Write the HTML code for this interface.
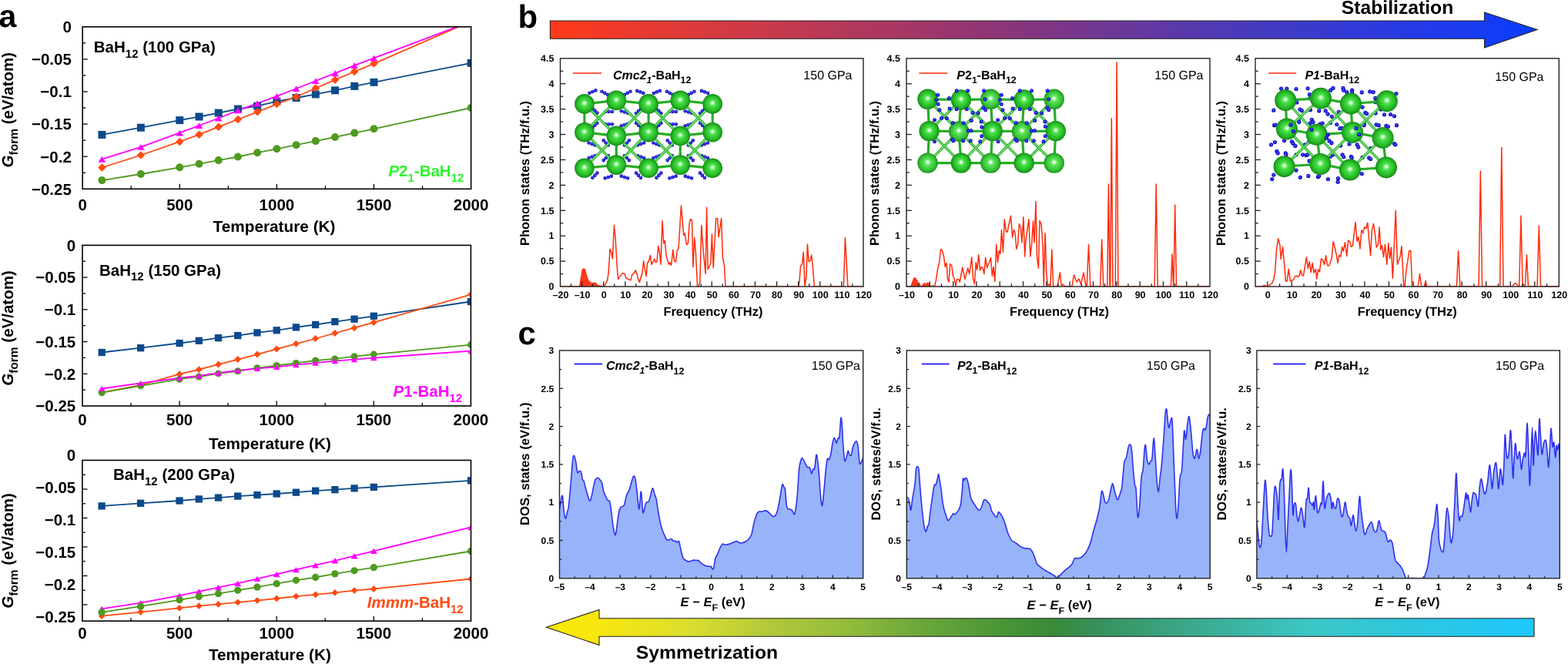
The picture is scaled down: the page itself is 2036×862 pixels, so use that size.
<!DOCTYPE html>
<html><head><meta charset="utf-8"><title>BaH12 figure</title>
<style>html,body{margin:0;padding:0;background:#fff;} svg{display:block;} text{font-family:'Liberation Sans', Arial, Helvetica, sans-serif;}</style>
</head><body>
<svg width="2036" height="862" viewBox="0 0 2036 862" font-family="'Liberation Sans', Arial, Helvetica, sans-serif" text-rendering="geometricPrecision">
<rect width="2036" height="862" fill="#fff"/>
<defs>
<radialGradient id="gBa" cx="0.5" cy="0.5" r="0.5" fx="0.5" fy="0.45">
<stop offset="0" stop-color="#ffffff"/><stop offset="0.1" stop-color="#c8fac8"/><stop offset="0.32" stop-color="#48e048"/><stop offset="0.72" stop-color="#28bd28"/><stop offset="0.92" stop-color="#1c9a1c"/><stop offset="1" stop-color="#148414"/></radialGradient>
<radialGradient id="gBa2" cx="0.5" cy="0.5" r="0.5" fx="0.5" fy="0.45">
<stop offset="0" stop-color="#ffffff"/><stop offset="0.1" stop-color="#d0fad0"/><stop offset="0.32" stop-color="#5ce25c"/><stop offset="0.72" stop-color="#38c438"/><stop offset="0.92" stop-color="#26a226"/><stop offset="1" stop-color="#1a8c1a"/></radialGradient>
<radialGradient id="gH" cx="0.5" cy="0.5" r="0.5" fx="0.45" fy="0.4">
<stop offset="0" stop-color="#7878ff"/><stop offset="0.45" stop-color="#2424ea"/><stop offset="1" stop-color="#0c0cb0"/></radialGradient>
<linearGradient id="gTop" gradientUnits="userSpaceOnUse" x1="714" y1="0" x2="1996" y2="0">
<stop offset="0" stop-color="#ff3a1a"/><stop offset="0.22" stop-color="#c83a4c"/><stop offset="0.46" stop-color="#8c3578"/><stop offset="0.69" stop-color="#4b3ab8"/><stop offset="0.85" stop-color="#2a3ae0"/><stop offset="1" stop-color="#0a3cff"/></linearGradient>
<linearGradient id="gBot" gradientUnits="userSpaceOnUse" x1="709.5" y1="0" x2="1992" y2="0">
<stop offset="0" stop-color="#fbe905"/><stop offset="0.06" stop-color="#f6e612"/><stop offset="0.149" stop-color="#d8de30"/><stop offset="0.226" stop-color="#b2c83a"/><stop offset="0.304" stop-color="#94bc3c"/><stop offset="0.382" stop-color="#6aa63a"/><stop offset="0.46" stop-color="#4a9636"/><stop offset="0.515" stop-color="#388a3a"/><stop offset="0.554" stop-color="#36905a"/><stop offset="0.616" stop-color="#3aa07a"/><stop offset="0.772" stop-color="#3cc6c6"/><stop offset="1" stop-color="#1ec8ff"/></linearGradient>
</defs>
<clipPath id="c1"><rect x="107.2" y="34.8" width="504.4" height="210.5"/></clipPath>
<g clip-path="url(#c1)">
<polyline points="132.42,174.9 182.86,165.7 233.3,156.1 258.52,151.5 283.74,146.6 308.96,141.5 334.18,137.7 359.4,131.6 384.62,127 409.84,122.4 435.06,117.3 460.28,111.9 485.5,106.8 611.6,81.8" fill="none" stroke="#0b4a8b" stroke-width="1.8" stroke-linejoin="round" />
<polyline points="132.42,217.5 182.86,201.5 233.3,183.9 258.52,174.7 283.74,164.7 308.96,155 334.18,145.3 359.4,135.1 384.62,125.7 409.84,114.5 435.06,103.7 460.28,93 485.5,82.6 611.6,27.7" fill="none" stroke="#ff4a12" stroke-width="1.8" stroke-linejoin="round" />
<polyline points="132.42,234.1 182.86,226 233.3,217.3 258.52,212.7 283.74,208.1 308.96,203.5 334.18,198.2 359.4,193.3 384.62,188.2 409.84,183.1 435.06,178 460.28,172.6 485.5,167.3 611.6,140" fill="none" stroke="#4e9a1f" stroke-width="1.8" stroke-linejoin="round" />
<polyline points="132.42,206.6 182.86,190.8 233.3,172.4 258.52,163 283.74,153.5 308.96,143.3 334.18,134.1 359.4,124.9 384.62,115 409.84,105 435.06,95.1 460.28,84.9 485.5,75.4 611.6,27.9" fill="none" stroke="#ff00ff" stroke-width="1.8" stroke-linejoin="round" />
<rect x="127.42" y="169.9" width="10" height="10" fill="#0b4a8b"/>
<rect x="177.86" y="160.7" width="10" height="10" fill="#0b4a8b"/>
<rect x="228.3" y="151.1" width="10" height="10" fill="#0b4a8b"/>
<rect x="253.52" y="146.5" width="10" height="10" fill="#0b4a8b"/>
<rect x="278.74" y="141.6" width="10" height="10" fill="#0b4a8b"/>
<rect x="303.96" y="136.5" width="10" height="10" fill="#0b4a8b"/>
<rect x="329.18" y="132.7" width="10" height="10" fill="#0b4a8b"/>
<rect x="354.4" y="126.6" width="10" height="10" fill="#0b4a8b"/>
<rect x="379.62" y="122" width="10" height="10" fill="#0b4a8b"/>
<rect x="404.84" y="117.4" width="10" height="10" fill="#0b4a8b"/>
<rect x="430.06" y="112.3" width="10" height="10" fill="#0b4a8b"/>
<rect x="455.28" y="106.9" width="10" height="10" fill="#0b4a8b"/>
<rect x="480.5" y="101.8" width="10" height="10" fill="#0b4a8b"/>
<rect x="606.6" y="76.8" width="10" height="10" fill="#0b4a8b"/>
<polygon points="132.42,212.25 137.67,217.5 132.42,222.75 127.17,217.5" fill="#ff4a12"/>
<polygon points="182.86,196.25 188.11,201.5 182.86,206.75 177.61,201.5" fill="#ff4a12"/>
<polygon points="233.3,178.65 238.55,183.9 233.3,189.15 228.05,183.9" fill="#ff4a12"/>
<polygon points="258.52,169.45 263.77,174.7 258.52,179.95 253.27,174.7" fill="#ff4a12"/>
<polygon points="283.74,159.45 288.99,164.7 283.74,169.95 278.49,164.7" fill="#ff4a12"/>
<polygon points="308.96,149.75 314.21,155 308.96,160.25 303.71,155" fill="#ff4a12"/>
<polygon points="334.18,140.05 339.43,145.3 334.18,150.55 328.93,145.3" fill="#ff4a12"/>
<polygon points="359.4,129.85 364.65,135.1 359.4,140.35 354.15,135.1" fill="#ff4a12"/>
<polygon points="384.62,120.45 389.87,125.7 384.62,130.95 379.37,125.7" fill="#ff4a12"/>
<polygon points="409.84,109.25 415.09,114.5 409.84,119.75 404.59,114.5" fill="#ff4a12"/>
<polygon points="435.06,98.45 440.31,103.7 435.06,108.95 429.81,103.7" fill="#ff4a12"/>
<polygon points="460.28,87.75 465.53,93 460.28,98.25 455.03,93" fill="#ff4a12"/>
<polygon points="485.5,77.35 490.75,82.6 485.5,87.85 480.25,82.6" fill="#ff4a12"/>
<polygon points="611.6,22.45 616.85,27.7 611.6,32.95 606.35,27.7" fill="#ff4a12"/>
<circle cx="132.42" cy="234.1" r="5" fill="#4e9a1f"/>
<circle cx="182.86" cy="226" r="5" fill="#4e9a1f"/>
<circle cx="233.3" cy="217.3" r="5" fill="#4e9a1f"/>
<circle cx="258.52" cy="212.7" r="5" fill="#4e9a1f"/>
<circle cx="283.74" cy="208.1" r="5" fill="#4e9a1f"/>
<circle cx="308.96" cy="203.5" r="5" fill="#4e9a1f"/>
<circle cx="334.18" cy="198.2" r="5" fill="#4e9a1f"/>
<circle cx="359.4" cy="193.3" r="5" fill="#4e9a1f"/>
<circle cx="384.62" cy="188.2" r="5" fill="#4e9a1f"/>
<circle cx="409.84" cy="183.1" r="5" fill="#4e9a1f"/>
<circle cx="435.06" cy="178" r="5" fill="#4e9a1f"/>
<circle cx="460.28" cy="172.6" r="5" fill="#4e9a1f"/>
<circle cx="485.5" cy="167.3" r="5" fill="#4e9a1f"/>
<circle cx="611.6" cy="140" r="5" fill="#4e9a1f"/>
<polygon points="132.42,202.8 137.17,210.64 127.67,210.64" fill="#ff00ff"/>
<polygon points="182.86,187 187.61,194.84 178.11,194.84" fill="#ff00ff"/>
<polygon points="233.3,168.6 238.05,176.44 228.55,176.44" fill="#ff00ff"/>
<polygon points="258.52,159.2 263.27,167.04 253.77,167.04" fill="#ff00ff"/>
<polygon points="283.74,149.7 288.49,157.54 278.99,157.54" fill="#ff00ff"/>
<polygon points="308.96,139.5 313.71,147.34 304.21,147.34" fill="#ff00ff"/>
<polygon points="334.18,130.3 338.93,138.14 329.43,138.14" fill="#ff00ff"/>
<polygon points="359.4,121.1 364.15,128.94 354.65,128.94" fill="#ff00ff"/>
<polygon points="384.62,111.2 389.37,119.04 379.87,119.04" fill="#ff00ff"/>
<polygon points="409.84,101.2 414.59,109.04 405.09,109.04" fill="#ff00ff"/>
<polygon points="435.06,91.3 439.81,99.14 430.31,99.14" fill="#ff00ff"/>
<polygon points="460.28,81.1 465.03,88.94 455.53,88.94" fill="#ff00ff"/>
<polygon points="485.5,71.6 490.25,79.44 480.75,79.44" fill="#ff00ff"/>
<polygon points="611.6,24.1 616.35,31.94 606.85,31.94" fill="#ff00ff"/>
</g>
<rect x="107.2" y="34.8" width="504.4" height="210.5" fill="none" stroke="#000" stroke-width="1.6"/>
<line x1="107.2" y1="55.85" x2="111.2" y2="55.85" stroke="#000" stroke-width="1.3" />
<line x1="107.2" y1="76.9" x2="113.7" y2="76.9" stroke="#000" stroke-width="1.3" />
<line x1="107.2" y1="97.95" x2="111.2" y2="97.95" stroke="#000" stroke-width="1.3" />
<line x1="107.2" y1="119" x2="113.7" y2="119" stroke="#000" stroke-width="1.3" />
<line x1="107.2" y1="140.05" x2="111.2" y2="140.05" stroke="#000" stroke-width="1.3" />
<line x1="107.2" y1="161.1" x2="113.7" y2="161.1" stroke="#000" stroke-width="1.3" />
<line x1="107.2" y1="182.15" x2="111.2" y2="182.15" stroke="#000" stroke-width="1.3" />
<line x1="107.2" y1="203.2" x2="113.7" y2="203.2" stroke="#000" stroke-width="1.3" />
<line x1="107.2" y1="224.25" x2="111.2" y2="224.25" stroke="#000" stroke-width="1.3" />
<line x1="170.25" y1="245.3" x2="170.25" y2="241.3" stroke="#000" stroke-width="1.3" />
<line x1="233.3" y1="245.3" x2="233.3" y2="238.8" stroke="#000" stroke-width="1.3" />
<line x1="296.35" y1="245.3" x2="296.35" y2="241.3" stroke="#000" stroke-width="1.3" />
<line x1="359.4" y1="245.3" x2="359.4" y2="238.8" stroke="#000" stroke-width="1.3" />
<line x1="422.45" y1="245.3" x2="422.45" y2="241.3" stroke="#000" stroke-width="1.3" />
<line x1="485.5" y1="245.3" x2="485.5" y2="238.8" stroke="#000" stroke-width="1.3" />
<line x1="548.55" y1="245.3" x2="548.55" y2="241.3" stroke="#000" stroke-width="1.3" />
<text x="92.8" y="42.1" font-size="20.5" font-weight="bold" text-anchor="end" fill="#000" font-style="normal" >0</text>
<text x="92.8" y="84.2" font-size="20.5" font-weight="bold" text-anchor="end" fill="#000" font-style="normal" >&#8722;0.05</text>
<text x="92.8" y="126.3" font-size="20.5" font-weight="bold" text-anchor="end" fill="#000" font-style="normal" >&#8722;0.1</text>
<text x="92.8" y="168.4" font-size="20.5" font-weight="bold" text-anchor="end" fill="#000" font-style="normal" >&#8722;0.15</text>
<text x="92.8" y="210.5" font-size="20.5" font-weight="bold" text-anchor="end" fill="#000" font-style="normal" >&#8722;0.2</text>
<text x="92.8" y="252.6" font-size="20.5" font-weight="bold" text-anchor="end" fill="#000" font-style="normal" >&#8722;0.25</text>
<text x="107.2" y="272.8" font-size="20.5" font-weight="bold" text-anchor="middle" fill="#000" font-style="normal" >0</text>
<text x="233.3" y="272.8" font-size="20.5" font-weight="bold" text-anchor="middle" fill="#000" font-style="normal" >500</text>
<text x="359.4" y="272.8" font-size="20.5" font-weight="bold" text-anchor="middle" fill="#000" font-style="normal" >1000</text>
<text x="485.5" y="272.8" font-size="20.5" font-weight="bold" text-anchor="middle" fill="#000" font-style="normal" >1500</text>
<text x="611.6" y="272.8" font-size="20.5" font-weight="bold" text-anchor="middle" fill="#000" font-style="normal" >2000</text>
<text x="356" y="300.7" font-size="20.5" font-weight="bold" text-anchor="middle" fill="#000" font-style="normal" textLength="159" lengthAdjust="spacingAndGlyphs">Temperature (K)</text>
<text transform="translate(17.0,142.7) rotate(-90)" font-size="20.5" font-weight="bold" text-anchor="middle"><tspan font-style="italic">G</tspan><tspan font-size="15.5" dy="5.5">form</tspan><tspan dy="-5.5"> (eV/atom)</tspan></text>
<text x="121.8" y="68.3" font-size="20.5" font-weight="bold">BaH<tspan font-size="15" dy="6.5">12</tspan><tspan dy="-6.5"> (100 GPa)</tspan></text>
<text x="504.4" y="229" font-size="20.5" font-weight="bold" fill="#2df52d"><tspan font-style="italic">P</tspan>2<tspan font-size="15" dy="6.5">1</tspan><tspan dy="-6.5">-BaH</tspan><tspan font-size="15" dy="6.5">12</tspan></text>
<clipPath id="c2"><rect x="107" y="318.4" width="504.4" height="208.6"/></clipPath>
<g clip-path="url(#c2)">
<polyline points="132.22,457.5 182.66,451.7 233.1,445.5 258.32,442.3 283.54,438.7 308.76,435.6 333.98,431.9 359.2,428.8 384.42,424.9 409.64,421.5 434.86,417.6 460.08,414.2 485.3,410.3 611.4,391.5" fill="none" stroke="#0b4a8b" stroke-width="1.8" stroke-linejoin="round" />
<polyline points="132.22,509.7 182.66,500 233.1,485.7 258.32,479.7 283.54,473.1 308.76,466.6 333.98,460.1 359.2,453.1 384.42,446.3 409.64,439.5 434.86,432.5 460.08,425.7 485.3,418.6 611.4,382.3" fill="none" stroke="#ff4a12" stroke-width="1.8" stroke-linejoin="round" />
<polyline points="132.22,509.7 182.66,500.8 233.1,492.2 258.32,489.1 283.54,484.9 308.76,481.8 333.98,477.8 359.2,474.5 384.42,471.4 409.64,468 434.86,465.9 460.08,462.7 485.3,460.1 611.4,447.6" fill="none" stroke="#4e9a1f" stroke-width="1.8" stroke-linejoin="round" />
<polyline points="132.22,504.5 182.66,497.4 233.1,490.6 258.32,488 283.54,484.1 308.76,481 333.98,478.4 359.2,476.3 384.42,473.7 409.64,471.1 434.86,468.7 460.08,466.7 485.3,464.6 611.4,455.7" fill="none" stroke="#ff00ff" stroke-width="1.8" stroke-linejoin="round" />
<rect x="127.57" y="452.85" width="9.3" height="9.3" fill="#0b4a8b"/>
<rect x="178.01" y="447.05" width="9.3" height="9.3" fill="#0b4a8b"/>
<rect x="228.45" y="440.85" width="9.3" height="9.3" fill="#0b4a8b"/>
<rect x="253.67" y="437.65" width="9.3" height="9.3" fill="#0b4a8b"/>
<rect x="278.89" y="434.05" width="9.3" height="9.3" fill="#0b4a8b"/>
<rect x="304.11" y="430.95" width="9.3" height="9.3" fill="#0b4a8b"/>
<rect x="329.33" y="427.25" width="9.3" height="9.3" fill="#0b4a8b"/>
<rect x="354.55" y="424.15" width="9.3" height="9.3" fill="#0b4a8b"/>
<rect x="379.77" y="420.25" width="9.3" height="9.3" fill="#0b4a8b"/>
<rect x="404.99" y="416.85" width="9.3" height="9.3" fill="#0b4a8b"/>
<rect x="430.21" y="412.95" width="9.3" height="9.3" fill="#0b4a8b"/>
<rect x="455.43" y="409.55" width="9.3" height="9.3" fill="#0b4a8b"/>
<rect x="480.65" y="405.65" width="9.3" height="9.3" fill="#0b4a8b"/>
<rect x="606.75" y="386.85" width="9.3" height="9.3" fill="#0b4a8b"/>
<polygon points="132.22,505.2 136.72,509.7 132.22,514.2 127.72,509.7" fill="#ff4a12"/>
<polygon points="182.66,495.5 187.16,500 182.66,504.5 178.16,500" fill="#ff4a12"/>
<polygon points="233.1,481.2 237.6,485.7 233.1,490.2 228.6,485.7" fill="#ff4a12"/>
<polygon points="258.32,475.2 262.82,479.7 258.32,484.2 253.82,479.7" fill="#ff4a12"/>
<polygon points="283.54,468.6 288.04,473.1 283.54,477.6 279.04,473.1" fill="#ff4a12"/>
<polygon points="308.76,462.1 313.26,466.6 308.76,471.1 304.26,466.6" fill="#ff4a12"/>
<polygon points="333.98,455.6 338.48,460.1 333.98,464.6 329.48,460.1" fill="#ff4a12"/>
<polygon points="359.2,448.6 363.7,453.1 359.2,457.6 354.7,453.1" fill="#ff4a12"/>
<polygon points="384.42,441.8 388.92,446.3 384.42,450.8 379.92,446.3" fill="#ff4a12"/>
<polygon points="409.64,435 414.14,439.5 409.64,444 405.14,439.5" fill="#ff4a12"/>
<polygon points="434.86,428 439.36,432.5 434.86,437 430.36,432.5" fill="#ff4a12"/>
<polygon points="460.08,421.2 464.58,425.7 460.08,430.2 455.58,425.7" fill="#ff4a12"/>
<polygon points="485.3,414.1 489.8,418.6 485.3,423.1 480.8,418.6" fill="#ff4a12"/>
<polygon points="611.4,377.8 615.9,382.3 611.4,386.8 606.9,382.3" fill="#ff4a12"/>
<circle cx="132.22" cy="509.7" r="4.5" fill="#4e9a1f"/>
<circle cx="182.66" cy="500.8" r="4.5" fill="#4e9a1f"/>
<circle cx="233.1" cy="492.2" r="4.5" fill="#4e9a1f"/>
<circle cx="258.32" cy="489.1" r="4.5" fill="#4e9a1f"/>
<circle cx="283.54" cy="484.9" r="4.5" fill="#4e9a1f"/>
<circle cx="308.76" cy="481.8" r="4.5" fill="#4e9a1f"/>
<circle cx="333.98" cy="477.8" r="4.5" fill="#4e9a1f"/>
<circle cx="359.2" cy="474.5" r="4.5" fill="#4e9a1f"/>
<circle cx="384.42" cy="471.4" r="4.5" fill="#4e9a1f"/>
<circle cx="409.64" cy="468" r="4.5" fill="#4e9a1f"/>
<circle cx="434.86" cy="465.9" r="4.5" fill="#4e9a1f"/>
<circle cx="460.08" cy="462.7" r="4.5" fill="#4e9a1f"/>
<circle cx="485.3" cy="460.1" r="4.5" fill="#4e9a1f"/>
<circle cx="611.4" cy="447.6" r="4.5" fill="#4e9a1f"/>
<polygon points="132.22,501.1 136.47,508.11 127.97,508.11" fill="#ff00ff"/>
<polygon points="182.66,494 186.91,501.01 178.41,501.01" fill="#ff00ff"/>
<polygon points="233.1,487.2 237.35,494.21 228.85,494.21" fill="#ff00ff"/>
<polygon points="258.32,484.6 262.57,491.61 254.07,491.61" fill="#ff00ff"/>
<polygon points="283.54,480.7 287.79,487.71 279.29,487.71" fill="#ff00ff"/>
<polygon points="308.76,477.6 313.01,484.61 304.51,484.61" fill="#ff00ff"/>
<polygon points="333.98,475 338.23,482.01 329.73,482.01" fill="#ff00ff"/>
<polygon points="359.2,472.9 363.45,479.91 354.95,479.91" fill="#ff00ff"/>
<polygon points="384.42,470.3 388.67,477.31 380.17,477.31" fill="#ff00ff"/>
<polygon points="409.64,467.7 413.89,474.71 405.39,474.71" fill="#ff00ff"/>
<polygon points="434.86,465.3 439.11,472.31 430.61,472.31" fill="#ff00ff"/>
<polygon points="460.08,463.3 464.33,470.31 455.83,470.31" fill="#ff00ff"/>
<polygon points="485.3,461.2 489.55,468.21 481.05,468.21" fill="#ff00ff"/>
<polygon points="611.4,452.3 615.65,459.31 607.15,459.31" fill="#ff00ff"/>
</g>
<rect x="107" y="318.4" width="504.4" height="208.6" fill="none" stroke="#000" stroke-width="1.6"/>
<line x1="107" y1="339.26" x2="111" y2="339.26" stroke="#000" stroke-width="1.3" />
<line x1="107" y1="360.12" x2="113.5" y2="360.12" stroke="#000" stroke-width="1.3" />
<line x1="107" y1="380.98" x2="111" y2="380.98" stroke="#000" stroke-width="1.3" />
<line x1="107" y1="401.84" x2="113.5" y2="401.84" stroke="#000" stroke-width="1.3" />
<line x1="107" y1="422.7" x2="111" y2="422.7" stroke="#000" stroke-width="1.3" />
<line x1="107" y1="443.56" x2="113.5" y2="443.56" stroke="#000" stroke-width="1.3" />
<line x1="107" y1="464.42" x2="111" y2="464.42" stroke="#000" stroke-width="1.3" />
<line x1="107" y1="485.28" x2="113.5" y2="485.28" stroke="#000" stroke-width="1.3" />
<line x1="107" y1="506.14" x2="111" y2="506.14" stroke="#000" stroke-width="1.3" />
<line x1="170.05" y1="527" x2="170.05" y2="523" stroke="#000" stroke-width="1.3" />
<line x1="233.1" y1="527" x2="233.1" y2="520.5" stroke="#000" stroke-width="1.3" />
<line x1="296.15" y1="527" x2="296.15" y2="523" stroke="#000" stroke-width="1.3" />
<line x1="359.2" y1="527" x2="359.2" y2="520.5" stroke="#000" stroke-width="1.3" />
<line x1="422.25" y1="527" x2="422.25" y2="523" stroke="#000" stroke-width="1.3" />
<line x1="485.3" y1="527" x2="485.3" y2="520.5" stroke="#000" stroke-width="1.3" />
<line x1="548.35" y1="527" x2="548.35" y2="523" stroke="#000" stroke-width="1.3" />
<text x="98.2" y="325.7" font-size="20.5" font-weight="bold" text-anchor="end" fill="#000" font-style="normal" >0</text>
<text x="98.2" y="367.42" font-size="20.5" font-weight="bold" text-anchor="end" fill="#000" font-style="normal" >&#8722;0.05</text>
<text x="98.2" y="409.14" font-size="20.5" font-weight="bold" text-anchor="end" fill="#000" font-style="normal" >&#8722;0.1</text>
<text x="98.2" y="450.86" font-size="20.5" font-weight="bold" text-anchor="end" fill="#000" font-style="normal" >&#8722;0.15</text>
<text x="98.2" y="492.58" font-size="20.5" font-weight="bold" text-anchor="end" fill="#000" font-style="normal" >&#8722;0.2</text>
<text x="98.2" y="534.3" font-size="20.5" font-weight="bold" text-anchor="end" fill="#000" font-style="normal" >&#8722;0.25</text>
<text x="107" y="551.9" font-size="20.5" font-weight="bold" text-anchor="middle" fill="#000" font-style="normal" >0</text>
<text x="233.1" y="551.9" font-size="20.5" font-weight="bold" text-anchor="middle" fill="#000" font-style="normal" >500</text>
<text x="359.2" y="551.9" font-size="20.5" font-weight="bold" text-anchor="middle" fill="#000" font-style="normal" >1000</text>
<text x="485.3" y="551.9" font-size="20.5" font-weight="bold" text-anchor="middle" fill="#000" font-style="normal" >1500</text>
<text x="611.4" y="551.9" font-size="20.5" font-weight="bold" text-anchor="middle" fill="#000" font-style="normal" >2000</text>
<text x="350.4" y="582.7" font-size="20.5" font-weight="bold" text-anchor="middle" fill="#000" font-style="normal" textLength="159" lengthAdjust="spacingAndGlyphs">Temperature (K)</text>
<text transform="translate(17.0,426) rotate(-90)" font-size="20.5" font-weight="bold" text-anchor="middle"><tspan font-style="italic">G</tspan><tspan font-size="15.5" dy="5.5">form</tspan><tspan dy="-5.5"> (eV/atom)</tspan></text>
<text x="129" y="357.5" font-size="20.5" font-weight="bold">BaH<tspan font-size="15" dy="6.5">12</tspan><tspan dy="-6.5"> (150 GPa)</tspan></text>
<text x="510.6" y="515" font-size="20.5" font-weight="bold" fill="#ff00ff"><tspan font-style="italic">P</tspan>1-BaH<tspan font-size="15" dy="6.5">12</tspan></text>
<clipPath id="c3"><rect x="106.9" y="597.5" width="504.6" height="208.7"/></clipPath>
<g clip-path="url(#c3)">
<polyline points="132.13,656.9 182.59,653.3 233.05,650 258.28,647.9 283.51,646.1 308.74,644.1 333.97,642.6 359.2,641 384.43,639.2 409.66,637.2 434.89,635.7 460.12,633.9 485.35,632.4 611.5,623.9" fill="none" stroke="#0b4a8b" stroke-width="1.8" stroke-linejoin="round" />
<polyline points="132.13,799.7 182.59,794.6 233.05,789.3 258.28,786.7 283.51,784.4 308.74,781.9 333.97,779.6 359.2,777 384.43,774.2 409.66,771.9 434.89,769.4 460.12,766.6 485.35,764.5 611.5,751.5" fill="none" stroke="#ff4a12" stroke-width="1.8" stroke-linejoin="round" />
<polyline points="132.13,790.3 182.59,782.7 233.05,773.2 258.28,767.9 283.51,762.7 308.74,757.4 333.97,751.3 359.2,745.4 384.43,739.5 409.66,733.7 434.89,727.8 460.12,721.7 485.35,715.3 611.5,684.4" fill="none" stroke="#ff00ff" stroke-width="1.8" stroke-linejoin="round" />
<polyline points="132.13,794.9 182.59,787.2 233.05,778.8 258.28,774.5 283.51,770.7 308.74,766.3 333.97,762.2 359.2,757.7 384.43,753.3 409.66,749.5 434.89,744.9 460.12,740.8 485.35,736.7 611.5,715.5" fill="none" stroke="#4e9a1f" stroke-width="1.8" stroke-linejoin="round" />
<rect x="127.48" y="652.25" width="9.3" height="9.3" fill="#0b4a8b"/>
<rect x="177.94" y="648.65" width="9.3" height="9.3" fill="#0b4a8b"/>
<rect x="228.4" y="645.35" width="9.3" height="9.3" fill="#0b4a8b"/>
<rect x="253.63" y="643.25" width="9.3" height="9.3" fill="#0b4a8b"/>
<rect x="278.86" y="641.45" width="9.3" height="9.3" fill="#0b4a8b"/>
<rect x="304.09" y="639.45" width="9.3" height="9.3" fill="#0b4a8b"/>
<rect x="329.32" y="637.95" width="9.3" height="9.3" fill="#0b4a8b"/>
<rect x="354.55" y="636.35" width="9.3" height="9.3" fill="#0b4a8b"/>
<rect x="379.78" y="634.55" width="9.3" height="9.3" fill="#0b4a8b"/>
<rect x="405.01" y="632.55" width="9.3" height="9.3" fill="#0b4a8b"/>
<rect x="430.24" y="631.05" width="9.3" height="9.3" fill="#0b4a8b"/>
<rect x="455.47" y="629.25" width="9.3" height="9.3" fill="#0b4a8b"/>
<rect x="480.7" y="627.75" width="9.3" height="9.3" fill="#0b4a8b"/>
<rect x="606.85" y="619.25" width="9.3" height="9.3" fill="#0b4a8b"/>
<polygon points="132.13,795.3 136.53,799.7 132.13,804.1 127.73,799.7" fill="#ff4a12"/>
<polygon points="182.59,790.2 186.99,794.6 182.59,799 178.19,794.6" fill="#ff4a12"/>
<polygon points="233.05,784.9 237.45,789.3 233.05,793.7 228.65,789.3" fill="#ff4a12"/>
<polygon points="258.28,782.3 262.68,786.7 258.28,791.1 253.88,786.7" fill="#ff4a12"/>
<polygon points="283.51,780 287.91,784.4 283.51,788.8 279.11,784.4" fill="#ff4a12"/>
<polygon points="308.74,777.5 313.14,781.9 308.74,786.3 304.34,781.9" fill="#ff4a12"/>
<polygon points="333.97,775.2 338.37,779.6 333.97,784 329.57,779.6" fill="#ff4a12"/>
<polygon points="359.2,772.6 363.6,777 359.2,781.4 354.8,777" fill="#ff4a12"/>
<polygon points="384.43,769.8 388.83,774.2 384.43,778.6 380.03,774.2" fill="#ff4a12"/>
<polygon points="409.66,767.5 414.06,771.9 409.66,776.3 405.26,771.9" fill="#ff4a12"/>
<polygon points="434.89,765 439.29,769.4 434.89,773.8 430.49,769.4" fill="#ff4a12"/>
<polygon points="460.12,762.2 464.52,766.6 460.12,771 455.72,766.6" fill="#ff4a12"/>
<polygon points="485.35,760.1 489.75,764.5 485.35,768.9 480.95,764.5" fill="#ff4a12"/>
<polygon points="611.5,747.1 615.9,751.5 611.5,755.9 607.1,751.5" fill="#ff4a12"/>
<polygon points="132.13,786.7 136.63,794.12 127.63,794.12" fill="#ff00ff"/>
<polygon points="182.59,779.1 187.09,786.53 178.09,786.53" fill="#ff00ff"/>
<polygon points="233.05,769.6 237.55,777.03 228.55,777.03" fill="#ff00ff"/>
<polygon points="258.28,764.3 262.78,771.73 253.78,771.73" fill="#ff00ff"/>
<polygon points="283.51,759.1 288.01,766.53 279.01,766.53" fill="#ff00ff"/>
<polygon points="308.74,753.8 313.24,761.23 304.24,761.23" fill="#ff00ff"/>
<polygon points="333.97,747.7 338.47,755.12 329.47,755.12" fill="#ff00ff"/>
<polygon points="359.2,741.8 363.7,749.23 354.7,749.23" fill="#ff00ff"/>
<polygon points="384.43,735.9 388.93,743.33 379.93,743.33" fill="#ff00ff"/>
<polygon points="409.66,730.1 414.16,737.53 405.16,737.53" fill="#ff00ff"/>
<polygon points="434.89,724.2 439.39,731.62 430.39,731.62" fill="#ff00ff"/>
<polygon points="460.12,718.1 464.62,725.53 455.62,725.53" fill="#ff00ff"/>
<polygon points="485.35,711.7 489.85,719.12 480.85,719.12" fill="#ff00ff"/>
<polygon points="611.5,680.8 616,688.23 607,688.23" fill="#ff00ff"/>
<circle cx="132.13" cy="794.9" r="4.65" fill="#4e9a1f"/>
<circle cx="182.59" cy="787.2" r="4.65" fill="#4e9a1f"/>
<circle cx="233.05" cy="778.8" r="4.65" fill="#4e9a1f"/>
<circle cx="258.28" cy="774.5" r="4.65" fill="#4e9a1f"/>
<circle cx="283.51" cy="770.7" r="4.65" fill="#4e9a1f"/>
<circle cx="308.74" cy="766.3" r="4.65" fill="#4e9a1f"/>
<circle cx="333.97" cy="762.2" r="4.65" fill="#4e9a1f"/>
<circle cx="359.2" cy="757.7" r="4.65" fill="#4e9a1f"/>
<circle cx="384.43" cy="753.3" r="4.65" fill="#4e9a1f"/>
<circle cx="409.66" cy="749.5" r="4.65" fill="#4e9a1f"/>
<circle cx="434.89" cy="744.9" r="4.65" fill="#4e9a1f"/>
<circle cx="460.12" cy="740.8" r="4.65" fill="#4e9a1f"/>
<circle cx="485.35" cy="736.7" r="4.65" fill="#4e9a1f"/>
<circle cx="611.5" cy="715.5" r="4.65" fill="#4e9a1f"/>
</g>
<rect x="106.9" y="597.5" width="504.6" height="208.7" fill="none" stroke="#000" stroke-width="1.6"/>
<line x1="106.9" y1="616.25" x2="110.9" y2="616.25" stroke="#000" stroke-width="1.3" />
<line x1="106.9" y1="635" x2="113.4" y2="635" stroke="#000" stroke-width="1.3" />
<line x1="106.9" y1="653.75" x2="110.9" y2="653.75" stroke="#000" stroke-width="1.3" />
<line x1="106.9" y1="672.5" x2="113.4" y2="672.5" stroke="#000" stroke-width="1.3" />
<line x1="106.9" y1="691.25" x2="110.9" y2="691.25" stroke="#000" stroke-width="1.3" />
<line x1="106.9" y1="710" x2="113.4" y2="710" stroke="#000" stroke-width="1.3" />
<line x1="106.9" y1="728.75" x2="110.9" y2="728.75" stroke="#000" stroke-width="1.3" />
<line x1="106.9" y1="747.5" x2="113.4" y2="747.5" stroke="#000" stroke-width="1.3" />
<line x1="106.9" y1="766.25" x2="110.9" y2="766.25" stroke="#000" stroke-width="1.3" />
<line x1="106.9" y1="785" x2="113.4" y2="785" stroke="#000" stroke-width="1.3" />
<line x1="169.98" y1="806.2" x2="169.98" y2="802.2" stroke="#000" stroke-width="1.3" />
<line x1="233.05" y1="806.2" x2="233.05" y2="799.7" stroke="#000" stroke-width="1.3" />
<line x1="296.12" y1="806.2" x2="296.12" y2="802.2" stroke="#000" stroke-width="1.3" />
<line x1="359.2" y1="806.2" x2="359.2" y2="799.7" stroke="#000" stroke-width="1.3" />
<line x1="422.27" y1="806.2" x2="422.27" y2="802.2" stroke="#000" stroke-width="1.3" />
<line x1="485.35" y1="806.2" x2="485.35" y2="799.7" stroke="#000" stroke-width="1.3" />
<line x1="548.42" y1="806.2" x2="548.42" y2="802.2" stroke="#000" stroke-width="1.3" />
<text x="98.2" y="598.4" font-size="20.5" font-weight="bold" text-anchor="end" fill="#000" font-style="normal" >0</text>
<text x="98.2" y="640.4" font-size="20.5" font-weight="bold" text-anchor="end" fill="#000" font-style="normal" >&#8722;0.05</text>
<text x="98.2" y="682.4" font-size="20.5" font-weight="bold" text-anchor="end" fill="#000" font-style="normal" >&#8722;0.1</text>
<text x="98.2" y="724.4" font-size="20.5" font-weight="bold" text-anchor="end" fill="#000" font-style="normal" >&#8722;0.15</text>
<text x="98.2" y="766.4" font-size="20.5" font-weight="bold" text-anchor="end" fill="#000" font-style="normal" >&#8722;0.2</text>
<text x="98.2" y="808.4" font-size="20.5" font-weight="bold" text-anchor="end" fill="#000" font-style="normal" >&#8722;0.25</text>
<text x="106.9" y="829.1" font-size="20.5" font-weight="bold" text-anchor="middle" fill="#000" font-style="normal" >0</text>
<text x="233.05" y="829.1" font-size="20.5" font-weight="bold" text-anchor="middle" fill="#000" font-style="normal" >500</text>
<text x="359.2" y="829.1" font-size="20.5" font-weight="bold" text-anchor="middle" fill="#000" font-style="normal" >1000</text>
<text x="485.35" y="829.1" font-size="20.5" font-weight="bold" text-anchor="middle" fill="#000" font-style="normal" >1500</text>
<text x="611.5" y="829.1" font-size="20.5" font-weight="bold" text-anchor="middle" fill="#000" font-style="normal" >2000</text>
<text x="350.4" y="856.5" font-size="20.5" font-weight="bold" text-anchor="middle" fill="#000" font-style="normal" textLength="159" lengthAdjust="spacingAndGlyphs">Temperature (K)</text>
<text transform="translate(17.0,715) rotate(-90)" font-size="20.5" font-weight="bold" text-anchor="middle"><tspan font-style="italic">G</tspan><tspan font-size="15.5" dy="5.5">form</tspan><tspan dy="-5.5"> (eV/atom)</tspan></text>
<text x="147" y="623" font-size="20.5" font-weight="bold">BaH<tspan font-size="15" dy="6.5">12</tspan><tspan dy="-6.5"> (200 GPa)</tspan></text>
<text x="476.8" y="789" font-size="20.5" font-weight="bold" fill="#ff4a12"><tspan font-style="italic">Immm</tspan>-BaH<tspan font-size="15" dy="6.5">12</tspan></text>
<text x="-1.5" y="35" font-size="41" font-weight="bold" text-anchor="start" fill="#000" font-style="normal" >a</text>
<text x="672.5" y="35.5" font-size="42" font-weight="bold" text-anchor="start" fill="#000" font-style="normal" >b</text>
<text x="672.5" y="446.5" font-size="42" font-weight="bold" text-anchor="start" fill="#000" font-style="normal" >c</text>
<clipPath id="c4"><rect x="727.5" y="73.8" width="393.5" height="298.2"/></clipPath>
<g clip-path="url(#c4)">
<polygon points="752.43,371.74 756.2,349.56 756.96,348.81 759.52,349.26 760.73,354.09 762.99,361.63 765.26,365.4 768.27,367.36 771.29,367.36 773.1,366.61 775.06,369.17 777.32,370.68 780.34,370.98 783.66,371.74" fill="#ff3a1c" stroke="#ff2a0a" stroke-width="1"/>
<polyline points="726.49,371.74 783.66,371.74 786.38,368.42 788.64,363.89 790.15,354.09 792.11,323.16 793.92,327.69 795.43,335.99 797.39,292.24 799.2,310.34 801.46,349.56 802.67,362.38 804.48,359.37 808.25,354.84 809.76,354.84 811.57,356.35 812.77,360.88 815.79,362.38 818.81,363.89 821.07,356.35 823.33,354.84 825.14,350.77 827.11,355.6 828.61,362.38 830.42,366.46 831.93,360.88 833.89,355.6 835.7,338.7 837.66,351.07 839.17,358.61 840.68,340.51 842.19,340.21 844.45,331.46 845.96,343.53 849.73,336.29 851.24,340.51 853.05,339.76 854.71,319.39 856.52,328.44 858.03,343.23 859.99,286.66 861.8,315.92 863.31,312.6 865.12,332.21 868.59,343.53 869.65,340.51 871.61,344.28 873.87,324.37 875.68,339.3 877.64,339.76 879.15,325.43 881.11,322.41 884.43,266.9 887.75,305.51 889.26,302.8 891.52,317.88 893.48,315.62 894.99,291.48 896.5,284.39 898.46,286.2 899.97,346.55 901.78,308.53 903.29,325.43 905.55,371.74 907.06,371.44 908.87,366.16 910.83,292.54 912.79,320.9 916.11,355.6 917.62,269.31 919.13,349.56 921.09,345.79 922.9,342.02 924.4,304.01 926.22,347.75 929.68,283.49 931.65,283.49 933.15,307.63 936.62,283.49 938.43,334.48 940.55,345.04 942.05,371.74 1036.86,371.87 1038.02,365.84 1039.52,344.96 1041.5,343.57 1043.24,326.98 1044.98,371.87 1046.95,358.88 1048.46,316.89 1050.2,339.74 1051.94,339.16 1053.68,331.04 1055.42,346.12 1057.39,371.87 1095.43,371.87 1097.41,308.42 1100.89,371.87 1125.59,371.87" fill="none" stroke="#ff2a0a" stroke-width="1.5" stroke-linejoin="round" />
</g>
<rect x="727.5" y="75.8" width="393.5" height="296.2" fill="none" stroke="#222" stroke-width="1.4"/>
<line x1="727.5" y1="355.54" x2="731.3" y2="355.54" stroke="#222" stroke-width="1.3" />
<line x1="727.5" y1="339.09" x2="734.3" y2="339.09" stroke="#222" stroke-width="1.3" />
<line x1="727.5" y1="322.63" x2="731.3" y2="322.63" stroke="#222" stroke-width="1.3" />
<line x1="727.5" y1="306.18" x2="734.3" y2="306.18" stroke="#222" stroke-width="1.3" />
<line x1="727.5" y1="289.72" x2="731.3" y2="289.72" stroke="#222" stroke-width="1.3" />
<line x1="727.5" y1="273.27" x2="734.3" y2="273.27" stroke="#222" stroke-width="1.3" />
<line x1="727.5" y1="256.81" x2="731.3" y2="256.81" stroke="#222" stroke-width="1.3" />
<line x1="727.5" y1="240.36" x2="734.3" y2="240.36" stroke="#222" stroke-width="1.3" />
<line x1="727.5" y1="223.9" x2="731.3" y2="223.9" stroke="#222" stroke-width="1.3" />
<line x1="727.5" y1="207.44" x2="734.3" y2="207.44" stroke="#222" stroke-width="1.3" />
<line x1="727.5" y1="190.99" x2="731.3" y2="190.99" stroke="#222" stroke-width="1.3" />
<line x1="727.5" y1="174.53" x2="734.3" y2="174.53" stroke="#222" stroke-width="1.3" />
<line x1="727.5" y1="158.08" x2="731.3" y2="158.08" stroke="#222" stroke-width="1.3" />
<line x1="727.5" y1="141.62" x2="734.3" y2="141.62" stroke="#222" stroke-width="1.3" />
<line x1="727.5" y1="125.17" x2="731.3" y2="125.17" stroke="#222" stroke-width="1.3" />
<line x1="727.5" y1="108.71" x2="734.3" y2="108.71" stroke="#222" stroke-width="1.3" />
<line x1="727.5" y1="92.26" x2="731.3" y2="92.26" stroke="#222" stroke-width="1.3" />
<line x1="741.55" y1="372" x2="741.55" y2="368.2" stroke="#222" stroke-width="1.3" />
<line x1="755.61" y1="372" x2="755.61" y2="365.2" stroke="#222" stroke-width="1.3" />
<line x1="769.66" y1="372" x2="769.66" y2="368.2" stroke="#222" stroke-width="1.3" />
<line x1="783.71" y1="372" x2="783.71" y2="365.2" stroke="#222" stroke-width="1.3" />
<line x1="797.77" y1="372" x2="797.77" y2="368.2" stroke="#222" stroke-width="1.3" />
<line x1="811.82" y1="372" x2="811.82" y2="365.2" stroke="#222" stroke-width="1.3" />
<line x1="825.88" y1="372" x2="825.88" y2="368.2" stroke="#222" stroke-width="1.3" />
<line x1="839.93" y1="372" x2="839.93" y2="365.2" stroke="#222" stroke-width="1.3" />
<line x1="853.98" y1="372" x2="853.98" y2="368.2" stroke="#222" stroke-width="1.3" />
<line x1="868.04" y1="372" x2="868.04" y2="365.2" stroke="#222" stroke-width="1.3" />
<line x1="882.09" y1="372" x2="882.09" y2="368.2" stroke="#222" stroke-width="1.3" />
<line x1="896.14" y1="372" x2="896.14" y2="365.2" stroke="#222" stroke-width="1.3" />
<line x1="910.2" y1="372" x2="910.2" y2="368.2" stroke="#222" stroke-width="1.3" />
<line x1="924.25" y1="372" x2="924.25" y2="365.2" stroke="#222" stroke-width="1.3" />
<line x1="938.3" y1="372" x2="938.3" y2="368.2" stroke="#222" stroke-width="1.3" />
<line x1="952.36" y1="372" x2="952.36" y2="365.2" stroke="#222" stroke-width="1.3" />
<line x1="966.41" y1="372" x2="966.41" y2="368.2" stroke="#222" stroke-width="1.3" />
<line x1="980.46" y1="372" x2="980.46" y2="365.2" stroke="#222" stroke-width="1.3" />
<line x1="994.52" y1="372" x2="994.52" y2="368.2" stroke="#222" stroke-width="1.3" />
<line x1="1008.57" y1="372" x2="1008.57" y2="365.2" stroke="#222" stroke-width="1.3" />
<line x1="1022.62" y1="372" x2="1022.62" y2="368.2" stroke="#222" stroke-width="1.3" />
<line x1="1036.68" y1="372" x2="1036.68" y2="365.2" stroke="#222" stroke-width="1.3" />
<line x1="1050.73" y1="372" x2="1050.73" y2="368.2" stroke="#222" stroke-width="1.3" />
<line x1="1064.79" y1="372" x2="1064.79" y2="365.2" stroke="#222" stroke-width="1.3" />
<line x1="1078.84" y1="372" x2="1078.84" y2="368.2" stroke="#222" stroke-width="1.3" />
<line x1="1092.89" y1="372" x2="1092.89" y2="365.2" stroke="#222" stroke-width="1.3" />
<line x1="1106.95" y1="372" x2="1106.95" y2="368.2" stroke="#222" stroke-width="1.3" />
<text x="719.5" y="376.3" font-size="12.5" font-weight="bold" text-anchor="end" fill="#000" font-style="normal" >0</text>
<text x="719.5" y="343.39" font-size="12.5" font-weight="bold" text-anchor="end" fill="#000" font-style="normal" >0.5</text>
<text x="719.5" y="310.48" font-size="12.5" font-weight="bold" text-anchor="end" fill="#000" font-style="normal" >1</text>
<text x="719.5" y="277.57" font-size="12.5" font-weight="bold" text-anchor="end" fill="#000" font-style="normal" >1.5</text>
<text x="719.5" y="244.66" font-size="12.5" font-weight="bold" text-anchor="end" fill="#000" font-style="normal" >2</text>
<text x="719.5" y="211.74" font-size="12.5" font-weight="bold" text-anchor="end" fill="#000" font-style="normal" >2.5</text>
<text x="719.5" y="178.83" font-size="12.5" font-weight="bold" text-anchor="end" fill="#000" font-style="normal" >3</text>
<text x="719.5" y="145.92" font-size="12.5" font-weight="bold" text-anchor="end" fill="#000" font-style="normal" >3.5</text>
<text x="719.5" y="113.01" font-size="12.5" font-weight="bold" text-anchor="end" fill="#000" font-style="normal" >4</text>
<text x="719.5" y="80.1" font-size="12.5" font-weight="bold" text-anchor="end" fill="#000" font-style="normal" >4.5</text>
<text x="728" y="387.4" font-size="12.5" font-weight="bold" text-anchor="middle" fill="#000" font-style="normal" >&#8211;20</text>
<text x="756.11" y="387.4" font-size="12.5" font-weight="bold" text-anchor="middle" fill="#000" font-style="normal" >&#8211;10</text>
<text x="784.21" y="387.4" font-size="12.5" font-weight="bold" text-anchor="middle" fill="#000" font-style="normal" >0</text>
<text x="812.32" y="387.4" font-size="12.5" font-weight="bold" text-anchor="middle" fill="#000" font-style="normal" >10</text>
<text x="840.43" y="387.4" font-size="12.5" font-weight="bold" text-anchor="middle" fill="#000" font-style="normal" >20</text>
<text x="868.54" y="387.4" font-size="12.5" font-weight="bold" text-anchor="middle" fill="#000" font-style="normal" >30</text>
<text x="896.64" y="387.4" font-size="12.5" font-weight="bold" text-anchor="middle" fill="#000" font-style="normal" >40</text>
<text x="924.75" y="387.4" font-size="12.5" font-weight="bold" text-anchor="middle" fill="#000" font-style="normal" >50</text>
<text x="952.86" y="387.4" font-size="12.5" font-weight="bold" text-anchor="middle" fill="#000" font-style="normal" >60</text>
<text x="980.96" y="387.4" font-size="12.5" font-weight="bold" text-anchor="middle" fill="#000" font-style="normal" >70</text>
<text x="1009.07" y="387.4" font-size="12.5" font-weight="bold" text-anchor="middle" fill="#000" font-style="normal" >80</text>
<text x="1037.18" y="387.4" font-size="12.5" font-weight="bold" text-anchor="middle" fill="#000" font-style="normal" >90</text>
<text x="1065.29" y="387.4" font-size="12.5" font-weight="bold" text-anchor="middle" fill="#000" font-style="normal" >100</text>
<text x="1093.39" y="387.4" font-size="12.5" font-weight="bold" text-anchor="middle" fill="#000" font-style="normal" >110</text>
<text x="1121.5" y="387.4" font-size="12.5" font-weight="bold" text-anchor="middle" fill="#000" font-style="normal" >120</text>
<text x="925.9" y="410" font-size="16.5" font-weight="bold" text-anchor="middle" fill="#000" font-style="normal" textLength="129" lengthAdjust="spacingAndGlyphs">Frequency (THz)</text>
<text transform="translate(686.7,225) rotate(-90)" font-size="16.4" font-weight="bold" text-anchor="middle" textLength="188" lengthAdjust="spacingAndGlyphs">Phonon states (THz/f.u.)</text>
<line x1="744" y1="95" x2="781" y2="95" stroke="#ff2a0a" stroke-width="1.7" />
<text x="796" y="102.5" font-size="16" font-weight="bold"><tspan font-style="italic">Cmc2</tspan><tspan font-style="italic" font-size="12" dy="5.5">1</tspan><tspan dy="-5.5">-BaH</tspan><tspan font-size="12.5" dy="5.8">12</tspan></text>
<text x="1106.5" y="102.5" font-size="16" font-weight="normal" text-anchor="end" fill="#000" font-style="normal" >150 GPa</text>
<clipPath id="c5"><rect x="1177" y="73.8" width="394" height="298.2"/></clipPath>
<g clip-path="url(#c5)">
<polygon points="1182.82,371.74 1185.09,364.65 1186.9,360.57 1188.86,360.88 1191.12,364.65 1192.63,367.66 1193.83,366.91 1194.89,370.68 1196.4,371.74 1198.66,369.17 1200.62,366.91 1201.98,370.68 1203.19,367.66 1205,366.91 1206.96,369.17 1207.71,371.74" fill="#ff3a1c" stroke="#ff2a0a" stroke-width="1"/>
<polyline points="1176.49,371.74 1207.71,371.74 1213.75,370.68 1215.26,364.65 1217.52,349.56 1219.78,340.51 1221.59,323.47 1223.55,325.43 1225.51,332.97 1227.32,346.55 1228.53,342.02 1229.28,342.02 1230.34,361.63 1232.15,366.16 1233.66,342.77 1235.62,344.28 1237.58,358.61 1239.09,361.63 1240.9,371.44 1242.71,362.38 1244.67,362.84 1246.18,366.16 1249.65,347 1251.46,355.6 1252.97,362.38 1256.74,348.05 1258.7,355.6 1261.72,334.02 1263.53,361.63 1265.34,368.42 1267.3,340.51 1268.81,350.32 1270.77,330.71 1272.58,351.07 1274.39,346.55 1276.35,348.05 1277.86,355.6 1279.67,334.48 1281.63,347.3 1284.65,340.51 1286.46,334.48 1288.42,358.61 1289.93,346.55 1291.89,365.4 1293.7,317.13 1295.51,340.51 1297.47,325.43 1298.98,329.2 1300.49,298.57 1302.45,327.24 1304.26,285 1306.52,300.54 1308.03,301.29 1309.54,293.75 1312.56,280.17 1314.52,308.08 1316.33,298.27 1318.14,302.8 1319.8,323.16 1321.61,317.13 1323.42,290.73 1325.38,295.26 1326.89,314.87 1328.85,281.68 1330.66,332.97 1332.17,310.34 1335.94,284.7 1337.75,332.97 1339.71,316.38 1341.52,286.96 1343.03,314.87 1344.99,261.77 1346.5,332.97 1348.46,348.05 1349.97,286.2 1352.23,292.24 1354.04,317.88 1355.25,370.68 1357.06,302.8 1358.87,355.6 1360.38,370.68 1362.34,369.17 1363.85,371.74 1365.81,324.37 1367.62,371.74 1372.9,371.74 1376.37,353.79 1378.18,370.68 1380.44,369.17 1382.7,371.74 1391.75,371.74 1391.9,371.8 1394.4,357 1398,366 1400.9,362 1403.5,369 1407,354 1409.5,369 1410.5,371.8 1411.2,371.8 1413.5,317.5 1415.8,371.8 1425,371.8 1428.7,371.8 1430.7,311 1432.7,371.8 1437.8,371.8 1439.4,239 1441,371.8 1441.7,371.8 1443.3,153.5 1444.9,371.8 1448.3,371.8 1450.1,80.8 1451.9,371.8 1495,371.8 1499.2,371.8 1501.2,239 1503.2,371.8 1518,371.8 1520.4,371.8 1522,329.7 1523.6,371.8 1523.9,371.8 1525.7,266 1527.5,371.8 1580,371.8" fill="none" stroke="#ff2a0a" stroke-width="1.5" stroke-linejoin="round" />
</g>
<rect x="1177" y="75.8" width="394" height="296.2" fill="none" stroke="#222" stroke-width="1.4"/>
<line x1="1177" y1="355.54" x2="1180.8" y2="355.54" stroke="#222" stroke-width="1.3" />
<line x1="1177" y1="339.09" x2="1183.8" y2="339.09" stroke="#222" stroke-width="1.3" />
<line x1="1177" y1="322.63" x2="1180.8" y2="322.63" stroke="#222" stroke-width="1.3" />
<line x1="1177" y1="306.18" x2="1183.8" y2="306.18" stroke="#222" stroke-width="1.3" />
<line x1="1177" y1="289.72" x2="1180.8" y2="289.72" stroke="#222" stroke-width="1.3" />
<line x1="1177" y1="273.27" x2="1183.8" y2="273.27" stroke="#222" stroke-width="1.3" />
<line x1="1177" y1="256.81" x2="1180.8" y2="256.81" stroke="#222" stroke-width="1.3" />
<line x1="1177" y1="240.36" x2="1183.8" y2="240.36" stroke="#222" stroke-width="1.3" />
<line x1="1177" y1="223.9" x2="1180.8" y2="223.9" stroke="#222" stroke-width="1.3" />
<line x1="1177" y1="207.44" x2="1183.8" y2="207.44" stroke="#222" stroke-width="1.3" />
<line x1="1177" y1="190.99" x2="1180.8" y2="190.99" stroke="#222" stroke-width="1.3" />
<line x1="1177" y1="174.53" x2="1183.8" y2="174.53" stroke="#222" stroke-width="1.3" />
<line x1="1177" y1="158.08" x2="1180.8" y2="158.08" stroke="#222" stroke-width="1.3" />
<line x1="1177" y1="141.62" x2="1183.8" y2="141.62" stroke="#222" stroke-width="1.3" />
<line x1="1177" y1="125.17" x2="1180.8" y2="125.17" stroke="#222" stroke-width="1.3" />
<line x1="1177" y1="108.71" x2="1183.8" y2="108.71" stroke="#222" stroke-width="1.3" />
<line x1="1177" y1="92.26" x2="1180.8" y2="92.26" stroke="#222" stroke-width="1.3" />
<line x1="1192.15" y1="372" x2="1192.15" y2="368.2" stroke="#222" stroke-width="1.3" />
<line x1="1207.31" y1="372" x2="1207.31" y2="365.2" stroke="#222" stroke-width="1.3" />
<line x1="1222.46" y1="372" x2="1222.46" y2="368.2" stroke="#222" stroke-width="1.3" />
<line x1="1237.62" y1="372" x2="1237.62" y2="365.2" stroke="#222" stroke-width="1.3" />
<line x1="1252.77" y1="372" x2="1252.77" y2="368.2" stroke="#222" stroke-width="1.3" />
<line x1="1267.92" y1="372" x2="1267.92" y2="365.2" stroke="#222" stroke-width="1.3" />
<line x1="1283.08" y1="372" x2="1283.08" y2="368.2" stroke="#222" stroke-width="1.3" />
<line x1="1298.23" y1="372" x2="1298.23" y2="365.2" stroke="#222" stroke-width="1.3" />
<line x1="1313.38" y1="372" x2="1313.38" y2="368.2" stroke="#222" stroke-width="1.3" />
<line x1="1328.54" y1="372" x2="1328.54" y2="365.2" stroke="#222" stroke-width="1.3" />
<line x1="1343.69" y1="372" x2="1343.69" y2="368.2" stroke="#222" stroke-width="1.3" />
<line x1="1358.85" y1="372" x2="1358.85" y2="365.2" stroke="#222" stroke-width="1.3" />
<line x1="1374" y1="372" x2="1374" y2="368.2" stroke="#222" stroke-width="1.3" />
<line x1="1389.15" y1="372" x2="1389.15" y2="365.2" stroke="#222" stroke-width="1.3" />
<line x1="1404.31" y1="372" x2="1404.31" y2="368.2" stroke="#222" stroke-width="1.3" />
<line x1="1419.46" y1="372" x2="1419.46" y2="365.2" stroke="#222" stroke-width="1.3" />
<line x1="1434.62" y1="372" x2="1434.62" y2="368.2" stroke="#222" stroke-width="1.3" />
<line x1="1449.77" y1="372" x2="1449.77" y2="365.2" stroke="#222" stroke-width="1.3" />
<line x1="1464.92" y1="372" x2="1464.92" y2="368.2" stroke="#222" stroke-width="1.3" />
<line x1="1480.08" y1="372" x2="1480.08" y2="365.2" stroke="#222" stroke-width="1.3" />
<line x1="1495.23" y1="372" x2="1495.23" y2="368.2" stroke="#222" stroke-width="1.3" />
<line x1="1510.38" y1="372" x2="1510.38" y2="365.2" stroke="#222" stroke-width="1.3" />
<line x1="1525.54" y1="372" x2="1525.54" y2="368.2" stroke="#222" stroke-width="1.3" />
<line x1="1540.69" y1="372" x2="1540.69" y2="365.2" stroke="#222" stroke-width="1.3" />
<line x1="1555.85" y1="372" x2="1555.85" y2="368.2" stroke="#222" stroke-width="1.3" />
<text x="1169" y="376.3" font-size="12.5" font-weight="bold" text-anchor="end" fill="#000" font-style="normal" >0</text>
<text x="1169" y="343.39" font-size="12.5" font-weight="bold" text-anchor="end" fill="#000" font-style="normal" >0.5</text>
<text x="1169" y="310.48" font-size="12.5" font-weight="bold" text-anchor="end" fill="#000" font-style="normal" >1</text>
<text x="1169" y="277.57" font-size="12.5" font-weight="bold" text-anchor="end" fill="#000" font-style="normal" >1.5</text>
<text x="1169" y="244.66" font-size="12.5" font-weight="bold" text-anchor="end" fill="#000" font-style="normal" >2</text>
<text x="1169" y="211.74" font-size="12.5" font-weight="bold" text-anchor="end" fill="#000" font-style="normal" >2.5</text>
<text x="1169" y="178.83" font-size="12.5" font-weight="bold" text-anchor="end" fill="#000" font-style="normal" >3</text>
<text x="1169" y="145.92" font-size="12.5" font-weight="bold" text-anchor="end" fill="#000" font-style="normal" >3.5</text>
<text x="1169" y="113.01" font-size="12.5" font-weight="bold" text-anchor="end" fill="#000" font-style="normal" >4</text>
<text x="1169" y="80.1" font-size="12.5" font-weight="bold" text-anchor="end" fill="#000" font-style="normal" >4.5</text>
<text x="1177.5" y="387.4" font-size="12.5" font-weight="bold" text-anchor="middle" fill="#000" font-style="normal" >&#8211;10</text>
<text x="1207.81" y="387.4" font-size="12.5" font-weight="bold" text-anchor="middle" fill="#000" font-style="normal" >0</text>
<text x="1238.12" y="387.4" font-size="12.5" font-weight="bold" text-anchor="middle" fill="#000" font-style="normal" >10</text>
<text x="1268.42" y="387.4" font-size="12.5" font-weight="bold" text-anchor="middle" fill="#000" font-style="normal" >20</text>
<text x="1298.73" y="387.4" font-size="12.5" font-weight="bold" text-anchor="middle" fill="#000" font-style="normal" >30</text>
<text x="1329.04" y="387.4" font-size="12.5" font-weight="bold" text-anchor="middle" fill="#000" font-style="normal" >40</text>
<text x="1359.35" y="387.4" font-size="12.5" font-weight="bold" text-anchor="middle" fill="#000" font-style="normal" >50</text>
<text x="1389.65" y="387.4" font-size="12.5" font-weight="bold" text-anchor="middle" fill="#000" font-style="normal" >60</text>
<text x="1419.96" y="387.4" font-size="12.5" font-weight="bold" text-anchor="middle" fill="#000" font-style="normal" >70</text>
<text x="1450.27" y="387.4" font-size="12.5" font-weight="bold" text-anchor="middle" fill="#000" font-style="normal" >80</text>
<text x="1480.58" y="387.4" font-size="12.5" font-weight="bold" text-anchor="middle" fill="#000" font-style="normal" >90</text>
<text x="1510.88" y="387.4" font-size="12.5" font-weight="bold" text-anchor="middle" fill="#000" font-style="normal" >100</text>
<text x="1541.19" y="387.4" font-size="12.5" font-weight="bold" text-anchor="middle" fill="#000" font-style="normal" >110</text>
<text x="1571.5" y="387.4" font-size="12.5" font-weight="bold" text-anchor="middle" fill="#000" font-style="normal" >120</text>
<text x="1375.5" y="410" font-size="16.5" font-weight="bold" text-anchor="middle" fill="#000" font-style="normal" textLength="129" lengthAdjust="spacingAndGlyphs">Frequency (THz)</text>
<text transform="translate(1141.2,225) rotate(-90)" font-size="16.4" font-weight="bold" text-anchor="middle" textLength="188" lengthAdjust="spacingAndGlyphs">Phonon states (THz/f.u.)</text>
<line x1="1193.3" y1="95" x2="1230.4" y2="95" stroke="#ff2a0a" stroke-width="1.7" />
<text x="1242.3" y="102.5" font-size="16" font-weight="bold"><tspan font-style="italic">P</tspan>2<tspan font-size="12" dy="5.5">1</tspan><tspan dy="-5.5">-BaH</tspan><tspan font-size="12.5" dy="5.8">12</tspan></text>
<text x="1562.5" y="102.5" font-size="16" font-weight="normal" text-anchor="end" fill="#000" font-style="normal" >150 GPa</text>
<clipPath id="c6"><rect x="1630" y="73.8" width="394.3" height="298.2"/></clipPath>
<g clip-path="url(#c6)">
<polyline points="1629.85,372.07 1638.4,372.07 1641.59,370.54 1643.5,371.05 1645.41,372.07 1646.69,371.44 1649.24,369.52 1651.79,367.61 1653.71,363.14 1655.62,352.93 1657.54,323.59 1659.7,309.81 1662,318.48 1663.28,336.35 1665.57,320.4 1667.74,344 1669.4,365.06 1671.19,365.06 1673.23,349.36 1675.4,365.06 1677.31,363.78 1679.23,363.78 1681.14,359.31 1683.05,358.04 1685.61,359.31 1687.52,357.4 1688.8,350.64 1690.71,357.4 1692.37,358.04 1696.45,333.8 1698.37,348.47 1700.28,339.54 1702.19,353.57 1704.11,341.45 1706.02,354.21 1708.19,349.36 1709.85,361.87 1711.76,349.74 1713.42,352.93 1715.59,335.71 1717.5,337.62 1719.67,343.37 1721.71,331.88 1723.5,344.64 1725.16,345.02 1727.07,342.09 1729.37,334.43 1731.16,313.38 1733.2,321.04 1735.37,331.24 1737.03,341.45 1738.94,331.24 1740.85,333.16 1742.64,320.4 1744.3,326.14 1746.47,314.66 1748.76,332.52 1750.68,312.11 1752.59,313.38 1754.51,320.4 1756.42,319.12 1759.99,288.5 1762.16,313.38 1763.82,307.64 1765.99,322.95 1767.9,298.71 1769.82,302.54 1771.73,294.88 1773.64,296.79 1775.81,289.14 1777.73,312.11 1779.64,331.88 1781.3,299.35 1783.47,290.41 1785.51,304.45 1787.3,321.04 1789.34,317.85 1791.12,294.88 1792.78,324.23 1794.44,318.48 1796.61,333.8 1798.52,317.21 1800.82,343.37 1802.74,315.68 1804.65,335.71 1806.44,321.04 1808.35,361.23 1812.3,273.19 1814.47,343.37 1816.39,337.62 1818.3,332.52 1819.96,319.51 1822.77,372.07 1824.04,372.07 1825.96,351.66 1829.78,325.5 1831.7,325.5 1833.61,372.07 1841.27,372.07 1843.44,355.49 1845.73,372.07 1849.56,372.07 1851.09,364.42 1852.75,372.07 1890,371.8 1891.4,371.8 1893.6,325.8 1895.8,371.8 1918,371.8 1920.1,371.8 1922.3,221.9 1924.5,371.8 1946,371.8 1947.6,371.8 1949.8,191.4 1952,371.8 1964,371.8 1966,368.5 1968,367.8 1970,369.5 1971.5,371.8 1972.7,371.8 1974.9,280 1977.1,371.8 1978,369 1979,371.8 1980.4,371.8 1982.4,330.7 1984.4,371.8 1994,371.8 1996.1,371.8 1998.3,293 2000.5,371.8 2030,371.8" fill="none" stroke="#ff2a0a" stroke-width="1.5" stroke-linejoin="round" />
</g>
<rect x="1630" y="75.8" width="394.3" height="296.2" fill="none" stroke="#222" stroke-width="1.4"/>
<line x1="1630" y1="355.54" x2="1633.8" y2="355.54" stroke="#222" stroke-width="1.3" />
<line x1="1630" y1="339.09" x2="1636.8" y2="339.09" stroke="#222" stroke-width="1.3" />
<line x1="1630" y1="322.63" x2="1633.8" y2="322.63" stroke="#222" stroke-width="1.3" />
<line x1="1630" y1="306.18" x2="1636.8" y2="306.18" stroke="#222" stroke-width="1.3" />
<line x1="1630" y1="289.72" x2="1633.8" y2="289.72" stroke="#222" stroke-width="1.3" />
<line x1="1630" y1="273.27" x2="1636.8" y2="273.27" stroke="#222" stroke-width="1.3" />
<line x1="1630" y1="256.81" x2="1633.8" y2="256.81" stroke="#222" stroke-width="1.3" />
<line x1="1630" y1="240.36" x2="1636.8" y2="240.36" stroke="#222" stroke-width="1.3" />
<line x1="1630" y1="223.9" x2="1633.8" y2="223.9" stroke="#222" stroke-width="1.3" />
<line x1="1630" y1="207.44" x2="1636.8" y2="207.44" stroke="#222" stroke-width="1.3" />
<line x1="1630" y1="190.99" x2="1633.8" y2="190.99" stroke="#222" stroke-width="1.3" />
<line x1="1630" y1="174.53" x2="1636.8" y2="174.53" stroke="#222" stroke-width="1.3" />
<line x1="1630" y1="158.08" x2="1633.8" y2="158.08" stroke="#222" stroke-width="1.3" />
<line x1="1630" y1="141.62" x2="1636.8" y2="141.62" stroke="#222" stroke-width="1.3" />
<line x1="1630" y1="125.17" x2="1633.8" y2="125.17" stroke="#222" stroke-width="1.3" />
<line x1="1630" y1="108.71" x2="1636.8" y2="108.71" stroke="#222" stroke-width="1.3" />
<line x1="1630" y1="92.26" x2="1633.8" y2="92.26" stroke="#222" stroke-width="1.3" />
<line x1="1645.77" y1="372" x2="1645.77" y2="365.2" stroke="#222" stroke-width="1.3" />
<line x1="1661.54" y1="372" x2="1661.54" y2="368.2" stroke="#222" stroke-width="1.3" />
<line x1="1677.32" y1="372" x2="1677.32" y2="365.2" stroke="#222" stroke-width="1.3" />
<line x1="1693.09" y1="372" x2="1693.09" y2="368.2" stroke="#222" stroke-width="1.3" />
<line x1="1708.86" y1="372" x2="1708.86" y2="365.2" stroke="#222" stroke-width="1.3" />
<line x1="1724.63" y1="372" x2="1724.63" y2="368.2" stroke="#222" stroke-width="1.3" />
<line x1="1740.4" y1="372" x2="1740.4" y2="365.2" stroke="#222" stroke-width="1.3" />
<line x1="1756.18" y1="372" x2="1756.18" y2="368.2" stroke="#222" stroke-width="1.3" />
<line x1="1771.95" y1="372" x2="1771.95" y2="365.2" stroke="#222" stroke-width="1.3" />
<line x1="1787.72" y1="372" x2="1787.72" y2="368.2" stroke="#222" stroke-width="1.3" />
<line x1="1803.49" y1="372" x2="1803.49" y2="365.2" stroke="#222" stroke-width="1.3" />
<line x1="1819.26" y1="372" x2="1819.26" y2="368.2" stroke="#222" stroke-width="1.3" />
<line x1="1835.04" y1="372" x2="1835.04" y2="365.2" stroke="#222" stroke-width="1.3" />
<line x1="1850.81" y1="372" x2="1850.81" y2="368.2" stroke="#222" stroke-width="1.3" />
<line x1="1866.58" y1="372" x2="1866.58" y2="365.2" stroke="#222" stroke-width="1.3" />
<line x1="1882.35" y1="372" x2="1882.35" y2="368.2" stroke="#222" stroke-width="1.3" />
<line x1="1898.12" y1="372" x2="1898.12" y2="365.2" stroke="#222" stroke-width="1.3" />
<line x1="1913.9" y1="372" x2="1913.9" y2="368.2" stroke="#222" stroke-width="1.3" />
<line x1="1929.67" y1="372" x2="1929.67" y2="365.2" stroke="#222" stroke-width="1.3" />
<line x1="1945.44" y1="372" x2="1945.44" y2="368.2" stroke="#222" stroke-width="1.3" />
<line x1="1961.21" y1="372" x2="1961.21" y2="365.2" stroke="#222" stroke-width="1.3" />
<line x1="1976.98" y1="372" x2="1976.98" y2="368.2" stroke="#222" stroke-width="1.3" />
<line x1="1992.76" y1="372" x2="1992.76" y2="365.2" stroke="#222" stroke-width="1.3" />
<line x1="2008.53" y1="372" x2="2008.53" y2="368.2" stroke="#222" stroke-width="1.3" />
<text x="1622" y="376.3" font-size="12.5" font-weight="bold" text-anchor="end" fill="#000" font-style="normal" >0</text>
<text x="1622" y="343.39" font-size="12.5" font-weight="bold" text-anchor="end" fill="#000" font-style="normal" >0.5</text>
<text x="1622" y="310.48" font-size="12.5" font-weight="bold" text-anchor="end" fill="#000" font-style="normal" >1</text>
<text x="1622" y="277.57" font-size="12.5" font-weight="bold" text-anchor="end" fill="#000" font-style="normal" >1.5</text>
<text x="1622" y="244.66" font-size="12.5" font-weight="bold" text-anchor="end" fill="#000" font-style="normal" >2</text>
<text x="1622" y="211.74" font-size="12.5" font-weight="bold" text-anchor="end" fill="#000" font-style="normal" >2.5</text>
<text x="1622" y="178.83" font-size="12.5" font-weight="bold" text-anchor="end" fill="#000" font-style="normal" >3</text>
<text x="1622" y="145.92" font-size="12.5" font-weight="bold" text-anchor="end" fill="#000" font-style="normal" >3.5</text>
<text x="1622" y="113.01" font-size="12.5" font-weight="bold" text-anchor="end" fill="#000" font-style="normal" >4</text>
<text x="1622" y="80.1" font-size="12.5" font-weight="bold" text-anchor="end" fill="#000" font-style="normal" >4.5</text>
<text x="1646.27" y="387.4" font-size="12.5" font-weight="bold" text-anchor="middle" fill="#000" font-style="normal" >0</text>
<text x="1677.82" y="387.4" font-size="12.5" font-weight="bold" text-anchor="middle" fill="#000" font-style="normal" >10</text>
<text x="1709.36" y="387.4" font-size="12.5" font-weight="bold" text-anchor="middle" fill="#000" font-style="normal" >20</text>
<text x="1740.9" y="387.4" font-size="12.5" font-weight="bold" text-anchor="middle" fill="#000" font-style="normal" >30</text>
<text x="1772.45" y="387.4" font-size="12.5" font-weight="bold" text-anchor="middle" fill="#000" font-style="normal" >40</text>
<text x="1803.99" y="387.4" font-size="12.5" font-weight="bold" text-anchor="middle" fill="#000" font-style="normal" >50</text>
<text x="1835.54" y="387.4" font-size="12.5" font-weight="bold" text-anchor="middle" fill="#000" font-style="normal" >60</text>
<text x="1867.08" y="387.4" font-size="12.5" font-weight="bold" text-anchor="middle" fill="#000" font-style="normal" >70</text>
<text x="1898.62" y="387.4" font-size="12.5" font-weight="bold" text-anchor="middle" fill="#000" font-style="normal" >80</text>
<text x="1930.17" y="387.4" font-size="12.5" font-weight="bold" text-anchor="middle" fill="#000" font-style="normal" >90</text>
<text x="1961.71" y="387.4" font-size="12.5" font-weight="bold" text-anchor="middle" fill="#000" font-style="normal" >100</text>
<text x="1993.26" y="387.4" font-size="12.5" font-weight="bold" text-anchor="middle" fill="#000" font-style="normal" >110</text>
<text x="2024.8" y="387.4" font-size="12.5" font-weight="bold" text-anchor="middle" fill="#000" font-style="normal" >120</text>
<text x="1827.2" y="410" font-size="16.5" font-weight="bold" text-anchor="middle" fill="#000" font-style="normal" textLength="129" lengthAdjust="spacingAndGlyphs">Frequency (THz)</text>
<text transform="translate(1591.2,225) rotate(-90)" font-size="16.4" font-weight="bold" text-anchor="middle" textLength="188" lengthAdjust="spacingAndGlyphs">Phonon states (THz/f.u.)</text>
<line x1="1647" y1="95" x2="1683.3" y2="95" stroke="#ff2a0a" stroke-width="1.7" />
<text x="1694.4" y="102.5" font-size="16" font-weight="bold"><tspan font-style="italic">P1</tspan>-BaH<tspan font-size="12.5" dy="5.8">12</tspan></text>
<text x="2004.5" y="105" font-size="16" font-weight="normal" text-anchor="end" fill="#000" font-style="normal" >150 GPa</text>
<clipPath id="c7"><rect x="726.5" y="455" width="394.2" height="295.8"/></clipPath>
<g clip-path="url(#c7)">
<path d="M726.17,662.55 C726.43,661.08 727.2,656.68 727.71,653.74 C728.23,650.8 728.78,646.39 729.26,644.92 C729.73,643.45 730.1,641.98 730.58,644.92 C731.05,647.86 731.5,657.85 732.12,662.55 C732.74,667.25 733.59,672.76 734.32,673.13 C735.06,673.5 735.9,667.07 736.53,664.76 C737.15,662.44 737.52,662.92 738.07,659.25 C738.62,655.57 739.17,649.88 739.83,642.72 C740.49,635.56 741.38,623.99 742.04,616.28 C742.7,608.56 743.25,600.59 743.8,596.44 C744.35,592.29 744.72,591.01 745.34,591.38 C745.97,591.74 746.81,595.05 747.55,598.65 C748.28,602.25 749.01,610.77 749.75,612.97 C750.48,615.17 751.22,612.05 751.95,611.87 C752.69,611.69 753.61,611.13 754.16,611.87 C754.71,612.6 754.89,614.51 755.26,616.28 C755.63,618.04 755.92,621.16 756.36,622.45 C756.8,623.73 757.35,622.63 757.9,623.99 C758.45,625.35 758.82,627.48 759.67,630.6 C760.51,633.72 762.05,639.6 762.97,642.72 C763.89,645.84 764.55,648.23 765.17,649.33 C765.8,650.43 766.17,650.43 766.72,649.33 C767.27,648.23 767.82,645.66 768.48,642.72 C769.14,639.78 769.95,635.01 770.68,631.7 C771.42,628.4 771.97,624.8 772.89,622.89 C773.8,620.98 775.16,620.24 776.19,620.24 C777.22,620.24 778.14,621.71 779.06,622.89 C779.98,624.06 780.89,624.72 781.7,627.29 C782.51,629.86 782.99,635.19 783.9,638.31 C784.82,641.43 786.29,644.11 787.21,646.02 C788.13,647.93 788.68,648.93 789.41,649.77 C790.15,650.62 790.88,648.6 791.62,651.09 C792.35,653.59 793.09,659.54 793.82,664.76 C794.56,669.97 795.29,677.61 796.02,682.38 C796.76,687.16 797.6,691.75 798.23,693.4 C798.85,695.06 799.15,695.24 799.77,692.3 C800.4,689.36 801.24,680.73 801.97,675.77 C802.71,670.82 803.44,665.49 804.18,662.55 C804.91,659.61 805.54,659.06 806.38,658.14 C807.23,657.23 808.51,657.59 809.25,657.04 C809.98,656.49 810.05,657.23 810.79,654.84 C811.52,652.45 812.63,645.84 813.65,642.72 C814.68,639.6 815.97,638.68 816.96,636.11 C817.95,633.54 818.69,630.23 819.6,627.29 C820.52,624.36 821.62,619.58 822.47,618.48 C823.31,617.38 823.94,617.74 824.67,620.68 C825.41,623.62 826.25,630.97 826.88,636.11 C827.5,641.25 827.87,647.49 828.42,651.53 C828.97,655.57 829.59,662.37 830.18,660.35 C830.77,658.33 831.47,642.35 831.94,639.41 C832.42,636.48 832.6,638.68 833.05,642.72 C833.49,646.76 834.15,659.98 834.59,663.65 C835.03,667.33 835.32,665.31 835.69,664.76 C836.06,664.2 836.24,662.37 836.79,660.35 C837.34,658.33 838.08,654.18 839,652.64 C839.91,651.09 841.38,652.56 842.3,651.09 C843.22,649.62 843.66,646.69 844.5,643.82 C845.35,640.96 846.45,634.27 847.37,633.9 C848.29,633.54 849.21,639.23 850.01,641.62 C850.82,644 851.48,644.74 852.22,648.23 C852.95,651.72 853.5,657.23 854.42,662.55 C855.34,667.88 856.62,675.48 857.73,680.18 C858.83,684.88 860.11,688.19 861.03,690.76 C861.95,693.33 862.5,693.99 863.23,695.61 C863.97,697.22 864.63,699.54 865.44,700.45 C866.25,701.37 867.05,701.26 868.08,701.12 C869.11,700.97 870.58,699.39 871.61,699.57 C872.64,699.76 873.37,701.78 874.25,702.22 C875.13,702.66 876.09,701.92 876.9,702.22 C877.71,702.51 878.33,703.91 879.1,703.98 C879.87,704.05 880.79,701.48 881.52,702.66 C882.26,703.83 882.88,708.35 883.51,711.03 C884.13,713.71 884.61,716.36 885.27,718.74 C885.93,721.13 886.56,723.89 887.47,725.35 C888.39,726.82 889.68,726.93 890.78,727.56 C891.88,728.18 892.98,728.99 894.09,729.1 C895.19,729.21 896.29,728.55 897.39,728.22 C898.49,727.89 899.59,727.23 900.7,727.12 C901.8,727.01 902.97,727.48 904,727.56 C905.03,727.63 905.95,727.08 906.87,727.56 C907.78,728.04 908.41,729.5 909.51,730.42 C910.61,731.34 912.19,732.33 913.48,733.07 C914.76,733.8 915.97,734.46 917.22,734.83 C918.47,735.2 919.87,735.12 920.97,735.27 C922.07,735.42 923.44,735.7 923.83,735.71 C924.23,735.72 922.97,734.83 923.36,735.32 C923.74,735.81 925.21,740.43 926.14,738.66 C927.07,736.9 928,727.99 928.93,724.74 C929.86,721.49 930.55,721.72 931.71,719.16 C932.87,716.61 934.73,711.6 935.89,709.42 C937.05,707.23 937.75,706.44 938.68,706.07 C939.61,705.7 940.3,707.09 941.46,707.19 C942.62,707.28 944.25,706.95 945.64,706.63 C947.03,706.3 948.43,705.79 949.82,705.24 C951.21,704.68 952.84,703.75 954,703.29 C955.16,702.82 955.85,702.27 956.78,702.45 C957.71,702.64 958.41,704.03 959.57,704.4 C960.73,704.77 962.35,704.87 963.75,704.68 C965.14,704.49 966.53,704.12 967.92,703.29 C969.32,702.45 970.8,701.2 972.1,699.67 C973.4,698.13 974.56,697.58 975.72,694.09 C976.88,690.61 977.81,683.42 979.07,678.77 C980.32,674.13 981.95,668.7 983.25,666.24 C984.55,663.78 985.8,664.34 986.87,664.01 C987.93,663.69 988.63,664.48 989.65,664.29 C990.67,664.1 991.88,662.99 992.99,662.9 C994.11,662.8 995.18,663.04 996.34,663.73 C997.5,664.43 998.75,665.96 999.96,667.08 C1001.17,668.19 1002.42,670.09 1003.58,670.42 C1004.74,670.74 1005.9,670.42 1006.92,669.03 C1007.94,667.63 1008.78,665.54 1009.71,662.06 C1010.64,658.58 1011.66,652.78 1012.49,648.13 C1013.33,643.49 1014.12,637.46 1014.72,634.21 C1015.32,630.96 1015.56,628.87 1016.11,628.64 C1016.67,628.4 1017.51,631.65 1018.06,632.81 C1018.62,633.97 1018.9,631.65 1019.46,635.6 C1020.01,639.55 1020.71,652.31 1021.41,656.49 C1022.1,660.67 1022.8,659.88 1023.64,660.67 C1024.47,661.46 1025.49,660.76 1026.42,661.23 C1027.35,661.69 1028.37,662.39 1029.21,663.45 C1030.04,664.52 1030.74,668.33 1031.43,667.63 C1032.13,666.94 1032.73,663.45 1033.38,659.28 C1034.03,655.1 1034.64,650.92 1035.33,642.56 C1036.03,634.21 1036.82,616.56 1037.56,609.14 C1038.31,601.71 1039.09,600.41 1039.79,597.99 C1040.49,595.58 1040.95,594.42 1041.74,594.65 C1042.53,594.88 1043.46,597.44 1044.53,599.39 C1045.59,601.34 1046.99,605.05 1048.15,606.35 C1049.31,607.65 1050.56,605.79 1051.49,607.19 C1052.42,608.58 1053.02,614.38 1053.72,614.71 C1054.42,615.03 1055.02,610.16 1055.67,609.14 C1056.32,608.12 1056.92,611.6 1057.62,608.58 C1058.31,605.56 1059.24,593.26 1059.85,591.03 C1060.45,588.8 1060.68,591.73 1061.24,595.21 C1061.8,598.69 1062.49,604.03 1063.19,611.92 C1063.89,619.81 1064.68,635.13 1065.42,642.56 C1066.16,649.99 1066.9,657.42 1067.65,656.49 C1068.39,655.56 1069.09,644.88 1069.87,636.99 C1070.66,629.1 1071.64,616.01 1072.38,609.14 C1073.12,602.27 1073.64,597.86 1074.33,595.77 C1075.03,593.68 1075.82,597.62 1076.56,596.6 C1077.3,595.58 1078.09,592.89 1078.79,589.64 C1079.48,586.39 1080.04,580.58 1080.74,577.1 C1081.43,573.62 1082.27,569.68 1082.97,568.75 C1083.66,567.82 1084.36,570.46 1084.92,571.53 C1085.47,572.6 1085.75,575.62 1086.31,575.15 C1086.87,574.69 1087.66,570.05 1088.26,568.75 C1088.86,567.45 1089.33,571.67 1089.93,567.35 C1090.53,563.04 1091.32,545.63 1091.88,542.84 C1092.44,540.06 1092.81,545.16 1093.27,550.64 C1093.74,556.12 1094.11,567.91 1094.67,575.71 C1095.22,583.51 1095.92,594.28 1096.62,597.44 C1097.31,600.59 1098.1,596.65 1098.84,594.65 C1099.59,592.66 1100.38,586.2 1101.07,585.46 C1101.77,584.72 1102.33,589.27 1103.02,590.19 C1103.72,591.12 1104.55,592.52 1105.25,591.03 C1105.95,589.55 1106.5,583.83 1107.2,581.28 C1107.9,578.73 1108.59,577.1 1109.43,575.71 C1110.26,574.32 1111.43,572.23 1112.21,572.92 C1113,573.62 1113.51,575.25 1114.16,579.89 C1114.81,584.53 1115.42,597.39 1116.11,600.78 C1116.81,604.17 1117.65,601.15 1118.34,600.22 C1119.04,599.29 1119.6,597.21 1120.29,595.21 C1120.99,593.21 1122.15,589.41 1122.52,588.25 L1122.52,752.8 L726.17,752.8 Z" fill="#97b3f9" stroke="none"/>
<path d="M726.17,662.55 C726.43,661.08 727.2,656.68 727.71,653.74 C728.23,650.8 728.78,646.39 729.26,644.92 C729.73,643.45 730.1,641.98 730.58,644.92 C731.05,647.86 731.5,657.85 732.12,662.55 C732.74,667.25 733.59,672.76 734.32,673.13 C735.06,673.5 735.9,667.07 736.53,664.76 C737.15,662.44 737.52,662.92 738.07,659.25 C738.62,655.57 739.17,649.88 739.83,642.72 C740.49,635.56 741.38,623.99 742.04,616.28 C742.7,608.56 743.25,600.59 743.8,596.44 C744.35,592.29 744.72,591.01 745.34,591.38 C745.97,591.74 746.81,595.05 747.55,598.65 C748.28,602.25 749.01,610.77 749.75,612.97 C750.48,615.17 751.22,612.05 751.95,611.87 C752.69,611.69 753.61,611.13 754.16,611.87 C754.71,612.6 754.89,614.51 755.26,616.28 C755.63,618.04 755.92,621.16 756.36,622.45 C756.8,623.73 757.35,622.63 757.9,623.99 C758.45,625.35 758.82,627.48 759.67,630.6 C760.51,633.72 762.05,639.6 762.97,642.72 C763.89,645.84 764.55,648.23 765.17,649.33 C765.8,650.43 766.17,650.43 766.72,649.33 C767.27,648.23 767.82,645.66 768.48,642.72 C769.14,639.78 769.95,635.01 770.68,631.7 C771.42,628.4 771.97,624.8 772.89,622.89 C773.8,620.98 775.16,620.24 776.19,620.24 C777.22,620.24 778.14,621.71 779.06,622.89 C779.98,624.06 780.89,624.72 781.7,627.29 C782.51,629.86 782.99,635.19 783.9,638.31 C784.82,641.43 786.29,644.11 787.21,646.02 C788.13,647.93 788.68,648.93 789.41,649.77 C790.15,650.62 790.88,648.6 791.62,651.09 C792.35,653.59 793.09,659.54 793.82,664.76 C794.56,669.97 795.29,677.61 796.02,682.38 C796.76,687.16 797.6,691.75 798.23,693.4 C798.85,695.06 799.15,695.24 799.77,692.3 C800.4,689.36 801.24,680.73 801.97,675.77 C802.71,670.82 803.44,665.49 804.18,662.55 C804.91,659.61 805.54,659.06 806.38,658.14 C807.23,657.23 808.51,657.59 809.25,657.04 C809.98,656.49 810.05,657.23 810.79,654.84 C811.52,652.45 812.63,645.84 813.65,642.72 C814.68,639.6 815.97,638.68 816.96,636.11 C817.95,633.54 818.69,630.23 819.6,627.29 C820.52,624.36 821.62,619.58 822.47,618.48 C823.31,617.38 823.94,617.74 824.67,620.68 C825.41,623.62 826.25,630.97 826.88,636.11 C827.5,641.25 827.87,647.49 828.42,651.53 C828.97,655.57 829.59,662.37 830.18,660.35 C830.77,658.33 831.47,642.35 831.94,639.41 C832.42,636.48 832.6,638.68 833.05,642.72 C833.49,646.76 834.15,659.98 834.59,663.65 C835.03,667.33 835.32,665.31 835.69,664.76 C836.06,664.2 836.24,662.37 836.79,660.35 C837.34,658.33 838.08,654.18 839,652.64 C839.91,651.09 841.38,652.56 842.3,651.09 C843.22,649.62 843.66,646.69 844.5,643.82 C845.35,640.96 846.45,634.27 847.37,633.9 C848.29,633.54 849.21,639.23 850.01,641.62 C850.82,644 851.48,644.74 852.22,648.23 C852.95,651.72 853.5,657.23 854.42,662.55 C855.34,667.88 856.62,675.48 857.73,680.18 C858.83,684.88 860.11,688.19 861.03,690.76 C861.95,693.33 862.5,693.99 863.23,695.61 C863.97,697.22 864.63,699.54 865.44,700.45 C866.25,701.37 867.05,701.26 868.08,701.12 C869.11,700.97 870.58,699.39 871.61,699.57 C872.64,699.76 873.37,701.78 874.25,702.22 C875.13,702.66 876.09,701.92 876.9,702.22 C877.71,702.51 878.33,703.91 879.1,703.98 C879.87,704.05 880.79,701.48 881.52,702.66 C882.26,703.83 882.88,708.35 883.51,711.03 C884.13,713.71 884.61,716.36 885.27,718.74 C885.93,721.13 886.56,723.89 887.47,725.35 C888.39,726.82 889.68,726.93 890.78,727.56 C891.88,728.18 892.98,728.99 894.09,729.1 C895.19,729.21 896.29,728.55 897.39,728.22 C898.49,727.89 899.59,727.23 900.7,727.12 C901.8,727.01 902.97,727.48 904,727.56 C905.03,727.63 905.95,727.08 906.87,727.56 C907.78,728.04 908.41,729.5 909.51,730.42 C910.61,731.34 912.19,732.33 913.48,733.07 C914.76,733.8 915.97,734.46 917.22,734.83 C918.47,735.2 919.87,735.12 920.97,735.27 C922.07,735.42 923.44,735.7 923.83,735.71 C924.23,735.72 922.97,734.83 923.36,735.32 C923.74,735.81 925.21,740.43 926.14,738.66 C927.07,736.9 928,727.99 928.93,724.74 C929.86,721.49 930.55,721.72 931.71,719.16 C932.87,716.61 934.73,711.6 935.89,709.42 C937.05,707.23 937.75,706.44 938.68,706.07 C939.61,705.7 940.3,707.09 941.46,707.19 C942.62,707.28 944.25,706.95 945.64,706.63 C947.03,706.3 948.43,705.79 949.82,705.24 C951.21,704.68 952.84,703.75 954,703.29 C955.16,702.82 955.85,702.27 956.78,702.45 C957.71,702.64 958.41,704.03 959.57,704.4 C960.73,704.77 962.35,704.87 963.75,704.68 C965.14,704.49 966.53,704.12 967.92,703.29 C969.32,702.45 970.8,701.2 972.1,699.67 C973.4,698.13 974.56,697.58 975.72,694.09 C976.88,690.61 977.81,683.42 979.07,678.77 C980.32,674.13 981.95,668.7 983.25,666.24 C984.55,663.78 985.8,664.34 986.87,664.01 C987.93,663.69 988.63,664.48 989.65,664.29 C990.67,664.1 991.88,662.99 992.99,662.9 C994.11,662.8 995.18,663.04 996.34,663.73 C997.5,664.43 998.75,665.96 999.96,667.08 C1001.17,668.19 1002.42,670.09 1003.58,670.42 C1004.74,670.74 1005.9,670.42 1006.92,669.03 C1007.94,667.63 1008.78,665.54 1009.71,662.06 C1010.64,658.58 1011.66,652.78 1012.49,648.13 C1013.33,643.49 1014.12,637.46 1014.72,634.21 C1015.32,630.96 1015.56,628.87 1016.11,628.64 C1016.67,628.4 1017.51,631.65 1018.06,632.81 C1018.62,633.97 1018.9,631.65 1019.46,635.6 C1020.01,639.55 1020.71,652.31 1021.41,656.49 C1022.1,660.67 1022.8,659.88 1023.64,660.67 C1024.47,661.46 1025.49,660.76 1026.42,661.23 C1027.35,661.69 1028.37,662.39 1029.21,663.45 C1030.04,664.52 1030.74,668.33 1031.43,667.63 C1032.13,666.94 1032.73,663.45 1033.38,659.28 C1034.03,655.1 1034.64,650.92 1035.33,642.56 C1036.03,634.21 1036.82,616.56 1037.56,609.14 C1038.31,601.71 1039.09,600.41 1039.79,597.99 C1040.49,595.58 1040.95,594.42 1041.74,594.65 C1042.53,594.88 1043.46,597.44 1044.53,599.39 C1045.59,601.34 1046.99,605.05 1048.15,606.35 C1049.31,607.65 1050.56,605.79 1051.49,607.19 C1052.42,608.58 1053.02,614.38 1053.72,614.71 C1054.42,615.03 1055.02,610.16 1055.67,609.14 C1056.32,608.12 1056.92,611.6 1057.62,608.58 C1058.31,605.56 1059.24,593.26 1059.85,591.03 C1060.45,588.8 1060.68,591.73 1061.24,595.21 C1061.8,598.69 1062.49,604.03 1063.19,611.92 C1063.89,619.81 1064.68,635.13 1065.42,642.56 C1066.16,649.99 1066.9,657.42 1067.65,656.49 C1068.39,655.56 1069.09,644.88 1069.87,636.99 C1070.66,629.1 1071.64,616.01 1072.38,609.14 C1073.12,602.27 1073.64,597.86 1074.33,595.77 C1075.03,593.68 1075.82,597.62 1076.56,596.6 C1077.3,595.58 1078.09,592.89 1078.79,589.64 C1079.48,586.39 1080.04,580.58 1080.74,577.1 C1081.43,573.62 1082.27,569.68 1082.97,568.75 C1083.66,567.82 1084.36,570.46 1084.92,571.53 C1085.47,572.6 1085.75,575.62 1086.31,575.15 C1086.87,574.69 1087.66,570.05 1088.26,568.75 C1088.86,567.45 1089.33,571.67 1089.93,567.35 C1090.53,563.04 1091.32,545.63 1091.88,542.84 C1092.44,540.06 1092.81,545.16 1093.27,550.64 C1093.74,556.12 1094.11,567.91 1094.67,575.71 C1095.22,583.51 1095.92,594.28 1096.62,597.44 C1097.31,600.59 1098.1,596.65 1098.84,594.65 C1099.59,592.66 1100.38,586.2 1101.07,585.46 C1101.77,584.72 1102.33,589.27 1103.02,590.19 C1103.72,591.12 1104.55,592.52 1105.25,591.03 C1105.95,589.55 1106.5,583.83 1107.2,581.28 C1107.9,578.73 1108.59,577.1 1109.43,575.71 C1110.26,574.32 1111.43,572.23 1112.21,572.92 C1113,573.62 1113.51,575.25 1114.16,579.89 C1114.81,584.53 1115.42,597.39 1116.11,600.78 C1116.81,604.17 1117.65,601.15 1118.34,600.22 C1119.04,599.29 1119.6,597.21 1120.29,595.21 C1120.99,593.21 1122.15,589.41 1122.52,588.25" fill="none" stroke="#3030f0" stroke-width="1.6" stroke-linejoin="round"/>
</g>
<rect x="726.5" y="455" width="394.2" height="295.8" fill="none" stroke="#222" stroke-width="1.4"/>
<line x1="726.5" y1="726.15" x2="729.1" y2="726.15" stroke="#222" stroke-width="1.3" />
<line x1="726.5" y1="701.5" x2="730.9" y2="701.5" stroke="#222" stroke-width="1.3" />
<line x1="726.5" y1="676.85" x2="729.1" y2="676.85" stroke="#222" stroke-width="1.3" />
<line x1="726.5" y1="652.2" x2="730.9" y2="652.2" stroke="#222" stroke-width="1.3" />
<line x1="726.5" y1="627.55" x2="729.1" y2="627.55" stroke="#222" stroke-width="1.3" />
<line x1="726.5" y1="602.9" x2="730.9" y2="602.9" stroke="#222" stroke-width="1.3" />
<line x1="726.5" y1="578.25" x2="729.1" y2="578.25" stroke="#222" stroke-width="1.3" />
<line x1="726.5" y1="553.6" x2="730.9" y2="553.6" stroke="#222" stroke-width="1.3" />
<line x1="726.5" y1="528.95" x2="729.1" y2="528.95" stroke="#222" stroke-width="1.3" />
<line x1="726.5" y1="504.3" x2="730.9" y2="504.3" stroke="#222" stroke-width="1.3" />
<line x1="726.5" y1="479.65" x2="729.1" y2="479.65" stroke="#222" stroke-width="1.3" />
<line x1="746.21" y1="750.8" x2="746.21" y2="748.2" stroke="#222" stroke-width="1.3" />
<line x1="765.92" y1="750.8" x2="765.92" y2="746.4" stroke="#222" stroke-width="1.3" />
<line x1="785.63" y1="750.8" x2="785.63" y2="748.2" stroke="#222" stroke-width="1.3" />
<line x1="805.34" y1="750.8" x2="805.34" y2="746.4" stroke="#222" stroke-width="1.3" />
<line x1="825.05" y1="750.8" x2="825.05" y2="748.2" stroke="#222" stroke-width="1.3" />
<line x1="844.76" y1="750.8" x2="844.76" y2="746.4" stroke="#222" stroke-width="1.3" />
<line x1="864.47" y1="750.8" x2="864.47" y2="748.2" stroke="#222" stroke-width="1.3" />
<line x1="884.18" y1="750.8" x2="884.18" y2="746.4" stroke="#222" stroke-width="1.3" />
<line x1="903.89" y1="750.8" x2="903.89" y2="748.2" stroke="#222" stroke-width="1.3" />
<line x1="923.6" y1="750.8" x2="923.6" y2="746.4" stroke="#222" stroke-width="1.3" />
<line x1="943.31" y1="750.8" x2="943.31" y2="748.2" stroke="#222" stroke-width="1.3" />
<line x1="963.02" y1="750.8" x2="963.02" y2="746.4" stroke="#222" stroke-width="1.3" />
<line x1="982.73" y1="750.8" x2="982.73" y2="748.2" stroke="#222" stroke-width="1.3" />
<line x1="1002.44" y1="750.8" x2="1002.44" y2="746.4" stroke="#222" stroke-width="1.3" />
<line x1="1022.15" y1="750.8" x2="1022.15" y2="748.2" stroke="#222" stroke-width="1.3" />
<line x1="1041.86" y1="750.8" x2="1041.86" y2="746.4" stroke="#222" stroke-width="1.3" />
<line x1="1061.57" y1="750.8" x2="1061.57" y2="748.2" stroke="#222" stroke-width="1.3" />
<line x1="1081.28" y1="750.8" x2="1081.28" y2="746.4" stroke="#222" stroke-width="1.3" />
<line x1="1100.99" y1="750.8" x2="1100.99" y2="748.2" stroke="#222" stroke-width="1.3" />
<text x="719.2" y="755" font-size="12" font-weight="bold" text-anchor="end" fill="#000" font-style="normal" >0</text>
<text x="719.2" y="705.7" font-size="12" font-weight="bold" text-anchor="end" fill="#000" font-style="normal" >0.5</text>
<text x="719.2" y="656.4" font-size="12" font-weight="bold" text-anchor="end" fill="#000" font-style="normal" >1</text>
<text x="719.2" y="607.1" font-size="12" font-weight="bold" text-anchor="end" fill="#000" font-style="normal" >1.5</text>
<text x="719.2" y="557.8" font-size="12" font-weight="bold" text-anchor="end" fill="#000" font-style="normal" >2</text>
<text x="719.2" y="508.5" font-size="12" font-weight="bold" text-anchor="end" fill="#000" font-style="normal" >2.5</text>
<text x="719.2" y="459.2" font-size="12" font-weight="bold" text-anchor="end" fill="#000" font-style="normal" >3</text>
<text x="726.5" y="765.9" font-size="12" font-weight="bold" text-anchor="middle" fill="#000" font-style="normal" >&#8211;5</text>
<text x="765.92" y="765.9" font-size="12" font-weight="bold" text-anchor="middle" fill="#000" font-style="normal" >&#8211;4</text>
<text x="805.34" y="765.9" font-size="12" font-weight="bold" text-anchor="middle" fill="#000" font-style="normal" >&#8211;3</text>
<text x="844.76" y="765.9" font-size="12" font-weight="bold" text-anchor="middle" fill="#000" font-style="normal" >&#8211;2</text>
<text x="884.18" y="765.9" font-size="12" font-weight="bold" text-anchor="middle" fill="#000" font-style="normal" >&#8211;1</text>
<text x="923.6" y="765.9" font-size="12" font-weight="bold" text-anchor="middle" fill="#000" font-style="normal" >0</text>
<text x="963.02" y="765.9" font-size="12" font-weight="bold" text-anchor="middle" fill="#000" font-style="normal" >1</text>
<text x="1002.44" y="765.9" font-size="12" font-weight="bold" text-anchor="middle" fill="#000" font-style="normal" >2</text>
<text x="1041.86" y="765.9" font-size="12" font-weight="bold" text-anchor="middle" fill="#000" font-style="normal" >3</text>
<text x="1081.28" y="765.9" font-size="12" font-weight="bold" text-anchor="middle" fill="#000" font-style="normal" >4</text>
<text x="1120.7" y="765.9" font-size="12" font-weight="bold" text-anchor="middle" fill="#000" font-style="normal" >5</text>
<text x="925.7" y="787.4" font-size="16.5" font-weight="bold" text-anchor="middle"><tspan font-style="italic">E</tspan> &#8722; <tspan font-style="italic">E</tspan><tspan font-size="12.5" dy="6">F</tspan><tspan dy="-6"> (eV)</tspan></text>
<text transform="translate(687,602.3) rotate(-90)" font-size="16.5" font-weight="bold" text-anchor="middle" textLength="159.5" lengthAdjust="spacingAndGlyphs">DOS, states (eV/f.u.)</text>
<line x1="745.5" y1="472.5" x2="782.2" y2="472.5" stroke="#3030f0" stroke-width="1.8" />
<text x="787" y="479.8" font-size="16" font-weight="bold"><tspan font-style="italic">Cmc2</tspan><tspan font-style="italic" font-size="12" dy="5.5">1</tspan><tspan dy="-5.5">-BaH</tspan><tspan font-size="12.5" dy="5.8">12</tspan></text>
<text x="1117" y="479.8" font-size="16" font-weight="normal" text-anchor="end" fill="#000" font-style="normal" >150 GPa</text>
<clipPath id="c8"><rect x="1177.3" y="455" width="393.9" height="295.8"/></clipPath>
<g clip-path="url(#c8)">
<path d="M1177.42,645.85 C1177.73,646.04 1178.66,645.65 1179.28,647.01 C1179.9,648.36 1180.56,651.45 1181.14,653.97 C1181.72,656.48 1182.22,662.67 1182.76,662.09 C1183.3,661.51 1183.81,654.35 1184.39,650.49 C1184.97,646.62 1185.62,642.75 1186.24,638.89 C1186.86,635.02 1187.52,632.51 1188.1,627.29 C1188.68,622.06 1189.06,611.04 1189.72,607.56 C1190.38,604.08 1191.46,605.82 1192.04,606.4 C1192.62,606.98 1192.7,606.02 1193.2,611.04 C1193.7,616.07 1194.36,628.06 1195.06,636.57 C1195.75,645.07 1196.53,654.16 1197.38,662.09 C1198.23,670.02 1199.31,679.49 1200.16,684.13 C1201.01,688.77 1201.79,690.12 1202.48,689.93 C1203.18,689.74 1203.76,684.44 1204.34,682.97 C1204.92,681.5 1205.42,683.82 1205.96,681.11 C1206.5,678.41 1206.93,671.83 1207.59,666.73 C1208.24,661.62 1209.02,656.48 1209.91,650.49 C1210.8,644.49 1212.03,634.32 1212.92,630.77 C1213.81,627.21 1214.47,630.88 1215.24,629.14 C1216.02,627.4 1216.98,622.57 1217.56,620.32 C1218.14,618.08 1218.26,614.91 1218.72,615.68 C1219.19,616.46 1219.77,621.48 1220.35,624.97 C1220.93,628.45 1221.51,631.54 1222.2,636.57 C1222.9,641.59 1223.63,650.1 1224.52,655.13 C1225.41,660.15 1226.5,663.33 1227.54,666.73 C1228.58,670.13 1229.86,674.39 1230.79,675.55 C1231.72,676.71 1232.34,674.58 1233.11,673.69 C1233.88,672.8 1234.66,671.37 1235.43,670.21 C1236.2,669.05 1237.05,667.12 1237.75,666.73 C1238.45,666.34 1238.91,668.08 1239.61,667.89 C1240.3,667.7 1240.96,666.73 1241.93,665.57 C1242.89,664.41 1244.44,663.05 1245.41,660.93 C1246.37,658.8 1247.07,656.87 1247.73,652.81 C1248.38,648.75 1248.89,641.79 1249.35,636.57 C1249.81,631.35 1250.12,623.61 1250.51,621.48 C1250.9,619.36 1251.17,623.92 1251.67,623.81 C1252.17,623.69 1252.91,621.18 1253.53,620.79 C1254.15,620.4 1254.69,620.02 1255.38,621.48 C1256.08,622.95 1256.85,625.55 1257.7,629.61 C1258.55,633.67 1259.56,642.17 1260.49,645.85 C1261.42,649.52 1262.3,649.91 1263.27,651.65 C1264.24,653.39 1265.28,654.74 1266.29,656.29 C1267.29,657.83 1268.34,659.96 1269.3,660.93 C1270.27,661.89 1271.16,662.67 1272.09,662.09 C1273.02,661.51 1273.98,659.57 1274.87,657.45 C1275.76,655.32 1276.54,650.68 1277.42,649.33 C1278.31,647.97 1279.36,648.94 1280.21,649.33 C1281.06,649.71 1281.68,650.68 1282.53,651.65 C1283.38,652.61 1284.46,653.19 1285.31,655.13 C1286.16,657.06 1286.74,661.12 1287.63,663.25 C1288.52,665.38 1289.57,666.54 1290.65,667.89 C1291.73,669.24 1293.16,671.87 1294.13,671.37 C1295.1,670.87 1295.68,665.65 1296.45,664.87 C1297.22,664.1 1298,665.84 1298.77,666.73 C1299.54,667.62 1300.12,668.28 1301.09,670.21 C1302.06,672.14 1303.41,675.04 1304.57,678.33 C1305.73,681.62 1307.08,687.03 1308.05,689.93 C1309.02,692.83 1309.4,693.72 1310.37,695.73 C1311.34,697.74 1312.81,700.72 1313.85,702 C1314.9,703.27 1315.48,702.69 1316.64,703.39 C1317.8,704.08 1319.54,705.2 1320.81,706.17 C1322.09,707.14 1323.13,708.41 1324.29,709.19 C1325.45,709.96 1326.61,710.35 1327.77,710.81 C1328.93,711.28 1330.02,711.78 1331.25,711.97 C1332.49,712.17 1334.04,711.78 1335.2,711.97 C1336.36,712.17 1337.21,712.17 1338.21,713.13 C1339.22,714.1 1340.26,715.84 1341.23,717.77 C1342.2,719.71 1343.16,722.41 1344.01,724.73 C1344.86,727.05 1345.37,729.95 1346.33,731.69 C1347.3,733.43 1348.46,734.01 1349.81,735.17 C1351.17,736.33 1352.71,737.49 1354.45,738.65 C1356.19,739.81 1358.32,740.97 1360.26,742.13 C1362.19,743.29 1364.51,744.73 1366.06,745.61 C1367.6,746.5 1369.02,747.1 1369.54,747.47 C1370.06,747.84 1368.54,747.47 1369.18,747.86 C1369.82,748.24 1371.96,750.18 1373.36,749.81 C1374.75,749.43 1375.91,747.25 1377.53,745.63 C1379.16,744 1381.25,741.68 1383.11,740.06 C1384.96,738.43 1387.14,737.27 1388.68,735.88 C1390.21,734.48 1391.23,733.46 1392.3,731.7 C1393.37,729.94 1394.06,726.45 1395.08,725.29 C1396.1,724.13 1397.17,724.92 1398.43,724.74 C1399.68,724.55 1401.3,724.64 1402.6,724.18 C1403.9,723.71 1405.06,723.02 1406.23,721.95 C1407.39,720.88 1408.45,719.4 1409.57,717.77 C1410.68,716.15 1411.75,714.75 1412.91,712.2 C1414.07,709.65 1415.46,705.93 1416.53,702.45 C1417.6,698.97 1418.39,694.79 1419.32,691.31 C1420.25,687.83 1421.17,684.81 1422.1,681.56 C1423.03,678.31 1423.96,675.52 1424.89,671.81 C1425.82,668.1 1426.75,664.85 1427.67,659.28 C1428.6,653.7 1429.67,641.4 1430.46,638.38 C1431.25,635.37 1431.71,639.08 1432.41,641.17 C1433.11,643.26 1433.9,648.92 1434.64,650.92 C1435.38,652.92 1436.03,653.61 1436.87,653.15 C1437.7,652.68 1438.63,651.52 1439.65,648.13 C1440.67,644.74 1442.11,636.16 1442.99,632.81 C1443.88,629.47 1444.25,627.38 1444.94,628.08 C1445.64,628.77 1446.34,633.88 1447.17,636.99 C1448.01,640.1 1449.17,644.88 1449.96,646.74 C1450.75,648.6 1451.12,649.29 1451.91,648.13 C1452.7,646.97 1453.86,642.56 1454.69,639.78 C1455.53,636.99 1456.09,637.92 1456.92,631.42 C1457.76,624.92 1458.78,607.05 1459.71,600.78 C1460.64,594.51 1461.56,597.3 1462.49,593.82 C1463.42,590.33 1464.44,582.67 1465.28,579.89 C1466.11,577.1 1466.81,576.41 1467.51,577.1 C1468.2,577.8 1468.81,578.73 1469.46,584.07 C1470.11,589.41 1470.71,601.48 1471.41,609.14 C1472.1,616.8 1473.03,625.85 1473.64,630.03 C1474.24,634.21 1474.56,629.33 1475.03,634.21 C1475.49,639.08 1475.96,653.01 1476.42,659.28 C1476.88,665.54 1477.26,672.27 1477.81,671.81 C1478.37,671.35 1479.07,665.08 1479.76,656.49 C1480.46,647.9 1481.25,628.17 1481.99,620.28 C1482.73,612.39 1483.52,615.4 1484.22,609.14 C1484.92,602.87 1485.61,587.78 1486.17,582.67 C1486.73,577.57 1487.01,576.17 1487.56,578.5 C1488.12,580.82 1488.82,592.56 1489.51,596.6 C1490.21,600.64 1491.04,602.36 1491.74,602.73 C1492.44,603.1 1492.99,600.08 1493.69,598.83 C1494.39,597.58 1495.18,600.22 1495.92,595.21 C1496.66,590.19 1497.45,569.21 1498.15,568.75 C1498.84,568.28 1499.45,583.37 1500.1,592.42 C1500.75,601.48 1501.35,615.4 1502.05,623.06 C1502.74,630.72 1503.58,638.85 1504.28,638.38 C1504.97,637.92 1505.53,626.31 1506.23,620.28 C1506.92,614.24 1507.62,611.23 1508.45,602.17 C1509.29,593.12 1510.45,576.87 1511.24,565.96 C1512.03,555.05 1512.59,542.42 1513.19,536.71 C1513.79,531 1514.26,529.38 1514.86,531.7 C1515.46,534.02 1516.25,546.79 1516.81,550.64 C1517.37,554.49 1517.51,556.12 1518.2,554.82 C1518.9,553.52 1520.29,543.31 1520.99,542.84 C1521.69,542.38 1521.82,541.91 1522.38,552.03 C1522.94,562.15 1523.64,586.16 1524.33,603.57 C1525.03,620.97 1525.96,644.88 1526.56,656.49 C1527.16,668.1 1527.4,672.97 1527.95,673.2 C1528.51,673.44 1529.21,666.7 1529.9,657.88 C1530.6,649.06 1531.39,627.94 1532.13,620.28 C1532.87,612.62 1533.66,618.42 1534.36,611.92 C1535.06,605.42 1535.75,590.1 1536.31,581.28 C1536.87,572.46 1537.14,560.85 1537.7,559 C1538.26,557.14 1538.96,571.53 1539.65,570.14 C1540.35,568.75 1541.14,555.52 1541.88,550.64 C1542.62,545.77 1543.32,539.03 1544.11,540.89 C1544.9,542.75 1545.83,554.12 1546.62,561.78 C1547.4,569.44 1548.15,581.28 1548.84,586.85 C1549.54,592.42 1550.19,594.51 1550.79,595.21 C1551.4,595.91 1551.95,592.98 1552.47,591.03 C1552.98,589.08 1553.39,584.21 1553.86,583.51 C1554.32,582.81 1554.79,584.9 1555.25,586.85 C1555.71,588.8 1556.09,595.21 1556.64,595.21 C1557.2,595.21 1557.8,592.42 1558.59,586.85 C1559.38,581.28 1560.59,566.89 1561.38,561.78 C1562.17,556.68 1562.63,556.91 1563.33,556.21 C1564.03,555.52 1564.81,559.69 1565.56,557.6 C1566.3,555.52 1567.09,546.93 1567.79,543.68 C1568.48,540.43 1568.95,538.34 1569.74,538.11 C1570.52,537.87 1572.06,541.59 1572.52,542.28 L1572.52,752.8 L1177.42,752.8 Z" fill="#97b3f9" stroke="none"/>
<path d="M1177.42,645.85 C1177.73,646.04 1178.66,645.65 1179.28,647.01 C1179.9,648.36 1180.56,651.45 1181.14,653.97 C1181.72,656.48 1182.22,662.67 1182.76,662.09 C1183.3,661.51 1183.81,654.35 1184.39,650.49 C1184.97,646.62 1185.62,642.75 1186.24,638.89 C1186.86,635.02 1187.52,632.51 1188.1,627.29 C1188.68,622.06 1189.06,611.04 1189.72,607.56 C1190.38,604.08 1191.46,605.82 1192.04,606.4 C1192.62,606.98 1192.7,606.02 1193.2,611.04 C1193.7,616.07 1194.36,628.06 1195.06,636.57 C1195.75,645.07 1196.53,654.16 1197.38,662.09 C1198.23,670.02 1199.31,679.49 1200.16,684.13 C1201.01,688.77 1201.79,690.12 1202.48,689.93 C1203.18,689.74 1203.76,684.44 1204.34,682.97 C1204.92,681.5 1205.42,683.82 1205.96,681.11 C1206.5,678.41 1206.93,671.83 1207.59,666.73 C1208.24,661.62 1209.02,656.48 1209.91,650.49 C1210.8,644.49 1212.03,634.32 1212.92,630.77 C1213.81,627.21 1214.47,630.88 1215.24,629.14 C1216.02,627.4 1216.98,622.57 1217.56,620.32 C1218.14,618.08 1218.26,614.91 1218.72,615.68 C1219.19,616.46 1219.77,621.48 1220.35,624.97 C1220.93,628.45 1221.51,631.54 1222.2,636.57 C1222.9,641.59 1223.63,650.1 1224.52,655.13 C1225.41,660.15 1226.5,663.33 1227.54,666.73 C1228.58,670.13 1229.86,674.39 1230.79,675.55 C1231.72,676.71 1232.34,674.58 1233.11,673.69 C1233.88,672.8 1234.66,671.37 1235.43,670.21 C1236.2,669.05 1237.05,667.12 1237.75,666.73 C1238.45,666.34 1238.91,668.08 1239.61,667.89 C1240.3,667.7 1240.96,666.73 1241.93,665.57 C1242.89,664.41 1244.44,663.05 1245.41,660.93 C1246.37,658.8 1247.07,656.87 1247.73,652.81 C1248.38,648.75 1248.89,641.79 1249.35,636.57 C1249.81,631.35 1250.12,623.61 1250.51,621.48 C1250.9,619.36 1251.17,623.92 1251.67,623.81 C1252.17,623.69 1252.91,621.18 1253.53,620.79 C1254.15,620.4 1254.69,620.02 1255.38,621.48 C1256.08,622.95 1256.85,625.55 1257.7,629.61 C1258.55,633.67 1259.56,642.17 1260.49,645.85 C1261.42,649.52 1262.3,649.91 1263.27,651.65 C1264.24,653.39 1265.28,654.74 1266.29,656.29 C1267.29,657.83 1268.34,659.96 1269.3,660.93 C1270.27,661.89 1271.16,662.67 1272.09,662.09 C1273.02,661.51 1273.98,659.57 1274.87,657.45 C1275.76,655.32 1276.54,650.68 1277.42,649.33 C1278.31,647.97 1279.36,648.94 1280.21,649.33 C1281.06,649.71 1281.68,650.68 1282.53,651.65 C1283.38,652.61 1284.46,653.19 1285.31,655.13 C1286.16,657.06 1286.74,661.12 1287.63,663.25 C1288.52,665.38 1289.57,666.54 1290.65,667.89 C1291.73,669.24 1293.16,671.87 1294.13,671.37 C1295.1,670.87 1295.68,665.65 1296.45,664.87 C1297.22,664.1 1298,665.84 1298.77,666.73 C1299.54,667.62 1300.12,668.28 1301.09,670.21 C1302.06,672.14 1303.41,675.04 1304.57,678.33 C1305.73,681.62 1307.08,687.03 1308.05,689.93 C1309.02,692.83 1309.4,693.72 1310.37,695.73 C1311.34,697.74 1312.81,700.72 1313.85,702 C1314.9,703.27 1315.48,702.69 1316.64,703.39 C1317.8,704.08 1319.54,705.2 1320.81,706.17 C1322.09,707.14 1323.13,708.41 1324.29,709.19 C1325.45,709.96 1326.61,710.35 1327.77,710.81 C1328.93,711.28 1330.02,711.78 1331.25,711.97 C1332.49,712.17 1334.04,711.78 1335.2,711.97 C1336.36,712.17 1337.21,712.17 1338.21,713.13 C1339.22,714.1 1340.26,715.84 1341.23,717.77 C1342.2,719.71 1343.16,722.41 1344.01,724.73 C1344.86,727.05 1345.37,729.95 1346.33,731.69 C1347.3,733.43 1348.46,734.01 1349.81,735.17 C1351.17,736.33 1352.71,737.49 1354.45,738.65 C1356.19,739.81 1358.32,740.97 1360.26,742.13 C1362.19,743.29 1364.51,744.73 1366.06,745.61 C1367.6,746.5 1369.02,747.1 1369.54,747.47 C1370.06,747.84 1368.54,747.47 1369.18,747.86 C1369.82,748.24 1371.96,750.18 1373.36,749.81 C1374.75,749.43 1375.91,747.25 1377.53,745.63 C1379.16,744 1381.25,741.68 1383.11,740.06 C1384.96,738.43 1387.14,737.27 1388.68,735.88 C1390.21,734.48 1391.23,733.46 1392.3,731.7 C1393.37,729.94 1394.06,726.45 1395.08,725.29 C1396.1,724.13 1397.17,724.92 1398.43,724.74 C1399.68,724.55 1401.3,724.64 1402.6,724.18 C1403.9,723.71 1405.06,723.02 1406.23,721.95 C1407.39,720.88 1408.45,719.4 1409.57,717.77 C1410.68,716.15 1411.75,714.75 1412.91,712.2 C1414.07,709.65 1415.46,705.93 1416.53,702.45 C1417.6,698.97 1418.39,694.79 1419.32,691.31 C1420.25,687.83 1421.17,684.81 1422.1,681.56 C1423.03,678.31 1423.96,675.52 1424.89,671.81 C1425.82,668.1 1426.75,664.85 1427.67,659.28 C1428.6,653.7 1429.67,641.4 1430.46,638.38 C1431.25,635.37 1431.71,639.08 1432.41,641.17 C1433.11,643.26 1433.9,648.92 1434.64,650.92 C1435.38,652.92 1436.03,653.61 1436.87,653.15 C1437.7,652.68 1438.63,651.52 1439.65,648.13 C1440.67,644.74 1442.11,636.16 1442.99,632.81 C1443.88,629.47 1444.25,627.38 1444.94,628.08 C1445.64,628.77 1446.34,633.88 1447.17,636.99 C1448.01,640.1 1449.17,644.88 1449.96,646.74 C1450.75,648.6 1451.12,649.29 1451.91,648.13 C1452.7,646.97 1453.86,642.56 1454.69,639.78 C1455.53,636.99 1456.09,637.92 1456.92,631.42 C1457.76,624.92 1458.78,607.05 1459.71,600.78 C1460.64,594.51 1461.56,597.3 1462.49,593.82 C1463.42,590.33 1464.44,582.67 1465.28,579.89 C1466.11,577.1 1466.81,576.41 1467.51,577.1 C1468.2,577.8 1468.81,578.73 1469.46,584.07 C1470.11,589.41 1470.71,601.48 1471.41,609.14 C1472.1,616.8 1473.03,625.85 1473.64,630.03 C1474.24,634.21 1474.56,629.33 1475.03,634.21 C1475.49,639.08 1475.96,653.01 1476.42,659.28 C1476.88,665.54 1477.26,672.27 1477.81,671.81 C1478.37,671.35 1479.07,665.08 1479.76,656.49 C1480.46,647.9 1481.25,628.17 1481.99,620.28 C1482.73,612.39 1483.52,615.4 1484.22,609.14 C1484.92,602.87 1485.61,587.78 1486.17,582.67 C1486.73,577.57 1487.01,576.17 1487.56,578.5 C1488.12,580.82 1488.82,592.56 1489.51,596.6 C1490.21,600.64 1491.04,602.36 1491.74,602.73 C1492.44,603.1 1492.99,600.08 1493.69,598.83 C1494.39,597.58 1495.18,600.22 1495.92,595.21 C1496.66,590.19 1497.45,569.21 1498.15,568.75 C1498.84,568.28 1499.45,583.37 1500.1,592.42 C1500.75,601.48 1501.35,615.4 1502.05,623.06 C1502.74,630.72 1503.58,638.85 1504.28,638.38 C1504.97,637.92 1505.53,626.31 1506.23,620.28 C1506.92,614.24 1507.62,611.23 1508.45,602.17 C1509.29,593.12 1510.45,576.87 1511.24,565.96 C1512.03,555.05 1512.59,542.42 1513.19,536.71 C1513.79,531 1514.26,529.38 1514.86,531.7 C1515.46,534.02 1516.25,546.79 1516.81,550.64 C1517.37,554.49 1517.51,556.12 1518.2,554.82 C1518.9,553.52 1520.29,543.31 1520.99,542.84 C1521.69,542.38 1521.82,541.91 1522.38,552.03 C1522.94,562.15 1523.64,586.16 1524.33,603.57 C1525.03,620.97 1525.96,644.88 1526.56,656.49 C1527.16,668.1 1527.4,672.97 1527.95,673.2 C1528.51,673.44 1529.21,666.7 1529.9,657.88 C1530.6,649.06 1531.39,627.94 1532.13,620.28 C1532.87,612.62 1533.66,618.42 1534.36,611.92 C1535.06,605.42 1535.75,590.1 1536.31,581.28 C1536.87,572.46 1537.14,560.85 1537.7,559 C1538.26,557.14 1538.96,571.53 1539.65,570.14 C1540.35,568.75 1541.14,555.52 1541.88,550.64 C1542.62,545.77 1543.32,539.03 1544.11,540.89 C1544.9,542.75 1545.83,554.12 1546.62,561.78 C1547.4,569.44 1548.15,581.28 1548.84,586.85 C1549.54,592.42 1550.19,594.51 1550.79,595.21 C1551.4,595.91 1551.95,592.98 1552.47,591.03 C1552.98,589.08 1553.39,584.21 1553.86,583.51 C1554.32,582.81 1554.79,584.9 1555.25,586.85 C1555.71,588.8 1556.09,595.21 1556.64,595.21 C1557.2,595.21 1557.8,592.42 1558.59,586.85 C1559.38,581.28 1560.59,566.89 1561.38,561.78 C1562.17,556.68 1562.63,556.91 1563.33,556.21 C1564.03,555.52 1564.81,559.69 1565.56,557.6 C1566.3,555.52 1567.09,546.93 1567.79,543.68 C1568.48,540.43 1568.95,538.34 1569.74,538.11 C1570.52,537.87 1572.06,541.59 1572.52,542.28" fill="none" stroke="#3030f0" stroke-width="1.6" stroke-linejoin="round"/>
</g>
<rect x="1177.3" y="455" width="393.9" height="295.8" fill="none" stroke="#222" stroke-width="1.4"/>
<line x1="1177.3" y1="726.15" x2="1179.9" y2="726.15" stroke="#222" stroke-width="1.3" />
<line x1="1177.3" y1="701.5" x2="1181.7" y2="701.5" stroke="#222" stroke-width="1.3" />
<line x1="1177.3" y1="676.85" x2="1179.9" y2="676.85" stroke="#222" stroke-width="1.3" />
<line x1="1177.3" y1="652.2" x2="1181.7" y2="652.2" stroke="#222" stroke-width="1.3" />
<line x1="1177.3" y1="627.55" x2="1179.9" y2="627.55" stroke="#222" stroke-width="1.3" />
<line x1="1177.3" y1="602.9" x2="1181.7" y2="602.9" stroke="#222" stroke-width="1.3" />
<line x1="1177.3" y1="578.25" x2="1179.9" y2="578.25" stroke="#222" stroke-width="1.3" />
<line x1="1177.3" y1="553.6" x2="1181.7" y2="553.6" stroke="#222" stroke-width="1.3" />
<line x1="1177.3" y1="528.95" x2="1179.9" y2="528.95" stroke="#222" stroke-width="1.3" />
<line x1="1177.3" y1="504.3" x2="1181.7" y2="504.3" stroke="#222" stroke-width="1.3" />
<line x1="1177.3" y1="479.65" x2="1179.9" y2="479.65" stroke="#222" stroke-width="1.3" />
<line x1="1196.99" y1="750.8" x2="1196.99" y2="748.2" stroke="#222" stroke-width="1.3" />
<line x1="1216.69" y1="750.8" x2="1216.69" y2="746.4" stroke="#222" stroke-width="1.3" />
<line x1="1236.38" y1="750.8" x2="1236.38" y2="748.2" stroke="#222" stroke-width="1.3" />
<line x1="1256.08" y1="750.8" x2="1256.08" y2="746.4" stroke="#222" stroke-width="1.3" />
<line x1="1275.78" y1="750.8" x2="1275.78" y2="748.2" stroke="#222" stroke-width="1.3" />
<line x1="1295.47" y1="750.8" x2="1295.47" y2="746.4" stroke="#222" stroke-width="1.3" />
<line x1="1315.16" y1="750.8" x2="1315.16" y2="748.2" stroke="#222" stroke-width="1.3" />
<line x1="1334.86" y1="750.8" x2="1334.86" y2="746.4" stroke="#222" stroke-width="1.3" />
<line x1="1354.56" y1="750.8" x2="1354.56" y2="748.2" stroke="#222" stroke-width="1.3" />
<line x1="1374.25" y1="750.8" x2="1374.25" y2="746.4" stroke="#222" stroke-width="1.3" />
<line x1="1393.94" y1="750.8" x2="1393.94" y2="748.2" stroke="#222" stroke-width="1.3" />
<line x1="1413.64" y1="750.8" x2="1413.64" y2="746.4" stroke="#222" stroke-width="1.3" />
<line x1="1433.34" y1="750.8" x2="1433.34" y2="748.2" stroke="#222" stroke-width="1.3" />
<line x1="1453.03" y1="750.8" x2="1453.03" y2="746.4" stroke="#222" stroke-width="1.3" />
<line x1="1472.72" y1="750.8" x2="1472.72" y2="748.2" stroke="#222" stroke-width="1.3" />
<line x1="1492.42" y1="750.8" x2="1492.42" y2="746.4" stroke="#222" stroke-width="1.3" />
<line x1="1512.12" y1="750.8" x2="1512.12" y2="748.2" stroke="#222" stroke-width="1.3" />
<line x1="1531.81" y1="750.8" x2="1531.81" y2="746.4" stroke="#222" stroke-width="1.3" />
<line x1="1551.51" y1="750.8" x2="1551.51" y2="748.2" stroke="#222" stroke-width="1.3" />
<text x="1170" y="755" font-size="12" font-weight="bold" text-anchor="end" fill="#000" font-style="normal" >0</text>
<text x="1170" y="705.7" font-size="12" font-weight="bold" text-anchor="end" fill="#000" font-style="normal" >0.5</text>
<text x="1170" y="656.4" font-size="12" font-weight="bold" text-anchor="end" fill="#000" font-style="normal" >1</text>
<text x="1170" y="607.1" font-size="12" font-weight="bold" text-anchor="end" fill="#000" font-style="normal" >1.5</text>
<text x="1170" y="557.8" font-size="12" font-weight="bold" text-anchor="end" fill="#000" font-style="normal" >2</text>
<text x="1170" y="508.5" font-size="12" font-weight="bold" text-anchor="end" fill="#000" font-style="normal" >2.5</text>
<text x="1170" y="459.2" font-size="12" font-weight="bold" text-anchor="end" fill="#000" font-style="normal" >3</text>
<text x="1177.3" y="765.9" font-size="12" font-weight="bold" text-anchor="middle" fill="#000" font-style="normal" >&#8211;5</text>
<text x="1216.69" y="765.9" font-size="12" font-weight="bold" text-anchor="middle" fill="#000" font-style="normal" >&#8211;4</text>
<text x="1256.08" y="765.9" font-size="12" font-weight="bold" text-anchor="middle" fill="#000" font-style="normal" >&#8211;3</text>
<text x="1295.47" y="765.9" font-size="12" font-weight="bold" text-anchor="middle" fill="#000" font-style="normal" >&#8211;2</text>
<text x="1334.86" y="765.9" font-size="12" font-weight="bold" text-anchor="middle" fill="#000" font-style="normal" >&#8211;1</text>
<text x="1374.25" y="765.9" font-size="12" font-weight="bold" text-anchor="middle" fill="#000" font-style="normal" >0</text>
<text x="1413.64" y="765.9" font-size="12" font-weight="bold" text-anchor="middle" fill="#000" font-style="normal" >1</text>
<text x="1453.03" y="765.9" font-size="12" font-weight="bold" text-anchor="middle" fill="#000" font-style="normal" >2</text>
<text x="1492.42" y="765.9" font-size="12" font-weight="bold" text-anchor="middle" fill="#000" font-style="normal" >3</text>
<text x="1531.81" y="765.9" font-size="12" font-weight="bold" text-anchor="middle" fill="#000" font-style="normal" >4</text>
<text x="1571.2" y="765.9" font-size="12" font-weight="bold" text-anchor="middle" fill="#000" font-style="normal" >5</text>
<text x="1375.7" y="790.9" font-size="16.5" font-weight="bold" text-anchor="middle"><tspan font-style="italic">E</tspan> &#8722; <tspan font-style="italic">E</tspan><tspan font-size="12.5" dy="6">F</tspan><tspan dy="-6"> (eV)</tspan></text>
<text transform="translate(1142.7,602.3) rotate(-90)" font-size="16.5" font-weight="bold" text-anchor="middle" textLength="146.5" lengthAdjust="spacingAndGlyphs">DOS, states/eV/f.u.</text>
<line x1="1196.8" y1="472.5" x2="1232.6" y2="472.5" stroke="#3030f0" stroke-width="1.8" />
<text x="1243" y="479.8" font-size="16" font-weight="bold"><tspan font-style="italic">P</tspan>2<tspan font-size="12" dy="5.5">1</tspan><tspan dy="-5.5">-BaH</tspan><tspan font-size="12.5" dy="5.8">12</tspan></text>
<text x="1552" y="479.8" font-size="16" font-weight="normal" text-anchor="end" fill="#000" font-style="normal" >150 GPa</text>
<clipPath id="c9"><rect x="1631.9" y="455" width="393.4" height="295.8"/></clipPath>
<g clip-path="url(#c9)">
<path d="M1631.68,678.12 C1631.96,680.21 1632.79,685.78 1633.35,690.65 C1633.91,695.52 1634.5,704.04 1635.02,707.35 C1635.54,710.65 1636,711.18 1636.48,710.48 C1636.97,709.78 1637.42,709.26 1637.94,703.17 C1638.47,697.08 1639.06,684.04 1639.61,673.95 C1640.17,663.86 1640.76,651.05 1641.28,642.63 C1641.81,634.21 1642.26,624.47 1642.75,623.42 C1643.23,622.38 1643.68,628.99 1644.21,636.37 C1644.73,643.74 1645.25,658.29 1645.88,667.68 C1646.5,677.08 1647.34,688.04 1647.96,692.73 C1648.59,697.43 1649.01,695.87 1649.63,695.87 C1650.26,695.87 1651.13,697.43 1651.72,692.73 C1652.31,688.04 1652.7,676.73 1653.18,667.68 C1653.67,658.64 1654.19,644.54 1654.65,638.46 C1655.1,632.37 1655.34,630.45 1655.9,631.15 C1656.45,631.84 1657.5,638.63 1657.99,642.63 C1658.47,646.63 1658.47,649.94 1658.82,655.16 C1659.17,660.38 1659.62,677.77 1660.07,673.95 C1660.53,670.12 1661.05,640.72 1661.53,632.19 C1662.02,623.67 1662.54,624.54 1663,622.8 C1663.45,621.06 1663.8,624.08 1664.25,621.75 C1664.7,619.42 1665.22,607.07 1665.71,608.81 C1666.2,610.55 1666.65,619.6 1667.17,632.19 C1667.69,644.79 1668.32,670.29 1668.84,684.38 C1669.36,698.48 1669.78,716.74 1670.3,716.74 C1670.82,716.74 1671.35,696.74 1671.97,684.38 C1672.6,672.03 1673.43,654.88 1674.06,642.63 C1674.69,630.38 1675.21,614.38 1675.73,610.9 C1676.25,607.42 1676.67,612.29 1677.19,621.75 C1677.71,631.22 1678.34,662.12 1678.86,667.68 C1679.38,673.25 1679.73,657.42 1680.32,655.16 C1680.92,652.89 1681.82,652.03 1682.41,654.11 C1683,656.2 1683.35,663.86 1683.87,667.68 C1684.39,671.51 1684.92,677.08 1685.54,677.08 C1686.17,677.08 1686.93,670.64 1687.63,667.68 C1688.33,664.73 1689.02,658.98 1689.72,659.33 C1690.41,659.68 1691.11,665.59 1691.81,669.77 C1692.5,673.95 1693.2,687.52 1693.89,684.38 C1694.59,681.25 1695.35,657.24 1695.98,650.98 C1696.61,644.72 1697.13,649.76 1697.65,646.81 C1698.17,643.85 1698.63,632.54 1699.11,633.24 C1699.6,633.93 1700.05,647.68 1700.57,650.98 C1701.1,654.29 1701.62,652.2 1702.24,653.07 C1702.87,653.94 1703.81,656.37 1704.33,656.2 C1704.85,656.03 1705.03,651.16 1705.38,652.03 C1705.72,652.89 1705.9,662.81 1706.42,661.42 C1706.94,660.03 1707.81,643.15 1708.51,643.67 C1709.2,644.2 1709.9,661.42 1710.59,664.55 C1711.29,667.68 1711.92,664.38 1712.68,662.46 C1713.45,660.55 1714.56,654.63 1715.19,653.07 C1715.81,651.5 1715.95,657.77 1716.44,653.07 C1716.93,648.37 1717.52,623.84 1718.11,624.89 C1718.7,625.93 1719.33,655.33 1719.99,659.33 C1720.65,663.33 1721.38,651.68 1722.08,648.89 C1722.77,646.11 1723.47,644.02 1724.16,642.63 C1724.86,641.24 1725.56,639.5 1726.25,640.54 C1726.95,641.59 1727.82,645.59 1728.34,648.89 C1728.86,652.2 1728.97,659.85 1729.38,660.38 C1729.8,660.9 1730.32,652.37 1730.85,652.03 C1731.37,651.68 1731.89,657.07 1732.52,658.29 C1733.14,659.51 1734.01,660.72 1734.6,659.33 C1735.19,657.94 1735.54,652.03 1736.06,649.94 C1736.59,647.85 1737.18,646.28 1737.73,646.81 C1738.29,647.33 1738.71,649.24 1739.41,653.07 C1740.1,656.9 1741.14,667.33 1741.91,669.77 C1742.68,672.21 1743.23,670.64 1744,667.68 C1744.76,664.73 1745.81,653.24 1746.5,652.03 C1747.2,650.81 1747.55,657.42 1748.17,660.38 C1748.8,663.33 1749.5,667.68 1750.26,669.77 C1751.03,671.86 1752.07,670.81 1752.77,672.9 C1753.46,674.99 1753.74,682.99 1754.44,682.3 C1755.13,681.6 1756.25,669.42 1756.94,668.73 C1757.64,668.03 1757.99,674.64 1758.61,678.12 C1759.24,681.6 1760,689.6 1760.7,689.6 C1761.4,689.6 1762.02,685.6 1762.79,678.12 C1763.55,670.64 1764.6,647.85 1765.29,644.72 C1765.99,641.59 1766.34,654.11 1766.96,659.33 C1767.59,664.55 1768.35,670.81 1769.05,676.03 C1769.75,681.25 1770.51,687.69 1771.14,690.65 C1771.76,693.6 1772.11,694.47 1772.81,693.78 C1773.5,693.08 1774.37,688.73 1775.31,686.47 C1776.25,684.21 1777.47,681.6 1778.44,680.21 C1779.42,678.82 1780.29,676.9 1781.16,678.12 C1782.03,679.34 1782.9,685.43 1783.66,687.52 C1784.43,689.6 1785.06,690.47 1785.75,690.65 C1786.45,690.82 1787.07,691 1787.84,688.56 C1788.6,686.12 1789.65,677.25 1790.34,676.03 C1791.04,674.82 1791.39,679.16 1792.01,681.25 C1792.64,683.34 1793.23,687.17 1794.1,688.56 C1794.97,689.95 1796.36,688.91 1797.23,689.6 C1798.1,690.3 1798.52,690.47 1799.32,692.73 C1800.12,695 1801.1,701.78 1802.04,703.17 C1802.97,704.57 1804.02,700.91 1804.96,701.09 C1805.9,701.26 1806.87,701.78 1807.67,704.22 C1808.47,706.65 1809.06,711.87 1809.76,715.7 C1810.46,719.53 1810.98,724.57 1811.85,727.18 C1812.72,729.79 1813.94,730.14 1814.98,731.36 C1816.02,732.57 1817.07,733.1 1818.11,734.49 C1819.15,735.88 1820.3,737.79 1821.24,739.71 C1822.18,741.62 1823.05,744.13 1823.75,745.97 C1824.44,747.81 1824.93,750 1825.42,750.77 C1825.91,751.54 1824.72,750.61 1826.7,750.58 C1828.67,750.54 1833.75,750.58 1837.28,750.58 C1840.81,750.58 1845.63,751.41 1847.86,750.58 C1850.09,749.74 1849.62,748.26 1850.64,745.56 C1851.67,742.87 1852.97,739.53 1853.99,734.42 C1855.01,729.32 1855.84,721.89 1856.77,714.93 C1857.7,707.97 1858.63,698.22 1859.56,692.65 C1860.48,687.08 1861.51,686.62 1862.34,681.51 C1863.18,676.41 1863.97,666.43 1864.57,662.02 C1865.17,657.61 1865.5,652.74 1865.96,655.06 C1866.42,657.38 1866.94,668.29 1867.35,675.95 C1867.77,683.6 1867.91,694.97 1868.47,701.01 C1869.02,707.04 1870.09,709.69 1870.69,712.15 C1871.3,714.61 1871.53,715.21 1872.09,715.77 C1872.64,716.32 1873.43,718.41 1874.04,715.49 C1874.64,712.56 1875.1,705.74 1875.71,698.22 C1876.31,690.7 1877.1,676.87 1877.66,670.38 C1878.21,663.88 1878.49,659.24 1879.05,659.24 C1879.61,659.24 1880.3,663.88 1881,670.38 C1881.69,676.87 1882.62,692.56 1883.23,698.22 C1883.83,703.89 1884.02,705.74 1884.62,704.35 C1885.22,702.96 1886.15,698.32 1886.85,689.87 C1887.54,681.42 1888.15,666.2 1888.8,653.67 C1889.45,641.14 1890.19,617.47 1890.74,614.68 C1891.3,611.9 1891.63,628.14 1892.14,636.96 C1892.65,645.78 1893.3,661.09 1893.81,667.59 C1894.32,674.09 1894.78,675.48 1895.2,675.95 C1895.62,676.41 1895.76,671.3 1896.31,670.38 C1896.87,669.45 1897.94,671.3 1898.54,670.38 C1899.15,669.45 1899.38,668.06 1899.93,664.81 C1900.49,661.56 1901.28,655.06 1901.88,650.88 C1902.49,646.71 1903.09,640.21 1903.55,639.74 C1904.02,639.28 1904.25,647.63 1904.67,648.1 C1905.09,648.56 1905.55,641.83 1906.06,642.53 C1906.57,643.22 1907.13,648.56 1907.73,652.28 C1908.34,655.99 1909.12,665.04 1909.68,664.81 C1910.24,664.57 1910.52,655.06 1911.07,650.88 C1911.63,646.71 1912.33,641.37 1913.02,639.74 C1913.72,638.12 1914.65,640.67 1915.25,641.14 C1915.85,641.6 1916.18,640.9 1916.64,642.53 C1917.11,644.15 1917.57,648.56 1918.04,650.88 C1918.5,653.2 1918.87,659.7 1919.43,656.45 C1919.98,653.2 1920.68,637.19 1921.38,631.39 C1922.07,625.59 1922.86,621.18 1923.6,621.64 C1924.35,622.11 1925.14,630.93 1925.83,634.17 C1926.53,637.42 1927.13,640.67 1927.78,641.14 C1928.43,641.6 1929.04,639.98 1929.73,636.96 C1930.43,633.94 1931.22,628.6 1931.96,623.04 C1932.7,617.47 1933.49,604.01 1934.19,603.54 C1934.88,603.08 1935.58,615.15 1936.14,620.25 C1936.69,625.36 1936.93,635.57 1937.53,634.17 C1938.13,632.78 1938.92,617.47 1939.76,611.9 C1940.59,606.33 1941.75,599.37 1942.54,600.76 C1943.33,602.15 1943.93,614.68 1944.49,620.25 C1945.05,625.82 1945.28,636.03 1945.88,634.17 C1946.49,632.32 1947.41,611.43 1948.11,609.11 C1948.81,606.79 1949.5,617 1950.06,620.25 C1950.62,623.5 1950.99,631.39 1951.45,628.6 C1951.92,625.82 1952.38,614.22 1952.84,603.54 C1953.31,592.87 1953.77,567.8 1954.24,564.56 C1954.7,561.31 1955.17,578.94 1955.63,584.05 C1956.09,589.15 1956.42,594.72 1957.02,595.19 C1957.63,595.65 1958.55,592.87 1959.25,586.83 C1959.95,580.8 1960.64,561.31 1961.2,558.99 C1961.76,556.67 1962.03,562.7 1962.59,572.91 C1963.15,583.12 1963.98,616.07 1964.54,620.25 C1965.1,624.43 1965.42,605.4 1965.93,597.97 C1966.44,590.55 1967,576.62 1967.6,575.69 C1968.21,574.77 1969,589.15 1969.55,592.4 C1970.11,595.65 1970.34,596.12 1970.95,595.19 C1971.55,594.26 1972.43,584.51 1973.17,586.83 C1973.92,589.15 1974.75,607.26 1975.4,609.11 C1976.05,610.97 1976.42,601.45 1977.07,597.97 C1977.72,594.49 1978.65,589.39 1979.3,588.23 C1979.95,587.07 1980.37,597.51 1980.97,591.01 C1981.57,584.51 1982.27,549.47 1982.92,549.24 C1983.57,549.01 1984.31,576.16 1984.87,589.62 C1985.43,603.08 1985.8,627.68 1986.26,630 C1986.73,632.32 1987.1,616.07 1987.65,603.54 C1988.21,591.01 1989.05,554.81 1989.6,554.81 C1990.16,554.81 1990.53,600.06 1991,603.54 C1991.46,607.02 1991.92,583.12 1992.39,575.69 C1992.85,568.27 1993.27,558.99 1993.78,558.99 C1994.29,558.99 1994.89,570.59 1995.45,575.69 C1996.01,580.8 1996.57,594.82 1997.12,589.62 C1997.68,584.42 1998.28,549.15 1998.79,544.51 C1999.3,539.86 1999.63,554.25 2000.19,561.77 C2000.74,569.29 2001.44,587.3 2002.13,589.62 C2002.83,591.94 2003.53,578.71 2004.36,575.69 C2005.2,572.68 2006.4,570.13 2007.15,571.52 C2007.89,572.91 2008.21,578.25 2008.82,584.05 C2009.42,589.85 2010.12,607.72 2010.77,606.33 C2011.42,604.93 2012.16,584.05 2012.72,575.69 C2013.27,567.34 2013.55,555.51 2014.11,556.2 C2014.67,556.9 2015.45,576.86 2016.06,579.87 C2016.66,582.89 2017.13,571.98 2017.73,574.3 C2018.33,576.62 2019.12,593.1 2019.68,593.8 C2020.24,594.49 2020.61,580.1 2021.07,578.48 C2021.53,576.86 2021.91,584.28 2022.46,584.05 C2023.02,583.82 2023.86,573.37 2024.41,577.09 C2024.97,580.8 2025.57,601.45 2025.8,606.33 L2025.8,752.8 L1631.68,752.8 Z" fill="#97b3f9" stroke="none"/>
<path d="M1631.68,678.12 C1631.96,680.21 1632.79,685.78 1633.35,690.65 C1633.91,695.52 1634.5,704.04 1635.02,707.35 C1635.54,710.65 1636,711.18 1636.48,710.48 C1636.97,709.78 1637.42,709.26 1637.94,703.17 C1638.47,697.08 1639.06,684.04 1639.61,673.95 C1640.17,663.86 1640.76,651.05 1641.28,642.63 C1641.81,634.21 1642.26,624.47 1642.75,623.42 C1643.23,622.38 1643.68,628.99 1644.21,636.37 C1644.73,643.74 1645.25,658.29 1645.88,667.68 C1646.5,677.08 1647.34,688.04 1647.96,692.73 C1648.59,697.43 1649.01,695.87 1649.63,695.87 C1650.26,695.87 1651.13,697.43 1651.72,692.73 C1652.31,688.04 1652.7,676.73 1653.18,667.68 C1653.67,658.64 1654.19,644.54 1654.65,638.46 C1655.1,632.37 1655.34,630.45 1655.9,631.15 C1656.45,631.84 1657.5,638.63 1657.99,642.63 C1658.47,646.63 1658.47,649.94 1658.82,655.16 C1659.17,660.38 1659.62,677.77 1660.07,673.95 C1660.53,670.12 1661.05,640.72 1661.53,632.19 C1662.02,623.67 1662.54,624.54 1663,622.8 C1663.45,621.06 1663.8,624.08 1664.25,621.75 C1664.7,619.42 1665.22,607.07 1665.71,608.81 C1666.2,610.55 1666.65,619.6 1667.17,632.19 C1667.69,644.79 1668.32,670.29 1668.84,684.38 C1669.36,698.48 1669.78,716.74 1670.3,716.74 C1670.82,716.74 1671.35,696.74 1671.97,684.38 C1672.6,672.03 1673.43,654.88 1674.06,642.63 C1674.69,630.38 1675.21,614.38 1675.73,610.9 C1676.25,607.42 1676.67,612.29 1677.19,621.75 C1677.71,631.22 1678.34,662.12 1678.86,667.68 C1679.38,673.25 1679.73,657.42 1680.32,655.16 C1680.92,652.89 1681.82,652.03 1682.41,654.11 C1683,656.2 1683.35,663.86 1683.87,667.68 C1684.39,671.51 1684.92,677.08 1685.54,677.08 C1686.17,677.08 1686.93,670.64 1687.63,667.68 C1688.33,664.73 1689.02,658.98 1689.72,659.33 C1690.41,659.68 1691.11,665.59 1691.81,669.77 C1692.5,673.95 1693.2,687.52 1693.89,684.38 C1694.59,681.25 1695.35,657.24 1695.98,650.98 C1696.61,644.72 1697.13,649.76 1697.65,646.81 C1698.17,643.85 1698.63,632.54 1699.11,633.24 C1699.6,633.93 1700.05,647.68 1700.57,650.98 C1701.1,654.29 1701.62,652.2 1702.24,653.07 C1702.87,653.94 1703.81,656.37 1704.33,656.2 C1704.85,656.03 1705.03,651.16 1705.38,652.03 C1705.72,652.89 1705.9,662.81 1706.42,661.42 C1706.94,660.03 1707.81,643.15 1708.51,643.67 C1709.2,644.2 1709.9,661.42 1710.59,664.55 C1711.29,667.68 1711.92,664.38 1712.68,662.46 C1713.45,660.55 1714.56,654.63 1715.19,653.07 C1715.81,651.5 1715.95,657.77 1716.44,653.07 C1716.93,648.37 1717.52,623.84 1718.11,624.89 C1718.7,625.93 1719.33,655.33 1719.99,659.33 C1720.65,663.33 1721.38,651.68 1722.08,648.89 C1722.77,646.11 1723.47,644.02 1724.16,642.63 C1724.86,641.24 1725.56,639.5 1726.25,640.54 C1726.95,641.59 1727.82,645.59 1728.34,648.89 C1728.86,652.2 1728.97,659.85 1729.38,660.38 C1729.8,660.9 1730.32,652.37 1730.85,652.03 C1731.37,651.68 1731.89,657.07 1732.52,658.29 C1733.14,659.51 1734.01,660.72 1734.6,659.33 C1735.19,657.94 1735.54,652.03 1736.06,649.94 C1736.59,647.85 1737.18,646.28 1737.73,646.81 C1738.29,647.33 1738.71,649.24 1739.41,653.07 C1740.1,656.9 1741.14,667.33 1741.91,669.77 C1742.68,672.21 1743.23,670.64 1744,667.68 C1744.76,664.73 1745.81,653.24 1746.5,652.03 C1747.2,650.81 1747.55,657.42 1748.17,660.38 C1748.8,663.33 1749.5,667.68 1750.26,669.77 C1751.03,671.86 1752.07,670.81 1752.77,672.9 C1753.46,674.99 1753.74,682.99 1754.44,682.3 C1755.13,681.6 1756.25,669.42 1756.94,668.73 C1757.64,668.03 1757.99,674.64 1758.61,678.12 C1759.24,681.6 1760,689.6 1760.7,689.6 C1761.4,689.6 1762.02,685.6 1762.79,678.12 C1763.55,670.64 1764.6,647.85 1765.29,644.72 C1765.99,641.59 1766.34,654.11 1766.96,659.33 C1767.59,664.55 1768.35,670.81 1769.05,676.03 C1769.75,681.25 1770.51,687.69 1771.14,690.65 C1771.76,693.6 1772.11,694.47 1772.81,693.78 C1773.5,693.08 1774.37,688.73 1775.31,686.47 C1776.25,684.21 1777.47,681.6 1778.44,680.21 C1779.42,678.82 1780.29,676.9 1781.16,678.12 C1782.03,679.34 1782.9,685.43 1783.66,687.52 C1784.43,689.6 1785.06,690.47 1785.75,690.65 C1786.45,690.82 1787.07,691 1787.84,688.56 C1788.6,686.12 1789.65,677.25 1790.34,676.03 C1791.04,674.82 1791.39,679.16 1792.01,681.25 C1792.64,683.34 1793.23,687.17 1794.1,688.56 C1794.97,689.95 1796.36,688.91 1797.23,689.6 C1798.1,690.3 1798.52,690.47 1799.32,692.73 C1800.12,695 1801.1,701.78 1802.04,703.17 C1802.97,704.57 1804.02,700.91 1804.96,701.09 C1805.9,701.26 1806.87,701.78 1807.67,704.22 C1808.47,706.65 1809.06,711.87 1809.76,715.7 C1810.46,719.53 1810.98,724.57 1811.85,727.18 C1812.72,729.79 1813.94,730.14 1814.98,731.36 C1816.02,732.57 1817.07,733.1 1818.11,734.49 C1819.15,735.88 1820.3,737.79 1821.24,739.71 C1822.18,741.62 1823.05,744.13 1823.75,745.97 C1824.44,747.81 1824.93,750 1825.42,750.77 C1825.91,751.54 1824.72,750.61 1826.7,750.58 C1828.67,750.54 1833.75,750.58 1837.28,750.58 C1840.81,750.58 1845.63,751.41 1847.86,750.58 C1850.09,749.74 1849.62,748.26 1850.64,745.56 C1851.67,742.87 1852.97,739.53 1853.99,734.42 C1855.01,729.32 1855.84,721.89 1856.77,714.93 C1857.7,707.97 1858.63,698.22 1859.56,692.65 C1860.48,687.08 1861.51,686.62 1862.34,681.51 C1863.18,676.41 1863.97,666.43 1864.57,662.02 C1865.17,657.61 1865.5,652.74 1865.96,655.06 C1866.42,657.38 1866.94,668.29 1867.35,675.95 C1867.77,683.6 1867.91,694.97 1868.47,701.01 C1869.02,707.04 1870.09,709.69 1870.69,712.15 C1871.3,714.61 1871.53,715.21 1872.09,715.77 C1872.64,716.32 1873.43,718.41 1874.04,715.49 C1874.64,712.56 1875.1,705.74 1875.71,698.22 C1876.31,690.7 1877.1,676.87 1877.66,670.38 C1878.21,663.88 1878.49,659.24 1879.05,659.24 C1879.61,659.24 1880.3,663.88 1881,670.38 C1881.69,676.87 1882.62,692.56 1883.23,698.22 C1883.83,703.89 1884.02,705.74 1884.62,704.35 C1885.22,702.96 1886.15,698.32 1886.85,689.87 C1887.54,681.42 1888.15,666.2 1888.8,653.67 C1889.45,641.14 1890.19,617.47 1890.74,614.68 C1891.3,611.9 1891.63,628.14 1892.14,636.96 C1892.65,645.78 1893.3,661.09 1893.81,667.59 C1894.32,674.09 1894.78,675.48 1895.2,675.95 C1895.62,676.41 1895.76,671.3 1896.31,670.38 C1896.87,669.45 1897.94,671.3 1898.54,670.38 C1899.15,669.45 1899.38,668.06 1899.93,664.81 C1900.49,661.56 1901.28,655.06 1901.88,650.88 C1902.49,646.71 1903.09,640.21 1903.55,639.74 C1904.02,639.28 1904.25,647.63 1904.67,648.1 C1905.09,648.56 1905.55,641.83 1906.06,642.53 C1906.57,643.22 1907.13,648.56 1907.73,652.28 C1908.34,655.99 1909.12,665.04 1909.68,664.81 C1910.24,664.57 1910.52,655.06 1911.07,650.88 C1911.63,646.71 1912.33,641.37 1913.02,639.74 C1913.72,638.12 1914.65,640.67 1915.25,641.14 C1915.85,641.6 1916.18,640.9 1916.64,642.53 C1917.11,644.15 1917.57,648.56 1918.04,650.88 C1918.5,653.2 1918.87,659.7 1919.43,656.45 C1919.98,653.2 1920.68,637.19 1921.38,631.39 C1922.07,625.59 1922.86,621.18 1923.6,621.64 C1924.35,622.11 1925.14,630.93 1925.83,634.17 C1926.53,637.42 1927.13,640.67 1927.78,641.14 C1928.43,641.6 1929.04,639.98 1929.73,636.96 C1930.43,633.94 1931.22,628.6 1931.96,623.04 C1932.7,617.47 1933.49,604.01 1934.19,603.54 C1934.88,603.08 1935.58,615.15 1936.14,620.25 C1936.69,625.36 1936.93,635.57 1937.53,634.17 C1938.13,632.78 1938.92,617.47 1939.76,611.9 C1940.59,606.33 1941.75,599.37 1942.54,600.76 C1943.33,602.15 1943.93,614.68 1944.49,620.25 C1945.05,625.82 1945.28,636.03 1945.88,634.17 C1946.49,632.32 1947.41,611.43 1948.11,609.11 C1948.81,606.79 1949.5,617 1950.06,620.25 C1950.62,623.5 1950.99,631.39 1951.45,628.6 C1951.92,625.82 1952.38,614.22 1952.84,603.54 C1953.31,592.87 1953.77,567.8 1954.24,564.56 C1954.7,561.31 1955.17,578.94 1955.63,584.05 C1956.09,589.15 1956.42,594.72 1957.02,595.19 C1957.63,595.65 1958.55,592.87 1959.25,586.83 C1959.95,580.8 1960.64,561.31 1961.2,558.99 C1961.76,556.67 1962.03,562.7 1962.59,572.91 C1963.15,583.12 1963.98,616.07 1964.54,620.25 C1965.1,624.43 1965.42,605.4 1965.93,597.97 C1966.44,590.55 1967,576.62 1967.6,575.69 C1968.21,574.77 1969,589.15 1969.55,592.4 C1970.11,595.65 1970.34,596.12 1970.95,595.19 C1971.55,594.26 1972.43,584.51 1973.17,586.83 C1973.92,589.15 1974.75,607.26 1975.4,609.11 C1976.05,610.97 1976.42,601.45 1977.07,597.97 C1977.72,594.49 1978.65,589.39 1979.3,588.23 C1979.95,587.07 1980.37,597.51 1980.97,591.01 C1981.57,584.51 1982.27,549.47 1982.92,549.24 C1983.57,549.01 1984.31,576.16 1984.87,589.62 C1985.43,603.08 1985.8,627.68 1986.26,630 C1986.73,632.32 1987.1,616.07 1987.65,603.54 C1988.21,591.01 1989.05,554.81 1989.6,554.81 C1990.16,554.81 1990.53,600.06 1991,603.54 C1991.46,607.02 1991.92,583.12 1992.39,575.69 C1992.85,568.27 1993.27,558.99 1993.78,558.99 C1994.29,558.99 1994.89,570.59 1995.45,575.69 C1996.01,580.8 1996.57,594.82 1997.12,589.62 C1997.68,584.42 1998.28,549.15 1998.79,544.51 C1999.3,539.86 1999.63,554.25 2000.19,561.77 C2000.74,569.29 2001.44,587.3 2002.13,589.62 C2002.83,591.94 2003.53,578.71 2004.36,575.69 C2005.2,572.68 2006.4,570.13 2007.15,571.52 C2007.89,572.91 2008.21,578.25 2008.82,584.05 C2009.42,589.85 2010.12,607.72 2010.77,606.33 C2011.42,604.93 2012.16,584.05 2012.72,575.69 C2013.27,567.34 2013.55,555.51 2014.11,556.2 C2014.67,556.9 2015.45,576.86 2016.06,579.87 C2016.66,582.89 2017.13,571.98 2017.73,574.3 C2018.33,576.62 2019.12,593.1 2019.68,593.8 C2020.24,594.49 2020.61,580.1 2021.07,578.48 C2021.53,576.86 2021.91,584.28 2022.46,584.05 C2023.02,583.82 2023.86,573.37 2024.41,577.09 C2024.97,580.8 2025.57,601.45 2025.8,606.33" fill="none" stroke="#3030f0" stroke-width="1.6" stroke-linejoin="round"/>
</g>
<rect x="1631.9" y="455" width="393.4" height="295.8" fill="none" stroke="#222" stroke-width="1.4"/>
<line x1="1631.9" y1="726.15" x2="1634.5" y2="726.15" stroke="#222" stroke-width="1.3" />
<line x1="1631.9" y1="701.5" x2="1636.3" y2="701.5" stroke="#222" stroke-width="1.3" />
<line x1="1631.9" y1="676.85" x2="1634.5" y2="676.85" stroke="#222" stroke-width="1.3" />
<line x1="1631.9" y1="652.2" x2="1636.3" y2="652.2" stroke="#222" stroke-width="1.3" />
<line x1="1631.9" y1="627.55" x2="1634.5" y2="627.55" stroke="#222" stroke-width="1.3" />
<line x1="1631.9" y1="602.9" x2="1636.3" y2="602.9" stroke="#222" stroke-width="1.3" />
<line x1="1631.9" y1="578.25" x2="1634.5" y2="578.25" stroke="#222" stroke-width="1.3" />
<line x1="1631.9" y1="553.6" x2="1636.3" y2="553.6" stroke="#222" stroke-width="1.3" />
<line x1="1631.9" y1="528.95" x2="1634.5" y2="528.95" stroke="#222" stroke-width="1.3" />
<line x1="1631.9" y1="504.3" x2="1636.3" y2="504.3" stroke="#222" stroke-width="1.3" />
<line x1="1631.9" y1="479.65" x2="1634.5" y2="479.65" stroke="#222" stroke-width="1.3" />
<line x1="1651.57" y1="750.8" x2="1651.57" y2="748.2" stroke="#222" stroke-width="1.3" />
<line x1="1671.24" y1="750.8" x2="1671.24" y2="746.4" stroke="#222" stroke-width="1.3" />
<line x1="1690.91" y1="750.8" x2="1690.91" y2="748.2" stroke="#222" stroke-width="1.3" />
<line x1="1710.58" y1="750.8" x2="1710.58" y2="746.4" stroke="#222" stroke-width="1.3" />
<line x1="1730.25" y1="750.8" x2="1730.25" y2="748.2" stroke="#222" stroke-width="1.3" />
<line x1="1749.92" y1="750.8" x2="1749.92" y2="746.4" stroke="#222" stroke-width="1.3" />
<line x1="1769.59" y1="750.8" x2="1769.59" y2="748.2" stroke="#222" stroke-width="1.3" />
<line x1="1789.26" y1="750.8" x2="1789.26" y2="746.4" stroke="#222" stroke-width="1.3" />
<line x1="1808.93" y1="750.8" x2="1808.93" y2="748.2" stroke="#222" stroke-width="1.3" />
<line x1="1828.6" y1="750.8" x2="1828.6" y2="746.4" stroke="#222" stroke-width="1.3" />
<line x1="1848.27" y1="750.8" x2="1848.27" y2="748.2" stroke="#222" stroke-width="1.3" />
<line x1="1867.94" y1="750.8" x2="1867.94" y2="746.4" stroke="#222" stroke-width="1.3" />
<line x1="1887.61" y1="750.8" x2="1887.61" y2="748.2" stroke="#222" stroke-width="1.3" />
<line x1="1907.28" y1="750.8" x2="1907.28" y2="746.4" stroke="#222" stroke-width="1.3" />
<line x1="1926.95" y1="750.8" x2="1926.95" y2="748.2" stroke="#222" stroke-width="1.3" />
<line x1="1946.62" y1="750.8" x2="1946.62" y2="746.4" stroke="#222" stroke-width="1.3" />
<line x1="1966.29" y1="750.8" x2="1966.29" y2="748.2" stroke="#222" stroke-width="1.3" />
<line x1="1985.96" y1="750.8" x2="1985.96" y2="746.4" stroke="#222" stroke-width="1.3" />
<line x1="2005.63" y1="750.8" x2="2005.63" y2="748.2" stroke="#222" stroke-width="1.3" />
<text x="1624.6" y="755" font-size="12" font-weight="bold" text-anchor="end" fill="#000" font-style="normal" >0</text>
<text x="1624.6" y="705.7" font-size="12" font-weight="bold" text-anchor="end" fill="#000" font-style="normal" >0.5</text>
<text x="1624.6" y="656.4" font-size="12" font-weight="bold" text-anchor="end" fill="#000" font-style="normal" >1</text>
<text x="1624.6" y="607.1" font-size="12" font-weight="bold" text-anchor="end" fill="#000" font-style="normal" >1.5</text>
<text x="1624.6" y="557.8" font-size="12" font-weight="bold" text-anchor="end" fill="#000" font-style="normal" >2</text>
<text x="1624.6" y="508.5" font-size="12" font-weight="bold" text-anchor="end" fill="#000" font-style="normal" >2.5</text>
<text x="1624.6" y="459.2" font-size="12" font-weight="bold" text-anchor="end" fill="#000" font-style="normal" >3</text>
<text x="1631.9" y="765.9" font-size="12" font-weight="bold" text-anchor="middle" fill="#000" font-style="normal" >&#8211;5</text>
<text x="1671.24" y="765.9" font-size="12" font-weight="bold" text-anchor="middle" fill="#000" font-style="normal" >&#8211;4</text>
<text x="1710.58" y="765.9" font-size="12" font-weight="bold" text-anchor="middle" fill="#000" font-style="normal" >&#8211;3</text>
<text x="1749.92" y="765.9" font-size="12" font-weight="bold" text-anchor="middle" fill="#000" font-style="normal" >&#8211;2</text>
<text x="1789.26" y="765.9" font-size="12" font-weight="bold" text-anchor="middle" fill="#000" font-style="normal" >&#8211;1</text>
<text x="1828.6" y="765.9" font-size="12" font-weight="bold" text-anchor="middle" fill="#000" font-style="normal" >0</text>
<text x="1867.94" y="765.9" font-size="12" font-weight="bold" text-anchor="middle" fill="#000" font-style="normal" >1</text>
<text x="1907.28" y="765.9" font-size="12" font-weight="bold" text-anchor="middle" fill="#000" font-style="normal" >2</text>
<text x="1946.62" y="765.9" font-size="12" font-weight="bold" text-anchor="middle" fill="#000" font-style="normal" >3</text>
<text x="1985.96" y="765.9" font-size="12" font-weight="bold" text-anchor="middle" fill="#000" font-style="normal" >4</text>
<text x="2025.3" y="765.9" font-size="12" font-weight="bold" text-anchor="middle" fill="#000" font-style="normal" >5</text>
<text x="1827.3" y="787.4" font-size="16.5" font-weight="bold" text-anchor="middle"><tspan font-style="italic">E</tspan> &#8722; <tspan font-style="italic">E</tspan><tspan font-size="12.5" dy="6">F</tspan><tspan dy="-6"> (eV)</tspan></text>
<text transform="translate(1592,602.3) rotate(-90)" font-size="16.5" font-weight="bold" text-anchor="middle" textLength="146.5" lengthAdjust="spacingAndGlyphs">DOS, states/eV/f.u.</text>
<line x1="1653.1" y1="472.5" x2="1695.6" y2="472.5" stroke="#3030f0" stroke-width="1.8" />
<text x="1706.7" y="479.8" font-size="16" font-weight="bold"><tspan font-style="italic">P1</tspan>-BaH<tspan font-size="12.5" dy="5.8">12</tspan></text>
<text x="2005.2" y="479.8" font-size="16" font-weight="normal" text-anchor="end" fill="#000" font-style="normal" >150 GPa</text>
<circle cx="765.46" cy="120.73" r="2.3" fill="url(#gH)"/>
<circle cx="769.42" cy="119.05" r="2.3" fill="url(#gH)"/>
<circle cx="773.38" cy="117.38" r="2.3" fill="url(#gH)"/>
<circle cx="781.48" cy="118.8" r="2.3" fill="url(#gH)"/>
<circle cx="785.26" cy="120.86" r="2.3" fill="url(#gH)"/>
<circle cx="789.03" cy="122.92" r="2.3" fill="url(#gH)"/>
<circle cx="810.9" cy="122.92" r="2.3" fill="url(#gH)"/>
<circle cx="814.67" cy="120.86" r="2.3" fill="url(#gH)"/>
<circle cx="818.45" cy="118.8" r="2.3" fill="url(#gH)"/>
<circle cx="827.23" cy="117.88" r="2.3" fill="url(#gH)"/>
<circle cx="831.27" cy="119.35" r="2.3" fill="url(#gH)"/>
<circle cx="835.3" cy="120.83" r="2.3" fill="url(#gH)"/>
<circle cx="848.88" cy="121.03" r="2.3" fill="url(#gH)"/>
<circle cx="852.84" cy="119.35" r="2.3" fill="url(#gH)"/>
<circle cx="856.8" cy="117.68" r="2.3" fill="url(#gH)"/>
<circle cx="865.96" cy="118.8" r="2.3" fill="url(#gH)"/>
<circle cx="869.73" cy="120.86" r="2.3" fill="url(#gH)"/>
<circle cx="873.51" cy="122.92" r="2.3" fill="url(#gH)"/>
<circle cx="893.87" cy="122.92" r="2.3" fill="url(#gH)"/>
<circle cx="897.64" cy="120.86" r="2.3" fill="url(#gH)"/>
<circle cx="901.41" cy="118.8" r="2.3" fill="url(#gH)"/>
<circle cx="910.95" cy="117.88" r="2.3" fill="url(#gH)"/>
<circle cx="914.99" cy="119.35" r="2.3" fill="url(#gH)"/>
<circle cx="919.03" cy="120.83" r="2.3" fill="url(#gH)"/>
<circle cx="769.44" cy="140.4" r="2.3" fill="url(#gH)"/>
<circle cx="772.43" cy="143.49" r="2.3" fill="url(#gH)"/>
<circle cx="775.43" cy="146.57" r="2.3" fill="url(#gH)"/>
<circle cx="786.24" cy="145" r="2.3" fill="url(#gH)"/>
<circle cx="790.54" cy="145" r="2.3" fill="url(#gH)"/>
<circle cx="794.84" cy="145" r="2.3" fill="url(#gH)"/>
<circle cx="806.79" cy="144.18" r="2.3" fill="url(#gH)"/>
<circle cx="810.9" cy="145.45" r="2.3" fill="url(#gH)"/>
<circle cx="815.01" cy="146.72" r="2.3" fill="url(#gH)"/>
<circle cx="826.01" cy="147.03" r="2.3" fill="url(#gH)"/>
<circle cx="829" cy="143.94" r="2.3" fill="url(#gH)"/>
<circle cx="832" cy="140.86" r="2.3" fill="url(#gH)"/>
<circle cx="852.41" cy="140.86" r="2.3" fill="url(#gH)"/>
<circle cx="855.4" cy="143.94" r="2.3" fill="url(#gH)"/>
<circle cx="858.4" cy="147.03" r="2.3" fill="url(#gH)"/>
<circle cx="869.2" cy="145" r="2.3" fill="url(#gH)"/>
<circle cx="873.5" cy="145" r="2.3" fill="url(#gH)"/>
<circle cx="877.8" cy="145" r="2.3" fill="url(#gH)"/>
<circle cx="889.76" cy="144.18" r="2.3" fill="url(#gH)"/>
<circle cx="893.87" cy="145.45" r="2.3" fill="url(#gH)"/>
<circle cx="897.98" cy="146.72" r="2.3" fill="url(#gH)"/>
<circle cx="908.98" cy="147.03" r="2.3" fill="url(#gH)"/>
<circle cx="911.97" cy="143.94" r="2.3" fill="url(#gH)"/>
<circle cx="914.97" cy="140.86" r="2.3" fill="url(#gH)"/>
<circle cx="769.44" cy="165.88" r="2.3" fill="url(#gH)"/>
<circle cx="772.43" cy="162.8" r="2.3" fill="url(#gH)"/>
<circle cx="775.43" cy="159.71" r="2.3" fill="url(#gH)"/>
<circle cx="786.24" cy="161.29" r="2.3" fill="url(#gH)"/>
<circle cx="790.54" cy="161.29" r="2.3" fill="url(#gH)"/>
<circle cx="794.84" cy="161.29" r="2.3" fill="url(#gH)"/>
<circle cx="806.79" cy="163.31" r="2.3" fill="url(#gH)"/>
<circle cx="810.9" cy="162.04" r="2.3" fill="url(#gH)"/>
<circle cx="815.01" cy="160.77" r="2.3" fill="url(#gH)"/>
<circle cx="826.01" cy="159.71" r="2.3" fill="url(#gH)"/>
<circle cx="829" cy="162.8" r="2.3" fill="url(#gH)"/>
<circle cx="832" cy="165.88" r="2.3" fill="url(#gH)"/>
<circle cx="852.41" cy="165.88" r="2.3" fill="url(#gH)"/>
<circle cx="855.4" cy="162.8" r="2.3" fill="url(#gH)"/>
<circle cx="858.4" cy="159.71" r="2.3" fill="url(#gH)"/>
<circle cx="869.2" cy="161.29" r="2.3" fill="url(#gH)"/>
<circle cx="873.5" cy="161.29" r="2.3" fill="url(#gH)"/>
<circle cx="877.8" cy="161.29" r="2.3" fill="url(#gH)"/>
<circle cx="889.76" cy="163.31" r="2.3" fill="url(#gH)"/>
<circle cx="893.87" cy="162.04" r="2.3" fill="url(#gH)"/>
<circle cx="897.98" cy="160.77" r="2.3" fill="url(#gH)"/>
<circle cx="908.98" cy="159.71" r="2.3" fill="url(#gH)"/>
<circle cx="911.97" cy="162.8" r="2.3" fill="url(#gH)"/>
<circle cx="914.97" cy="165.88" r="2.3" fill="url(#gH)"/>
<circle cx="764.62" cy="185.46" r="2.3" fill="url(#gH)"/>
<circle cx="768.66" cy="186.93" r="2.3" fill="url(#gH)"/>
<circle cx="772.7" cy="188.41" r="2.3" fill="url(#gH)"/>
<circle cx="783.77" cy="182.34" r="2.3" fill="url(#gH)"/>
<circle cx="786.76" cy="185.43" r="2.3" fill="url(#gH)"/>
<circle cx="789.76" cy="188.51" r="2.3" fill="url(#gH)"/>
<circle cx="810.92" cy="188.51" r="2.3" fill="url(#gH)"/>
<circle cx="813.92" cy="185.43" r="2.3" fill="url(#gH)"/>
<circle cx="816.91" cy="182.34" r="2.3" fill="url(#gH)"/>
<circle cx="827.98" cy="188.41" r="2.3" fill="url(#gH)"/>
<circle cx="832.02" cy="186.93" r="2.3" fill="url(#gH)"/>
<circle cx="836.06" cy="185.46" r="2.3" fill="url(#gH)"/>
<circle cx="848.35" cy="185.46" r="2.3" fill="url(#gH)"/>
<circle cx="852.38" cy="186.93" r="2.3" fill="url(#gH)"/>
<circle cx="856.42" cy="188.41" r="2.3" fill="url(#gH)"/>
<circle cx="866.74" cy="182.34" r="2.3" fill="url(#gH)"/>
<circle cx="869.73" cy="185.43" r="2.3" fill="url(#gH)"/>
<circle cx="872.73" cy="188.51" r="2.3" fill="url(#gH)"/>
<circle cx="893.89" cy="188.51" r="2.3" fill="url(#gH)"/>
<circle cx="896.89" cy="185.43" r="2.3" fill="url(#gH)"/>
<circle cx="899.88" cy="182.34" r="2.3" fill="url(#gH)"/>
<circle cx="910.95" cy="188.41" r="2.3" fill="url(#gH)"/>
<circle cx="914.99" cy="186.93" r="2.3" fill="url(#gH)"/>
<circle cx="919.03" cy="185.46" r="2.3" fill="url(#gH)"/>
<circle cx="764.62" cy="205" r="2.3" fill="url(#gH)"/>
<circle cx="768.66" cy="203.53" r="2.3" fill="url(#gH)"/>
<circle cx="772.7" cy="202.05" r="2.3" fill="url(#gH)"/>
<circle cx="783.77" cy="208.12" r="2.3" fill="url(#gH)"/>
<circle cx="786.76" cy="205.04" r="2.3" fill="url(#gH)"/>
<circle cx="789.76" cy="201.95" r="2.3" fill="url(#gH)"/>
<circle cx="810.92" cy="201.95" r="2.3" fill="url(#gH)"/>
<circle cx="813.92" cy="205.04" r="2.3" fill="url(#gH)"/>
<circle cx="816.91" cy="208.12" r="2.3" fill="url(#gH)"/>
<circle cx="827.98" cy="202.05" r="2.3" fill="url(#gH)"/>
<circle cx="832.02" cy="203.53" r="2.3" fill="url(#gH)"/>
<circle cx="836.06" cy="205" r="2.3" fill="url(#gH)"/>
<circle cx="848.35" cy="205" r="2.3" fill="url(#gH)"/>
<circle cx="852.38" cy="203.53" r="2.3" fill="url(#gH)"/>
<circle cx="856.42" cy="202.05" r="2.3" fill="url(#gH)"/>
<circle cx="866.74" cy="208.12" r="2.3" fill="url(#gH)"/>
<circle cx="869.73" cy="205.04" r="2.3" fill="url(#gH)"/>
<circle cx="872.73" cy="201.95" r="2.3" fill="url(#gH)"/>
<circle cx="893.89" cy="201.95" r="2.3" fill="url(#gH)"/>
<circle cx="896.89" cy="205.04" r="2.3" fill="url(#gH)"/>
<circle cx="899.88" cy="208.12" r="2.3" fill="url(#gH)"/>
<circle cx="910.95" cy="202.05" r="2.3" fill="url(#gH)"/>
<circle cx="914.99" cy="203.53" r="2.3" fill="url(#gH)"/>
<circle cx="919.03" cy="205" r="2.3" fill="url(#gH)"/>
<circle cx="769.44" cy="230.75" r="2.3" fill="url(#gH)"/>
<circle cx="772.43" cy="227.66" r="2.3" fill="url(#gH)"/>
<circle cx="775.43" cy="224.58" r="2.3" fill="url(#gH)"/>
<circle cx="785.67" cy="231.2" r="2.3" fill="url(#gH)"/>
<circle cx="789.78" cy="229.93" r="2.3" fill="url(#gH)"/>
<circle cx="793.89" cy="228.66" r="2.3" fill="url(#gH)"/>
<circle cx="806.79" cy="228.66" r="2.3" fill="url(#gH)"/>
<circle cx="810.9" cy="229.93" r="2.3" fill="url(#gH)"/>
<circle cx="815.01" cy="231.2" r="2.3" fill="url(#gH)"/>
<circle cx="826.01" cy="224.58" r="2.3" fill="url(#gH)"/>
<circle cx="829" cy="227.66" r="2.3" fill="url(#gH)"/>
<circle cx="832" cy="230.75" r="2.3" fill="url(#gH)"/>
<circle cx="852.41" cy="230.75" r="2.3" fill="url(#gH)"/>
<circle cx="855.4" cy="227.66" r="2.3" fill="url(#gH)"/>
<circle cx="858.4" cy="224.58" r="2.3" fill="url(#gH)"/>
<circle cx="869.4" cy="231.2" r="2.3" fill="url(#gH)"/>
<circle cx="873.5" cy="229.93" r="2.3" fill="url(#gH)"/>
<circle cx="877.61" cy="228.66" r="2.3" fill="url(#gH)"/>
<circle cx="889.76" cy="228.66" r="2.3" fill="url(#gH)"/>
<circle cx="893.87" cy="229.93" r="2.3" fill="url(#gH)"/>
<circle cx="897.98" cy="231.2" r="2.3" fill="url(#gH)"/>
<circle cx="908.98" cy="224.58" r="2.3" fill="url(#gH)"/>
<circle cx="911.97" cy="227.66" r="2.3" fill="url(#gH)"/>
<circle cx="914.97" cy="230.75" r="2.3" fill="url(#gH)"/>
<line x1="758.9" y1="134.9" x2="800.3" y2="130.4" stroke="#26ad26" stroke-width="3.2"/>
<line x1="800.3" y1="130.4" x2="842.1" y2="134.9" stroke="#26ad26" stroke-width="3.2"/>
<line x1="842.1" y1="134.9" x2="883.3" y2="130.4" stroke="#26ad26" stroke-width="3.2"/>
<line x1="883.3" y1="130.4" x2="925.2" y2="134.9" stroke="#26ad26" stroke-width="3.2"/>
<line x1="758.9" y1="171.8" x2="800.3" y2="176.4" stroke="#26ad26" stroke-width="3.2"/>
<line x1="800.3" y1="176.4" x2="842.1" y2="171.8" stroke="#26ad26" stroke-width="3.2"/>
<line x1="842.1" y1="171.8" x2="883.3" y2="176.4" stroke="#26ad26" stroke-width="3.2"/>
<line x1="883.3" y1="176.4" x2="925.2" y2="171.8" stroke="#26ad26" stroke-width="3.2"/>
<line x1="758.9" y1="218.3" x2="800.3" y2="214.1" stroke="#26ad26" stroke-width="3.2"/>
<line x1="800.3" y1="214.1" x2="842.1" y2="218.3" stroke="#26ad26" stroke-width="3.2"/>
<line x1="842.1" y1="218.3" x2="883.3" y2="214.1" stroke="#26ad26" stroke-width="3.2"/>
<line x1="883.3" y1="214.1" x2="925.2" y2="218.3" stroke="#26ad26" stroke-width="3.2"/>
<line x1="758.9" y1="134.9" x2="758.9" y2="171.8" stroke="#26ad26" stroke-width="3.2"/>
<line x1="842.1" y1="134.9" x2="842.1" y2="171.8" stroke="#26ad26" stroke-width="3.2"/>
<line x1="925.2" y1="134.9" x2="925.2" y2="171.8" stroke="#26ad26" stroke-width="3.2"/>
<line x1="800.3" y1="176.4" x2="800.3" y2="214.1" stroke="#26ad26" stroke-width="3.2"/>
<line x1="883.3" y1="176.4" x2="883.3" y2="214.1" stroke="#26ad26" stroke-width="3.2"/>
<line x1="758.9" y1="134.9" x2="800.3" y2="176.4" stroke="#2db82d" stroke-width="3.4"/>
<line x1="758.9" y1="134.9" x2="800.3" y2="176.4" stroke="#b8f5b8" stroke-width="1.0"/>
<line x1="800.3" y1="130.4" x2="758.9" y2="171.8" stroke="#2db82d" stroke-width="3.4"/>
<line x1="800.3" y1="130.4" x2="758.9" y2="171.8" stroke="#b8f5b8" stroke-width="1.0"/>
<line x1="800.3" y1="130.4" x2="842.1" y2="171.8" stroke="#2db82d" stroke-width="3.4"/>
<line x1="800.3" y1="130.4" x2="842.1" y2="171.8" stroke="#b8f5b8" stroke-width="1.0"/>
<line x1="842.1" y1="134.9" x2="800.3" y2="176.4" stroke="#2db82d" stroke-width="3.4"/>
<line x1="842.1" y1="134.9" x2="800.3" y2="176.4" stroke="#b8f5b8" stroke-width="1.0"/>
<line x1="842.1" y1="134.9" x2="883.3" y2="176.4" stroke="#2db82d" stroke-width="3.4"/>
<line x1="842.1" y1="134.9" x2="883.3" y2="176.4" stroke="#b8f5b8" stroke-width="1.0"/>
<line x1="883.3" y1="130.4" x2="842.1" y2="171.8" stroke="#2db82d" stroke-width="3.4"/>
<line x1="883.3" y1="130.4" x2="842.1" y2="171.8" stroke="#b8f5b8" stroke-width="1.0"/>
<line x1="883.3" y1="130.4" x2="925.2" y2="171.8" stroke="#2db82d" stroke-width="3.4"/>
<line x1="883.3" y1="130.4" x2="925.2" y2="171.8" stroke="#b8f5b8" stroke-width="1.0"/>
<line x1="925.2" y1="134.9" x2="883.3" y2="176.4" stroke="#2db82d" stroke-width="3.4"/>
<line x1="925.2" y1="134.9" x2="883.3" y2="176.4" stroke="#b8f5b8" stroke-width="1.0"/>
<line x1="758.9" y1="171.8" x2="800.3" y2="214.1" stroke="#2db82d" stroke-width="3.4"/>
<line x1="758.9" y1="171.8" x2="800.3" y2="214.1" stroke="#b8f5b8" stroke-width="1.0"/>
<line x1="800.3" y1="176.4" x2="758.9" y2="218.3" stroke="#2db82d" stroke-width="3.4"/>
<line x1="800.3" y1="176.4" x2="758.9" y2="218.3" stroke="#b8f5b8" stroke-width="1.0"/>
<line x1="800.3" y1="176.4" x2="842.1" y2="218.3" stroke="#2db82d" stroke-width="3.4"/>
<line x1="800.3" y1="176.4" x2="842.1" y2="218.3" stroke="#b8f5b8" stroke-width="1.0"/>
<line x1="842.1" y1="171.8" x2="800.3" y2="214.1" stroke="#2db82d" stroke-width="3.4"/>
<line x1="842.1" y1="171.8" x2="800.3" y2="214.1" stroke="#b8f5b8" stroke-width="1.0"/>
<line x1="842.1" y1="171.8" x2="883.3" y2="214.1" stroke="#2db82d" stroke-width="3.4"/>
<line x1="842.1" y1="171.8" x2="883.3" y2="214.1" stroke="#b8f5b8" stroke-width="1.0"/>
<line x1="883.3" y1="176.4" x2="842.1" y2="218.3" stroke="#2db82d" stroke-width="3.4"/>
<line x1="883.3" y1="176.4" x2="842.1" y2="218.3" stroke="#b8f5b8" stroke-width="1.0"/>
<line x1="883.3" y1="176.4" x2="925.2" y2="218.3" stroke="#2db82d" stroke-width="3.4"/>
<line x1="883.3" y1="176.4" x2="925.2" y2="218.3" stroke="#b8f5b8" stroke-width="1.0"/>
<line x1="925.2" y1="171.8" x2="883.3" y2="214.1" stroke="#2db82d" stroke-width="3.4"/>
<line x1="925.2" y1="171.8" x2="883.3" y2="214.1" stroke="#b8f5b8" stroke-width="1.0"/>
<circle cx="758.9" cy="134.9" r="12.8" fill="url(#gBa)"/>
<circle cx="800.3" cy="130.4" r="12.8" fill="url(#gBa)"/>
<circle cx="842.1" cy="134.9" r="12.8" fill="url(#gBa)"/>
<circle cx="883.3" cy="130.4" r="12.8" fill="url(#gBa)"/>
<circle cx="925.2" cy="134.9" r="12.8" fill="url(#gBa)"/>
<circle cx="758.9" cy="171.8" r="12.8" fill="url(#gBa)"/>
<circle cx="800.3" cy="176.4" r="12.8" fill="url(#gBa)"/>
<circle cx="842.1" cy="171.8" r="12.8" fill="url(#gBa)"/>
<circle cx="883.3" cy="176.4" r="12.8" fill="url(#gBa)"/>
<circle cx="925.2" cy="171.8" r="12.8" fill="url(#gBa)"/>
<circle cx="758.9" cy="218.3" r="12.8" fill="url(#gBa)"/>
<circle cx="800.3" cy="214.1" r="12.8" fill="url(#gBa)"/>
<circle cx="842.1" cy="218.3" r="12.8" fill="url(#gBa)"/>
<circle cx="883.3" cy="214.1" r="12.8" fill="url(#gBa)"/>
<circle cx="925.2" cy="218.3" r="12.8" fill="url(#gBa)"/>
<line x1="1204.5" y1="128.8" x2="1247.9" y2="129.5" stroke="#26ad26" stroke-width="3.2"/>
<line x1="1247.9" y1="129.5" x2="1286.3" y2="128.8" stroke="#26ad26" stroke-width="3.2"/>
<line x1="1286.3" y1="128.8" x2="1329.7" y2="129.5" stroke="#26ad26" stroke-width="3.2"/>
<line x1="1329.7" y1="129.5" x2="1368.7" y2="128.8" stroke="#26ad26" stroke-width="3.2"/>
<line x1="1206.6" y1="170.1" x2="1245.1" y2="170.5" stroke="#26ad26" stroke-width="3.2"/>
<line x1="1245.1" y1="170.5" x2="1288.7" y2="170.1" stroke="#26ad26" stroke-width="3.2"/>
<line x1="1288.7" y1="170.1" x2="1327" y2="170.5" stroke="#26ad26" stroke-width="3.2"/>
<line x1="1327" y1="170.5" x2="1370.8" y2="170.1" stroke="#26ad26" stroke-width="3.2"/>
<line x1="1204.5" y1="211.6" x2="1247.9" y2="211.6" stroke="#26ad26" stroke-width="3.2"/>
<line x1="1247.9" y1="211.6" x2="1286.3" y2="211.6" stroke="#26ad26" stroke-width="3.2"/>
<line x1="1286.3" y1="211.6" x2="1329.7" y2="211.6" stroke="#26ad26" stroke-width="3.2"/>
<line x1="1329.7" y1="211.6" x2="1368.7" y2="211.6" stroke="#26ad26" stroke-width="3.2"/>
<line x1="1204.5" y1="128.8" x2="1206.6" y2="170.1" stroke="#26ad26" stroke-width="3.2"/>
<line x1="1247.9" y1="129.5" x2="1245.1" y2="170.5" stroke="#26ad26" stroke-width="3.2"/>
<line x1="1286.3" y1="128.8" x2="1288.7" y2="170.1" stroke="#26ad26" stroke-width="3.2"/>
<line x1="1329.7" y1="129.5" x2="1327" y2="170.5" stroke="#26ad26" stroke-width="3.2"/>
<line x1="1368.7" y1="128.8" x2="1370.8" y2="170.1" stroke="#26ad26" stroke-width="3.2"/>
<line x1="1204.5" y1="128.8" x2="1245.1" y2="170.5" stroke="#2db82d" stroke-width="3.4"/>
<line x1="1204.5" y1="128.8" x2="1245.1" y2="170.5" stroke="#b8f5b8" stroke-width="1.0"/>
<line x1="1247.9" y1="129.5" x2="1206.6" y2="170.1" stroke="#2db82d" stroke-width="3.4"/>
<line x1="1247.9" y1="129.5" x2="1206.6" y2="170.1" stroke="#b8f5b8" stroke-width="1.0"/>
<line x1="1247.9" y1="129.5" x2="1288.7" y2="170.1" stroke="#2db82d" stroke-width="3.4"/>
<line x1="1247.9" y1="129.5" x2="1288.7" y2="170.1" stroke="#b8f5b8" stroke-width="1.0"/>
<line x1="1286.3" y1="128.8" x2="1245.1" y2="170.5" stroke="#2db82d" stroke-width="3.4"/>
<line x1="1286.3" y1="128.8" x2="1245.1" y2="170.5" stroke="#b8f5b8" stroke-width="1.0"/>
<line x1="1286.3" y1="128.8" x2="1327" y2="170.5" stroke="#2db82d" stroke-width="3.4"/>
<line x1="1286.3" y1="128.8" x2="1327" y2="170.5" stroke="#b8f5b8" stroke-width="1.0"/>
<line x1="1329.7" y1="129.5" x2="1288.7" y2="170.1" stroke="#2db82d" stroke-width="3.4"/>
<line x1="1329.7" y1="129.5" x2="1288.7" y2="170.1" stroke="#b8f5b8" stroke-width="1.0"/>
<line x1="1329.7" y1="129.5" x2="1370.8" y2="170.1" stroke="#2db82d" stroke-width="3.4"/>
<line x1="1329.7" y1="129.5" x2="1370.8" y2="170.1" stroke="#b8f5b8" stroke-width="1.0"/>
<line x1="1368.7" y1="128.8" x2="1327" y2="170.5" stroke="#2db82d" stroke-width="3.4"/>
<line x1="1368.7" y1="128.8" x2="1327" y2="170.5" stroke="#b8f5b8" stroke-width="1.0"/>
<line x1="1206.6" y1="170.1" x2="1204.5" y2="211.6" stroke="#26ad26" stroke-width="3.2"/>
<line x1="1245.1" y1="170.5" x2="1247.9" y2="211.6" stroke="#26ad26" stroke-width="3.2"/>
<line x1="1288.7" y1="170.1" x2="1286.3" y2="211.6" stroke="#26ad26" stroke-width="3.2"/>
<line x1="1327" y1="170.5" x2="1329.7" y2="211.6" stroke="#26ad26" stroke-width="3.2"/>
<line x1="1370.8" y1="170.1" x2="1368.7" y2="211.6" stroke="#26ad26" stroke-width="3.2"/>
<line x1="1206.6" y1="170.1" x2="1247.9" y2="211.6" stroke="#2db82d" stroke-width="3.4"/>
<line x1="1206.6" y1="170.1" x2="1247.9" y2="211.6" stroke="#b8f5b8" stroke-width="1.0"/>
<line x1="1245.1" y1="170.5" x2="1204.5" y2="211.6" stroke="#2db82d" stroke-width="3.4"/>
<line x1="1245.1" y1="170.5" x2="1204.5" y2="211.6" stroke="#b8f5b8" stroke-width="1.0"/>
<line x1="1245.1" y1="170.5" x2="1286.3" y2="211.6" stroke="#2db82d" stroke-width="3.4"/>
<line x1="1245.1" y1="170.5" x2="1286.3" y2="211.6" stroke="#b8f5b8" stroke-width="1.0"/>
<line x1="1288.7" y1="170.1" x2="1247.9" y2="211.6" stroke="#2db82d" stroke-width="3.4"/>
<line x1="1288.7" y1="170.1" x2="1247.9" y2="211.6" stroke="#b8f5b8" stroke-width="1.0"/>
<line x1="1288.7" y1="170.1" x2="1329.7" y2="211.6" stroke="#2db82d" stroke-width="3.4"/>
<line x1="1288.7" y1="170.1" x2="1329.7" y2="211.6" stroke="#b8f5b8" stroke-width="1.0"/>
<line x1="1327" y1="170.5" x2="1286.3" y2="211.6" stroke="#2db82d" stroke-width="3.4"/>
<line x1="1327" y1="170.5" x2="1286.3" y2="211.6" stroke="#b8f5b8" stroke-width="1.0"/>
<line x1="1327" y1="170.5" x2="1368.7" y2="211.6" stroke="#2db82d" stroke-width="3.4"/>
<line x1="1327" y1="170.5" x2="1368.7" y2="211.6" stroke="#b8f5b8" stroke-width="1.0"/>
<line x1="1370.8" y1="170.1" x2="1329.7" y2="211.6" stroke="#2db82d" stroke-width="3.4"/>
<line x1="1370.8" y1="170.1" x2="1329.7" y2="211.6" stroke="#b8f5b8" stroke-width="1.0"/>
<circle cx="1204.5" cy="128.8" r="13.2" fill="url(#gBa)"/>
<circle cx="1247.9" cy="129.5" r="13.2" fill="url(#gBa)"/>
<circle cx="1286.3" cy="128.8" r="13.2" fill="url(#gBa2)"/>
<circle cx="1329.7" cy="129.5" r="13.2" fill="url(#gBa)"/>
<circle cx="1368.7" cy="128.8" r="13.2" fill="url(#gBa2)"/>
<circle cx="1206.6" cy="170.1" r="13.2" fill="url(#gBa)"/>
<circle cx="1245.1" cy="170.5" r="13.2" fill="url(#gBa2)"/>
<circle cx="1288.7" cy="170.1" r="13.2" fill="url(#gBa)"/>
<circle cx="1327" cy="170.5" r="13.2" fill="url(#gBa2)"/>
<circle cx="1370.8" cy="170.1" r="13.2" fill="url(#gBa)"/>
<circle cx="1204.5" cy="211.6" r="13.2" fill="url(#gBa2)"/>
<circle cx="1247.9" cy="211.6" r="13.2" fill="url(#gBa)"/>
<circle cx="1286.3" cy="211.6" r="13.2" fill="url(#gBa2)"/>
<circle cx="1329.7" cy="211.6" r="13.2" fill="url(#gBa)"/>
<circle cx="1368.7" cy="211.6" r="13.2" fill="url(#gBa2)"/>
<circle cx="1217.71" cy="123.22" r="2.5" fill="url(#gH)"/>
<circle cx="1215.9" cy="129.49" r="2.5" fill="url(#gH)"/>
<circle cx="1218.12" cy="135.33" r="2.5" fill="url(#gH)"/>
<circle cx="1219.79" cy="142.71" r="2.5" fill="url(#gH)"/>
<circle cx="1232.32" cy="127.4" r="2.5" fill="url(#gH)"/>
<circle cx="1233.02" cy="140.9" r="2.5" fill="url(#gH)"/>
<circle cx="1242.06" cy="117.65" r="2.5" fill="url(#gH)"/>
<circle cx="1242.06" cy="141.73" r="2.5" fill="url(#gH)"/>
<circle cx="1256.68" cy="117.65" r="2.5" fill="url(#gH)"/>
<circle cx="1255.29" cy="141.73" r="2.5" fill="url(#gH)"/>
<circle cx="1277.55" cy="117.65" r="2.5" fill="url(#gH)"/>
<circle cx="1278.95" cy="128.79" r="2.5" fill="url(#gH)"/>
<circle cx="1276.86" cy="139.92" r="2.5" fill="url(#gH)"/>
<circle cx="1279.64" cy="142.71" r="2.5" fill="url(#gH)"/>
<circle cx="1300.24" cy="123.22" r="2.5" fill="url(#gH)"/>
<circle cx="1298.43" cy="129.49" r="2.5" fill="url(#gH)"/>
<circle cx="1300.24" cy="135.33" r="2.5" fill="url(#gH)"/>
<circle cx="1301.91" cy="142.71" r="2.5" fill="url(#gH)"/>
<circle cx="1314.44" cy="127.4" r="2.5" fill="url(#gH)"/>
<circle cx="1315.13" cy="140.9" r="2.5" fill="url(#gH)"/>
<circle cx="1324.18" cy="117.65" r="2.5" fill="url(#gH)"/>
<circle cx="1324.18" cy="141.73" r="2.5" fill="url(#gH)"/>
<circle cx="1339.49" cy="117.65" r="2.5" fill="url(#gH)"/>
<circle cx="1337.4" cy="141.73" r="2.5" fill="url(#gH)"/>
<circle cx="1360.09" cy="117.65" r="2.5" fill="url(#gH)"/>
<circle cx="1361.48" cy="128.79" r="2.5" fill="url(#gH)"/>
<circle cx="1359.67" cy="139.92" r="2.5" fill="url(#gH)"/>
<circle cx="1361.76" cy="142.71" r="2.5" fill="url(#gH)"/>
<circle cx="1262.94" cy="146.46" r="2.5" fill="url(#gH)"/>
<circle cx="1270.18" cy="146.88" r="2.5" fill="url(#gH)"/>
<circle cx="1345.06" cy="146.46" r="2.5" fill="url(#gH)"/>
<circle cx="1352.71" cy="146.88" r="2.5" fill="url(#gH)"/>
<circle cx="1213.53" cy="155.65" r="2.5" fill="url(#gH)"/>
<circle cx="1222.58" cy="153.15" r="2.5" fill="url(#gH)"/>
<circle cx="1229.26" cy="153.42" r="2.5" fill="url(#gH)"/>
<circle cx="1237.19" cy="159.41" r="2.5" fill="url(#gH)"/>
<circle cx="1251.11" cy="159.83" r="2.5" fill="url(#gH)"/>
<circle cx="1261.27" cy="156.62" r="2.5" fill="url(#gH)"/>
<circle cx="1274.07" cy="158.02" r="2.5" fill="url(#gH)"/>
<circle cx="1295.65" cy="155.65" r="2.5" fill="url(#gH)"/>
<circle cx="1304.69" cy="153.15" r="2.5" fill="url(#gH)"/>
<circle cx="1311.37" cy="153.42" r="2.5" fill="url(#gH)"/>
<circle cx="1319.31" cy="159.41" r="2.5" fill="url(#gH)"/>
<circle cx="1333.23" cy="159.83" r="2.5" fill="url(#gH)"/>
<circle cx="1343.66" cy="156.62" r="2.5" fill="url(#gH)"/>
<circle cx="1356.89" cy="158.02" r="2.5" fill="url(#gH)"/>
<circle cx="1257.37" cy="169.85" r="2.5" fill="url(#gH)"/>
<circle cx="1260.85" cy="169.57" r="2.5" fill="url(#gH)"/>
<circle cx="1339.49" cy="169.85" r="2.5" fill="url(#gH)"/>
<circle cx="1343.39" cy="169.57" r="2.5" fill="url(#gH)"/>
<circle cx="1274.77" cy="164.98" r="2.5" fill="url(#gH)"/>
<circle cx="1274.77" cy="176.81" r="2.5" fill="url(#gH)"/>
<circle cx="1357.3" cy="164.28" r="2.5" fill="url(#gH)"/>
<circle cx="1357.3" cy="176.81" r="2.5" fill="url(#gH)"/>
<circle cx="1213.53" cy="183.76" r="2.5" fill="url(#gH)"/>
<circle cx="1236.5" cy="180.98" r="2.5" fill="url(#gH)"/>
<circle cx="1237.89" cy="182.65" r="2.5" fill="url(#gH)"/>
<circle cx="1250.69" cy="182.65" r="2.5" fill="url(#gH)"/>
<circle cx="1260.16" cy="182.65" r="2.5" fill="url(#gH)"/>
<circle cx="1272.68" cy="183.76" r="2.5" fill="url(#gH)"/>
<circle cx="1296.06" cy="183.76" r="2.5" fill="url(#gH)"/>
<circle cx="1318.61" cy="180.98" r="2.5" fill="url(#gH)"/>
<circle cx="1320.28" cy="182.65" r="2.5" fill="url(#gH)"/>
<circle cx="1332.81" cy="182.65" r="2.5" fill="url(#gH)"/>
<circle cx="1342.27" cy="182.65" r="2.5" fill="url(#gH)"/>
<circle cx="1355.08" cy="183.76" r="2.5" fill="url(#gH)"/>
<circle cx="1663.55" cy="115.07" r="2.6" fill="url(#gH)"/>
<circle cx="1670.85" cy="115.07" r="2.6" fill="url(#gH)"/>
<circle cx="1683.03" cy="115.56" r="2.6" fill="url(#gH)"/>
<circle cx="1698.14" cy="114.74" r="2.6" fill="url(#gH)"/>
<circle cx="1700.41" cy="122.54" r="2.6" fill="url(#gH)"/>
<circle cx="1700.41" cy="127.73" r="2.6" fill="url(#gH)"/>
<circle cx="1727.69" cy="117.18" r="2.6" fill="url(#gH)"/>
<circle cx="1730.94" cy="114.42" r="2.6" fill="url(#gH)"/>
<circle cx="1743.93" cy="114.42" r="2.6" fill="url(#gH)"/>
<circle cx="1744.74" cy="117.18" r="2.6" fill="url(#gH)"/>
<circle cx="1748.8" cy="119.62" r="2.6" fill="url(#gH)"/>
<circle cx="1755.62" cy="117.18" r="2.6" fill="url(#gH)"/>
<circle cx="1755.62" cy="119.94" r="2.6" fill="url(#gH)"/>
<circle cx="1768.29" cy="119.94" r="2.6" fill="url(#gH)"/>
<circle cx="1778.84" cy="118.8" r="2.6" fill="url(#gH)"/>
<circle cx="1783.23" cy="119.62" r="2.6" fill="url(#gH)"/>
<circle cx="1785.83" cy="127.41" r="2.6" fill="url(#gH)"/>
<circle cx="1785.83" cy="132.61" r="2.6" fill="url(#gH)"/>
<circle cx="1807.26" cy="126.11" r="2.6" fill="url(#gH)"/>
<circle cx="1809.7" cy="123.67" r="2.6" fill="url(#gH)"/>
<circle cx="1812.95" cy="121.56" r="2.6" fill="url(#gH)"/>
<circle cx="1653.8" cy="143.16" r="2.6" fill="url(#gH)"/>
<circle cx="1683.85" cy="132.93" r="2.6" fill="url(#gH)"/>
<circle cx="1687.91" cy="142.03" r="2.6" fill="url(#gH)"/>
<circle cx="1690.34" cy="143.65" r="2.6" fill="url(#gH)"/>
<circle cx="1701.38" cy="142.67" r="2.6" fill="url(#gH)"/>
<circle cx="1712.75" cy="143.97" r="2.6" fill="url(#gH)"/>
<circle cx="1721.2" cy="143.97" r="2.6" fill="url(#gH)"/>
<circle cx="1724.12" cy="148.03" r="2.6" fill="url(#gH)"/>
<circle cx="1729.31" cy="151.28" r="2.6" fill="url(#gH)"/>
<circle cx="1739.06" cy="147.22" r="2.6" fill="url(#gH)"/>
<circle cx="1738.25" cy="145.27" r="2.6" fill="url(#gH)"/>
<circle cx="1769.1" cy="139.1" r="2.6" fill="url(#gH)"/>
<circle cx="1772.84" cy="146.41" r="2.6" fill="url(#gH)"/>
<circle cx="1774.78" cy="147.55" r="2.6" fill="url(#gH)"/>
<circle cx="1786.15" cy="146.9" r="2.6" fill="url(#gH)"/>
<circle cx="1792.97" cy="142.03" r="2.6" fill="url(#gH)"/>
<circle cx="1797.52" cy="148.85" r="2.6" fill="url(#gH)"/>
<circle cx="1805.64" cy="148.52" r="2.6" fill="url(#gH)"/>
<circle cx="1810.51" cy="150.79" r="2.6" fill="url(#gH)"/>
<circle cx="1686.28" cy="156.15" r="2.6" fill="url(#gH)"/>
<circle cx="1686.77" cy="158.59" r="2.6" fill="url(#gH)"/>
<circle cx="1700.9" cy="160.21" r="2.6" fill="url(#gH)"/>
<circle cx="1703.33" cy="155.34" r="2.6" fill="url(#gH)"/>
<circle cx="1704.96" cy="158.59" r="2.6" fill="url(#gH)"/>
<circle cx="1713.89" cy="161.02" r="2.6" fill="url(#gH)"/>
<circle cx="1717.14" cy="160.21" r="2.6" fill="url(#gH)"/>
<circle cx="1727.37" cy="159.4" r="2.6" fill="url(#gH)"/>
<circle cx="1735.81" cy="161.51" r="2.6" fill="url(#gH)"/>
<circle cx="1739.87" cy="166.71" r="2.6" fill="url(#gH)"/>
<circle cx="1742.63" cy="166.38" r="2.6" fill="url(#gH)"/>
<circle cx="1771.21" cy="160.21" r="2.6" fill="url(#gH)"/>
<circle cx="1771.21" cy="162.65" r="2.6" fill="url(#gH)"/>
<circle cx="1786.96" cy="161.84" r="2.6" fill="url(#gH)"/>
<circle cx="1790.21" cy="162.65" r="2.6" fill="url(#gH)"/>
<circle cx="1799.95" cy="163.46" r="2.6" fill="url(#gH)"/>
<circle cx="1802.39" cy="164.27" r="2.6" fill="url(#gH)"/>
<circle cx="1813.43" cy="162.65" r="2.6" fill="url(#gH)"/>
<circle cx="1654.62" cy="162.65" r="2.6" fill="url(#gH)"/>
<circle cx="1656.24" cy="162.16" r="2.6" fill="url(#gH)"/>
<circle cx="1650.56" cy="187.82" r="2.6" fill="url(#gH)"/>
<circle cx="1655.43" cy="184.57" r="2.6" fill="url(#gH)"/>
<circle cx="1667.61" cy="182.62" r="2.6" fill="url(#gH)"/>
<circle cx="1677.35" cy="183.76" r="2.6" fill="url(#gH)"/>
<circle cx="1678.97" cy="186.2" r="2.6" fill="url(#gH)"/>
<circle cx="1681.9" cy="189.44" r="2.6" fill="url(#gH)"/>
<circle cx="1694.4" cy="187.82" r="2.6" fill="url(#gH)"/>
<circle cx="1699.27" cy="184.57" r="2.6" fill="url(#gH)"/>
<circle cx="1701.71" cy="183.76" r="2.6" fill="url(#gH)"/>
<circle cx="1726.07" cy="182.95" r="2.6" fill="url(#gH)"/>
<circle cx="1728.99" cy="185.71" r="2.6" fill="url(#gH)"/>
<circle cx="1740.68" cy="189.12" r="2.6" fill="url(#gH)"/>
<circle cx="1752.05" cy="187.01" r="2.6" fill="url(#gH)"/>
<circle cx="1762.12" cy="187.82" r="2.6" fill="url(#gH)"/>
<circle cx="1763.74" cy="191.07" r="2.6" fill="url(#gH)"/>
<circle cx="1779.66" cy="192.69" r="2.6" fill="url(#gH)"/>
<circle cx="1810.51" cy="186.52" r="2.6" fill="url(#gH)"/>
<circle cx="1811.81" cy="187.82" r="2.6" fill="url(#gH)"/>
<circle cx="1657.86" cy="196.26" r="2.6" fill="url(#gH)"/>
<circle cx="1659.16" cy="198.86" r="2.6" fill="url(#gH)"/>
<circle cx="1669.23" cy="198.86" r="2.6" fill="url(#gH)"/>
<circle cx="1670.04" cy="200.81" r="2.6" fill="url(#gH)"/>
<circle cx="1683.03" cy="200.81" r="2.6" fill="url(#gH)"/>
<circle cx="1691.64" cy="200.81" r="2.6" fill="url(#gH)"/>
<circle cx="1696.02" cy="201.62" r="2.6" fill="url(#gH)"/>
<circle cx="1697.65" cy="200.81" r="2.6" fill="url(#gH)"/>
<circle cx="1700.08" cy="208.93" r="2.6" fill="url(#gH)"/>
<circle cx="1727.37" cy="203.25" r="2.6" fill="url(#gH)"/>
<circle cx="1730.94" cy="200.81" r="2.6" fill="url(#gH)"/>
<circle cx="1743.12" cy="200.81" r="2.6" fill="url(#gH)"/>
<circle cx="1744.74" cy="203.73" r="2.6" fill="url(#gH)"/>
<circle cx="1754.49" cy="203.25" r="2.6" fill="url(#gH)"/>
<circle cx="1755.3" cy="204.87" r="2.6" fill="url(#gH)"/>
<circle cx="1769.1" cy="204.38" r="2.6" fill="url(#gH)"/>
<circle cx="1777.71" cy="204.87" r="2.6" fill="url(#gH)"/>
<circle cx="1779.66" cy="206.49" r="2.6" fill="url(#gH)"/>
<circle cx="1683.03" cy="221.11" r="2.6" fill="url(#gH)"/>
<circle cx="1653.8" cy="227.12" r="2.6" fill="url(#gH)"/>
<circle cx="1651.69" cy="232.48" r="2.6" fill="url(#gH)"/>
<circle cx="1688.39" cy="230.37" r="2.6" fill="url(#gH)"/>
<circle cx="1698.79" cy="228.42" r="2.6" fill="url(#gH)"/>
<circle cx="1711.45" cy="229.72" r="2.6" fill="url(#gH)"/>
<circle cx="1712.75" cy="228.42" r="2.6" fill="url(#gH)"/>
<circle cx="1724.44" cy="232.48" r="2.6" fill="url(#gH)"/>
<circle cx="1737.43" cy="231.66" r="2.6" fill="url(#gH)"/>
<circle cx="1737.11" cy="236.21" r="2.6" fill="url(#gH)"/>
<circle cx="1768.29" cy="225.49" r="2.6" fill="url(#gH)"/>
<line x1="1669.2" y1="130.2" x2="1715" y2="127.7" stroke="#26ad26" stroke-width="3.2"/>
<line x1="1715" y1="127.7" x2="1754" y2="134.6" stroke="#26ad26" stroke-width="3.2"/>
<line x1="1754" y1="134.6" x2="1800.8" y2="131.3" stroke="#26ad26" stroke-width="3.2"/>
<line x1="1670.9" y1="167.5" x2="1709.8" y2="174.8" stroke="#26ad26" stroke-width="3.2"/>
<line x1="1709.8" y1="174.8" x2="1756.1" y2="171.9" stroke="#26ad26" stroke-width="3.2"/>
<line x1="1756.1" y1="171.9" x2="1795.6" y2="178.9" stroke="#26ad26" stroke-width="3.2"/>
<line x1="1667.6" y1="216.2" x2="1714.4" y2="213" stroke="#26ad26" stroke-width="3.2"/>
<line x1="1714.4" y1="213" x2="1752.9" y2="220.6" stroke="#26ad26" stroke-width="3.2"/>
<line x1="1752.9" y1="220.6" x2="1800" y2="217.4" stroke="#26ad26" stroke-width="3.2"/>
<line x1="1669.2" y1="130.2" x2="1670.9" y2="167.5" stroke="#26ad26" stroke-width="3.2"/>
<line x1="1754" y1="134.6" x2="1756.1" y2="171.9" stroke="#26ad26" stroke-width="3.2"/>
<line x1="1709.8" y1="174.8" x2="1714.4" y2="213" stroke="#26ad26" stroke-width="3.2"/>
<line x1="1795.6" y1="178.9" x2="1800" y2="217.4" stroke="#26ad26" stroke-width="3.2"/>
<line x1="1669.2" y1="130.2" x2="1709.8" y2="174.8" stroke="#2db82d" stroke-width="3.4"/>
<line x1="1669.2" y1="130.2" x2="1709.8" y2="174.8" stroke="#b8f5b8" stroke-width="1.0"/>
<line x1="1715" y1="127.7" x2="1670.9" y2="167.5" stroke="#2db82d" stroke-width="3.4"/>
<line x1="1715" y1="127.7" x2="1670.9" y2="167.5" stroke="#b8f5b8" stroke-width="1.0"/>
<line x1="1715" y1="127.7" x2="1756.1" y2="171.9" stroke="#2db82d" stroke-width="3.4"/>
<line x1="1715" y1="127.7" x2="1756.1" y2="171.9" stroke="#b8f5b8" stroke-width="1.0"/>
<line x1="1754" y1="134.6" x2="1709.8" y2="174.8" stroke="#2db82d" stroke-width="3.4"/>
<line x1="1754" y1="134.6" x2="1709.8" y2="174.8" stroke="#b8f5b8" stroke-width="1.0"/>
<line x1="1754" y1="134.6" x2="1795.6" y2="178.9" stroke="#2db82d" stroke-width="3.4"/>
<line x1="1754" y1="134.6" x2="1795.6" y2="178.9" stroke="#b8f5b8" stroke-width="1.0"/>
<line x1="1800.8" y1="131.3" x2="1756.1" y2="171.9" stroke="#2db82d" stroke-width="3.4"/>
<line x1="1800.8" y1="131.3" x2="1756.1" y2="171.9" stroke="#b8f5b8" stroke-width="1.0"/>
<line x1="1670.9" y1="167.5" x2="1714.4" y2="213" stroke="#2db82d" stroke-width="3.4"/>
<line x1="1670.9" y1="167.5" x2="1714.4" y2="213" stroke="#b8f5b8" stroke-width="1.0"/>
<line x1="1709.8" y1="174.8" x2="1667.6" y2="216.2" stroke="#2db82d" stroke-width="3.4"/>
<line x1="1709.8" y1="174.8" x2="1667.6" y2="216.2" stroke="#b8f5b8" stroke-width="1.0"/>
<line x1="1709.8" y1="174.8" x2="1752.9" y2="220.6" stroke="#2db82d" stroke-width="3.4"/>
<line x1="1709.8" y1="174.8" x2="1752.9" y2="220.6" stroke="#b8f5b8" stroke-width="1.0"/>
<line x1="1756.1" y1="171.9" x2="1714.4" y2="213" stroke="#2db82d" stroke-width="3.4"/>
<line x1="1756.1" y1="171.9" x2="1714.4" y2="213" stroke="#b8f5b8" stroke-width="1.0"/>
<line x1="1756.1" y1="171.9" x2="1800" y2="217.4" stroke="#2db82d" stroke-width="3.4"/>
<line x1="1756.1" y1="171.9" x2="1800" y2="217.4" stroke="#b8f5b8" stroke-width="1.0"/>
<line x1="1795.6" y1="178.9" x2="1752.9" y2="220.6" stroke="#2db82d" stroke-width="3.4"/>
<line x1="1795.6" y1="178.9" x2="1752.9" y2="220.6" stroke="#b8f5b8" stroke-width="1.0"/>
<circle cx="1669.2" cy="130.2" r="14" fill="url(#gBa)"/>
<circle cx="1715" cy="127.7" r="14" fill="url(#gBa)"/>
<circle cx="1754" cy="134.6" r="14" fill="url(#gBa)"/>
<circle cx="1800.8" cy="131.3" r="14" fill="url(#gBa)"/>
<circle cx="1670.9" cy="167.5" r="14" fill="url(#gBa)"/>
<circle cx="1709.8" cy="174.8" r="14" fill="url(#gBa)"/>
<circle cx="1756.1" cy="171.9" r="14" fill="url(#gBa)"/>
<circle cx="1795.6" cy="178.9" r="14" fill="url(#gBa)"/>
<circle cx="1667.6" cy="216.2" r="14" fill="url(#gBa)"/>
<circle cx="1714.4" cy="213" r="14" fill="url(#gBa)"/>
<circle cx="1752.9" cy="220.6" r="14" fill="url(#gBa)"/>
<circle cx="1800" cy="217.4" r="14" fill="url(#gBa)"/>
<circle cx="1676.05" cy="162.16" r="2.6" fill="url(#gH)"/>
<circle cx="1679.3" cy="170.28" r="2.6" fill="url(#gH)"/>
<circle cx="1703.01" cy="168.33" r="2.6" fill="url(#gH)"/>
<circle cx="1722.49" cy="178.89" r="2.6" fill="url(#gH)"/>
<circle cx="1724.44" cy="174.83" r="2.6" fill="url(#gH)"/>
<circle cx="1760.98" cy="166.38" r="2.6" fill="url(#gH)"/>
<circle cx="1764.72" cy="174.5" r="2.6" fill="url(#gH)"/>
<polygon points="714.4,27 1927.5,27 1927.5,15.9 1996,38.6 1927.5,62 1927.5,50.3 714.4,50.3" fill="url(#gTop)" stroke="#222" stroke-width="1.1"/>
<polygon points="709.5,814.3 778,791.5 778,802.7 1992,802.7 1992,826.2 778,826.2 778,837.5" fill="url(#gBot)" stroke="#222" stroke-width="1.1"/>
<text x="1741.8" y="18.3" font-size="24.5" font-weight="bold" text-anchor="start" fill="#000" font-style="normal" textLength="145.5" lengthAdjust="spacingAndGlyphs">Stabilization</text>
<text x="825.8" y="854.8" font-size="23.5" font-weight="bold" text-anchor="start" fill="#000" font-style="normal" textLength="184.4" lengthAdjust="spacingAndGlyphs">Symmetrization</text>
</svg>
</body></html>
